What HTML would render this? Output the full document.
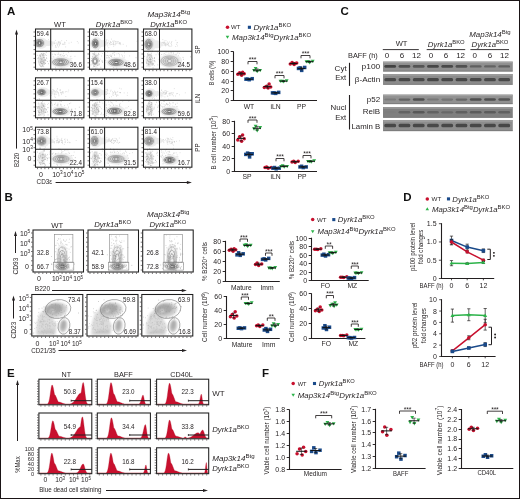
<!DOCTYPE html>
<html><head><meta charset="utf-8"><style>
html,body{margin:0;padding:0;background:#fff;}
body{width:520px;height:499px;overflow:hidden;}
svg{display:block;filter:blur(0.45px);font-family:"Liberation Sans", sans-serif;}
</style></head><body>
<svg width="520" height="499" viewBox="0 0 520 499">
<text x="6.9" y="15.3" font-size="11.5" text-anchor="start" fill="#111" font-weight="bold">A</text>
<text x="4.6" y="200.8" font-size="11.5" text-anchor="start" fill="#111" font-weight="bold">B</text>
<text x="340.4" y="15.4" font-size="11.5" text-anchor="start" fill="#111" font-weight="bold">C</text>
<text x="403.2" y="200.6" font-size="11.5" text-anchor="start" fill="#111" font-weight="bold">D</text>
<text x="7.0" y="377.2" font-size="11.5" text-anchor="start" fill="#111" font-weight="bold">E</text>
<text x="262.0" y="377.2" font-size="11.5" text-anchor="start" fill="#111" font-weight="bold">F</text>
<circle cx="227.50" cy="27.30" r="1.75" fill="#c8102e"/>
<text x="231.1" y="29.4" font-size="5.76" text-anchor="start" fill="#231f20" textLength="9.4" lengthAdjust="spacingAndGlyphs">WT</text>
<rect x="247.85" y="25.75" width="3.10" height="3.10" fill="#1a4a8a"/>
<text x="253.4" y="29.9" font-size="8.0" text-anchor="start" fill="#231f20" textLength="37.8" lengthAdjust="spacingAndGlyphs"><tspan font-style="italic">Dyrk1a</tspan><tspan font-size="6.08" dy="-2.88" font-style="normal">BKO</tspan></text>
<path d="M225.74,35.82 L229.26,35.82 L227.50,38.86 Z" fill="#2db34a"/>
<text x="232" y="39.6" font-size="8.0" text-anchor="start" fill="#231f20" textLength="79.3" lengthAdjust="spacingAndGlyphs"><tspan font-style="italic">Map3k14</tspan><tspan font-size="6.08" dy="-2.88" font-style="normal">Btg</tspan><tspan font-style="italic" dy="2.88">Dyrk1a</tspan><tspan font-size="6.08" dy="-2.88" font-style="normal">BKO</tspan></text>
<circle cx="312.70" cy="219.60" r="1.75" fill="#c8102e"/>
<text x="316.9" y="221.7" font-size="5.76" text-anchor="start" fill="#231f20" textLength="9.6" lengthAdjust="spacingAndGlyphs">WT</text>
<rect x="332.25" y="218.05" width="3.10" height="3.10" fill="#1a4a8a"/>
<text x="337.7" y="222.2" font-size="8.0" text-anchor="start" fill="#231f20" textLength="37.0" lengthAdjust="spacingAndGlyphs"><tspan font-style="italic">Dyrk1a</tspan><tspan font-size="6.08" dy="-2.88" font-style="normal">BKO</tspan></text>
<path d="M310.94,230.22 L314.46,230.22 L312.70,233.26 Z" fill="#2db34a"/>
<text x="317.5" y="234.0" font-size="8.0" text-anchor="start" fill="#231f20" textLength="78.0" lengthAdjust="spacingAndGlyphs"><tspan font-style="italic">Map3k14</tspan><tspan font-size="6.08" dy="-2.88" font-style="normal">Btg</tspan><tspan font-style="italic" dy="2.88">Dyrk1a</tspan><tspan font-size="6.08" dy="-2.88" font-style="normal">BKO</tspan></text>
<circle cx="427.30" cy="198.90" r="1.75" fill="#c8102e"/>
<text x="431.5" y="201.0" font-size="5.76" text-anchor="start" fill="#231f20" textLength="9.7" lengthAdjust="spacingAndGlyphs">WT</text>
<rect x="446.95" y="197.35" width="3.10" height="3.10" fill="#1a4a8a"/>
<text x="452.3" y="201.5" font-size="8.0" text-anchor="start" fill="#231f20" textLength="37.0" lengthAdjust="spacingAndGlyphs"><tspan font-style="italic">Dyrk1a</tspan><tspan font-size="6.08" dy="-2.88" font-style="normal">BKO</tspan></text>
<path d="M425.54,210.28 L429.06,210.28 L427.30,207.24 Z" fill="#2db34a"/>
<text x="431.9" y="211.5" font-size="8.0" text-anchor="start" fill="#231f20" textLength="78.2" lengthAdjust="spacingAndGlyphs"><tspan font-style="italic">Map3k14</tspan><tspan font-size="6.08" dy="-2.88" font-style="normal">Btg</tspan><tspan font-style="italic" dy="2.88">Dyrk1a</tspan><tspan font-size="6.08" dy="-2.88" font-style="normal">BKO</tspan></text>
<circle cx="293.20" cy="383.50" r="1.75" fill="#c8102e"/>
<text x="297.7" y="385.6" font-size="5.616" text-anchor="start" fill="#231f20" textLength="8.8" lengthAdjust="spacingAndGlyphs">WT</text>
<rect x="312.95" y="381.95" width="3.10" height="3.10" fill="#1a4a8a"/>
<text x="318.7" y="386.1" font-size="7.8" text-anchor="start" fill="#231f20" textLength="36.0" lengthAdjust="spacingAndGlyphs"><tspan font-style="italic">Dyrk1a</tspan><tspan font-size="5.93" dy="-2.81" font-style="normal">BKO</tspan></text>
<path d="M291.44,393.72 L294.96,393.72 L293.20,396.76 Z" fill="#2db34a"/>
<text x="297.8" y="397.5" font-size="7.8" text-anchor="start" fill="#231f20" textLength="79.0" lengthAdjust="spacingAndGlyphs"><tspan font-style="italic">Map3k14</tspan><tspan font-size="5.93" dy="-2.81" font-style="normal">Btg</tspan><tspan font-style="italic" dy="2.81">Dyrk1a</tspan><tspan font-size="5.93" dy="-2.81" font-style="normal">BKO</tspan></text>
<ellipse cx="41.50" cy="60.20" rx="3.80" ry="7.00" fill="#ebebeb" stroke="none" stroke-width="0.6"/>
<path d="M41.1,59.4h0.7 M41.2,63.4h0.7 M41.2,53.5h0.7 M42.3,59.0h0.7 M41.0,60.7h0.7 M42.1,65.4h0.7 M43.1,60.7h0.7 M39.7,55.6h0.7 M42.1,66.1h0.7 M41.6,59.7h0.7 M42.8,53.7h0.7 M40.7,62.4h0.7 M43.7,59.1h0.7 M42.4,61.3h0.7 M43.5,55.2h0.7 M42.9,53.4h0.7 M39.2,64.1h0.7 M43.2,54.7h0.7 M43.6,55.7h0.7 M41.3,58.9h0.7 M41.8,63.9h0.7 M43.1,61.8h0.7 M43.1,62.4h0.7 M39.9,57.0h0.7 M40.3,62.4h0.7 M39.5,55.3h0.7 M43.4,66.6h0.7 M42.8,64.0h0.7 M45.1,59.8h0.7 M37.9,57.8h0.7 M43.9,53.7h0.7 M41.6,61.3h0.7 M40.7,63.5h0.7 M43.0,57.5h0.7 M40.1,56.5h0.7 M43.9,57.6h0.7 M41.3,63.6h0.7 M39.7,58.9h0.7 M36.9,55.3h0.7 M40.1,62.1h0.7 M44.5,60.1h0.7 M42.2,61.0h0.7 M44.2,64.2h0.7 M42.2,55.7h0.7 M43.8,61.9h0.7 M44.6,60.1h0.7 M46.4,58.6h0.7 M45.5,60.7h0.7 M40.2,55.1h0.7 M41.1,66.6h0.7 M43.5,63.3h0.7 M42.9,57.7h0.7 M39.9,60.2h0.7 M45.8,55.5h0.7 M40.4,66.3h0.7 M40.4,58.6h0.7 M41.7,54.6h0.7 M42.0,54.8h0.7 M43.7,60.2h0.7 M47.2,61.5h0.7 M44.9,54.3h0.7 M41.2,61.7h0.7 M45.9,52.6h0.7 M44.0,62.9h0.7 M45.3,63.4h0.7 M41.6,57.9h0.7 M38.4,61.1h0.7 M40.0,61.6h0.7 M37.6,58.4h0.7 M42.2,63.9h0.7 M45.1,60.0h0.7 M38.7,62.3h0.7 M42.8,62.4h0.7 M39.7,65.3h0.7 M41.7,63.3h0.7" stroke="#a8a8a8" stroke-width="0.70" fill="none"/>
<path d="M64.6,44.2h0.7 M58.2,47.0h0.7 M57.9,42.6h0.7 M57.0,45.8h0.7 M57.1,44.0h0.7 M64.1,42.2h0.7 M45.1,43.6h0.7 M57.8,42.0h0.7 M62.0,44.2h0.7 M49.8,44.0h0.7 M55.0,40.4h0.7 M59.2,43.0h0.7 M51.5,44.0h0.7 M59.5,42.1h0.7 M58.9,44.9h0.7 M51.7,43.8h0.7 M56.3,47.2h0.7 M44.2,44.4h0.7 M54.3,42.9h0.7 M68.7,43.1h0.7 M70.9,42.3h0.7 M58.6,42.2h0.7 M51.8,43.2h0.7 M54.5,43.5h0.7 M42.6,46.7h0.7 M55.2,46.2h0.7 M49.8,43.6h0.7 M76.9,41.5h0.7 M46.6,42.1h0.7 M59.4,44.3h0.7 M64.7,42.6h0.7 M45.9,42.3h0.7 M64.4,43.9h0.7 M43.6,43.0h0.7 M65.4,46.9h0.7 M60.0,43.7h0.7 M48.2,41.6h0.7 M56.6,44.0h0.7 M60.1,42.2h0.7 M48.8,41.7h0.7 M48.8,44.3h0.7 M41.3,42.5h0.7 M59.2,45.8h0.7 M56.8,44.9h0.7 M53.7,41.8h0.7 M51.9,45.8h0.7 M62.8,44.0h0.7 M77.9,43.0h0.7 M60.3,43.7h0.7 M54.9,47.3h0.7 M66.1,40.6h0.7 M53.7,43.9h0.7 M61.4,40.7h0.7 M41.6,39.7h0.7 M55.8,42.9h0.7 M58.5,41.7h0.7 M48.3,39.5h0.7 M58.4,43.8h0.7 M62.8,44.5h0.7 M55.1,45.5h0.7" stroke="#c6c6c6" stroke-width="0.70" fill="none"/>
<path d="M57.6,54.5h0.7 M55.0,54.7h0.7 M43.4,56.6h0.7 M60.3,55.3h0.7 M53.6,57.1h0.7 M70.6,56.3h0.7 M55.0,54.7h0.7 M58.1,53.0h0.7 M57.7,56.4h0.7 M71.5,58.6h0.7 M65.8,54.4h0.7 M63.3,53.4h0.7 M60.8,57.2h0.7 M53.2,61.2h0.7 M62.6,51.4h0.7 M62.5,55.2h0.7 M58.6,57.4h0.7 M61.3,51.1h0.7 M50.5,58.1h0.7 M67.7,61.0h0.7 M71.2,51.1h0.7 M64.0,51.4h0.7 M69.9,56.8h0.7 M50.6,61.2h0.7 M63.1,51.5h0.7 M60.7,54.4h0.7 M59.4,55.0h0.7 M68.2,52.6h0.7 M60.8,60.7h0.7 M52.8,56.7h0.7 M60.0,54.5h0.7 M63.1,56.4h0.7 M52.0,60.6h0.7 M64.1,55.8h0.7 M54.1,54.2h0.7 M67.2,55.8h0.7 M61.8,55.7h0.7 M62.9,55.9h0.7 M63.9,55.7h0.7 M64.4,57.9h0.7 M57.8,54.1h0.7 M52.0,54.3h0.7 M51.7,58.4h0.7 M58.3,60.1h0.7 M74.6,56.3h0.7" stroke="#c6c6c6" stroke-width="0.70" fill="none"/>
<path d="M49.5,61.0h0.7 M60.1,57.5h0.7 M58.8,63.1h0.7 M57.3,59.8h0.7 M55.1,67.8h0.7 M59.5,59.6h0.7 M57.9,65.2h0.7 M55.7,63.7h0.7 M65.8,64.6h0.7 M70.7,60.5h0.7 M68.8,59.7h0.7 M57.7,66.0h0.7 M66.5,62.2h0.7 M52.0,64.0h0.7 M56.1,59.3h0.7 M55.9,63.0h0.7 M45.3,63.3h0.7 M61.9,60.4h0.7 M68.1,64.1h0.7 M56.2,60.1h0.7 M65.6,57.4h0.7 M58.2,60.2h0.7 M61.1,62.9h0.7 M60.9,65.8h0.7 M62.2,61.2h0.7 M51.9,64.5h0.7 M64.4,66.8h0.7 M55.2,62.3h0.7 M60.2,61.9h0.7 M60.7,56.8h0.7 M66.5,64.3h0.7 M58.3,62.1h0.7 M60.7,68.3h0.7 M48.1,63.7h0.7 M50.0,54.1h0.7 M46.1,57.8h0.7 M68.3,59.5h0.7 M59.0,58.5h0.7 M65.0,58.7h0.7 M70.1,59.1h0.7 M55.1,62.6h0.7 M60.8,66.7h0.7 M61.5,58.4h0.7 M56.6,60.4h0.7 M65.8,63.4h0.7 M59.7,64.9h0.7 M56.8,61.8h0.7 M61.9,67.0h0.7 M59.9,61.1h0.7" stroke="#a8a8a8" stroke-width="0.70" fill="none"/>
<ellipse cx="40.30" cy="43.10" rx="7.40" ry="5.80" fill="#eeeeee" stroke="none" stroke-width="0.6"/>
<ellipse cx="46.00" cy="43.10" rx="8.04" ry="2.88" fill="#ebebeb" stroke="none" stroke-width="0.6"/>
<ellipse cx="39.80" cy="43.10" rx="5.40" ry="4.40" fill="#dcdcdc" stroke="none" stroke-width="0.6"/>
<ellipse cx="39.30" cy="43.10" rx="4.20" ry="3.60" fill="none" stroke="#7c7c7c" stroke-width="0.7"/>
<ellipse cx="39.37" cy="43.10" rx="3.19" ry="2.74" fill="none" stroke="#666666" stroke-width="0.7"/>
<ellipse cx="39.44" cy="43.10" rx="2.18" ry="1.87" fill="none" stroke="#4f4f4f" stroke-width="0.7"/>
<ellipse cx="39.51" cy="43.10" rx="1.26" ry="1.08" fill="none" stroke="#383838" stroke-width="0.7"/>
<ellipse cx="39.50" cy="43.10" rx="0.50" ry="0.54" fill="#eeeeee" stroke="none" stroke-width="0.6"/>
<ellipse cx="61.60" cy="62.20" rx="11.20" ry="5.70" fill="#eeeeee" stroke="none" stroke-width="0.6"/>
<ellipse cx="61.10" cy="62.20" rx="9.20" ry="4.30" fill="#dcdcdc" stroke="none" stroke-width="0.6"/>
<ellipse cx="60.60" cy="62.20" rx="8.00" ry="3.50" fill="none" stroke="#909090" stroke-width="0.7"/>
<ellipse cx="60.67" cy="62.20" rx="6.08" ry="2.66" fill="none" stroke="#808080" stroke-width="0.7"/>
<ellipse cx="60.74" cy="62.20" rx="4.16" ry="1.82" fill="none" stroke="#6f6f6f" stroke-width="0.7"/>
<ellipse cx="60.81" cy="62.20" rx="2.40" ry="1.05" fill="none" stroke="#5f5f5f" stroke-width="0.7"/>
<ellipse cx="60.80" cy="62.20" rx="0.96" ry="0.53" fill="#eeeeee" stroke="none" stroke-width="0.6"/>
<rect x="35.5" y="29" width="48.4" height="40.2" fill="none" stroke="#1e1e1e" stroke-width="1.05"/>
<line x1="35.5" y1="51.2" x2="83.9" y2="51.2" stroke="#1e1e1e" stroke-width="1.05"/>
<line x1="50.7" y1="29" x2="50.7" y2="69.2" stroke="#1e1e1e" stroke-width="1.05"/>
<path d="M33.5,32.0H35.0 M33.5,36.4H35.0 M33.5,40.8H35.0 M33.5,45.2H35.0 M33.5,49.6H35.0 M33.5,54.0H35.0 M33.5,58.4H35.0 M33.5,62.8H35.0 M33.5,67.2H35.0" stroke="#231f20" stroke-width="0.6" fill="none"/>
<path d="M37.5,69.7V71.2 M41.2,69.7V71.2 M44.9,69.7V71.2 M48.6,69.7V71.2 M52.3,69.7V71.2 M56.0,69.7V71.2 M59.7,69.7V71.2 M63.4,69.7V71.2 M67.1,69.7V71.2 M70.8,69.7V71.2 M74.5,69.7V71.2 M78.2,69.7V71.2 M81.9,69.7V71.2" stroke="#231f20" stroke-width="0.6" fill="none"/>
<text x="36.8" y="35.9" font-size="7.0" text-anchor="start" fill="#231f20" textLength="12.2" lengthAdjust="spacingAndGlyphs">59.4</text>
<text x="81.9" y="66.9" font-size="7.0" text-anchor="end" fill="#231f20" textLength="12.2" lengthAdjust="spacingAndGlyphs">36.6</text>
<ellipse cx="95.50" cy="60.20" rx="3.80" ry="7.00" fill="#ebebeb" stroke="none" stroke-width="0.6"/>
<path d="M92.9,63.3h0.7 M94.0,61.7h0.7 M90.7,64.9h0.7 M92.2,56.7h0.7 M98.1,54.2h0.7 M95.3,60.5h0.7 M93.0,66.2h0.7 M99.2,51.3h0.7 M91.9,63.8h0.7 M92.2,58.5h0.7 M95.8,63.3h0.7 M94.9,60.6h0.7 M93.6,66.0h0.7 M94.3,61.7h0.7 M94.2,60.7h0.7 M95.1,59.5h0.7 M93.0,63.8h0.7 M99.0,61.3h0.7 M97.3,64.0h0.7 M97.8,61.6h0.7 M96.0,64.1h0.7 M95.7,55.8h0.7 M95.6,51.7h0.7 M95.5,62.1h0.7 M98.6,60.9h0.7 M97.8,60.2h0.7 M92.9,53.8h0.7 M93.1,54.1h0.7 M97.1,59.3h0.7 M96.9,60.5h0.7 M98.1,65.0h0.7 M93.9,59.0h0.7 M94.2,52.9h0.7 M97.2,65.5h0.7 M95.5,58.0h0.7 M98.2,49.6h0.7 M95.9,60.8h0.7 M94.1,66.5h0.7 M97.9,59.0h0.7 M95.3,58.5h0.7 M94.2,54.3h0.7 M98.9,64.8h0.7 M97.5,55.3h0.7 M96.0,56.1h0.7 M93.3,62.1h0.7 M93.2,60.0h0.7 M98.2,53.4h0.7 M100.5,67.3h0.7 M92.4,53.8h0.7 M94.8,55.6h0.7 M94.8,48.6h0.7 M94.9,68.3h0.7 M92.7,59.0h0.7 M91.8,63.1h0.7 M96.0,58.5h0.7 M96.9,57.9h0.7 M92.2,61.6h0.7 M95.1,60.9h0.7 M96.4,57.9h0.7 M96.6,68.0h0.7 M92.7,68.0h0.7 M94.9,56.8h0.7 M101.6,60.9h0.7 M98.9,63.9h0.7 M91.3,60.7h0.7 M94.2,54.2h0.7 M91.1,60.7h0.7 M97.0,62.0h0.7 M94.7,56.6h0.7 M93.0,57.7h0.7 M92.9,59.3h0.7 M95.4,56.2h0.7 M94.9,56.8h0.7 M95.5,62.5h0.7 M95.9,62.3h0.7 M91.4,58.5h0.7 M96.2,63.1h0.7 M91.5,60.9h0.7" stroke="#a8a8a8" stroke-width="0.70" fill="none"/>
<path d="M120.0,43.2h0.7 M111.6,44.3h0.7 M113.8,44.7h0.7 M112.7,43.8h0.7 M107.1,43.2h0.7 M120.3,43.1h0.7 M111.1,42.6h0.7 M117.3,42.0h0.7 M118.1,41.8h0.7 M105.3,43.9h0.7 M113.0,44.0h0.7 M119.1,42.8h0.7 M115.1,41.9h0.7 M120.4,44.6h0.7 M115.7,43.8h0.7 M107.1,42.9h0.7 M115.5,43.5h0.7 M113.0,41.1h0.7 M113.4,42.3h0.7 M105.2,43.2h0.7 M100.1,44.8h0.7 M117.7,43.4h0.7 M105.7,41.8h0.7 M111.2,39.1h0.7 M113.4,44.7h0.7 M110.2,42.6h0.7 M113.4,44.1h0.7 M119.3,43.5h0.7 M107.7,42.7h0.7 M113.4,46.3h0.7 M110.1,41.6h0.7 M106.5,39.7h0.7 M114.3,41.0h0.7 M104.2,39.9h0.7 M104.9,44.5h0.7 M103.7,40.4h0.7 M113.4,42.9h0.7 M115.0,44.8h0.7 M112.1,41.2h0.7 M111.4,44.4h0.7 M108.4,40.9h0.7 M119.4,42.8h0.7 M109.5,43.5h0.7 M118.9,44.0h0.7 M110.0,44.7h0.7 M126.2,46.0h0.7 M116.6,41.5h0.7 M136.6,41.3h0.7 M109.8,42.2h0.7 M122.8,44.3h0.7 M102.9,44.0h0.7 M115.8,42.9h0.7 M104.3,42.2h0.7 M109.4,43.5h0.7 M108.8,44.8h0.7 M106.0,40.4h0.7 M107.4,45.9h0.7 M108.5,47.7h0.7 M115.4,41.4h0.7 M106.8,43.9h0.7" stroke="#c6c6c6" stroke-width="0.70" fill="none"/>
<path d="M105.8,62.1h0.7 M107.1,57.9h0.7 M124.2,55.9h0.7 M107.0,55.5h0.7 M116.5,58.4h0.7 M114.4,52.7h0.7 M114.3,54.5h0.7 M98.7,54.5h0.7 M104.0,57.7h0.7 M127.6,60.8h0.7 M110.0,55.0h0.7 M118.8,58.9h0.7 M111.1,55.8h0.7 M129.4,55.9h0.7 M110.6,56.5h0.7 M118.1,53.6h0.7 M112.3,53.3h0.7 M112.1,60.9h0.7 M119.2,56.0h0.7 M107.5,55.4h0.7 M121.4,54.8h0.7 M124.2,52.8h0.7 M112.0,60.6h0.7 M99.9,59.2h0.7 M101.0,56.0h0.7 M112.8,58.3h0.7 M91.9,51.4h0.7 M110.0,56.3h0.7 M107.7,55.6h0.7 M105.7,55.2h0.7 M108.1,56.8h0.7 M118.1,59.8h0.7 M109.4,55.4h0.7 M114.3,55.5h0.7 M113.6,52.3h0.7 M116.6,53.9h0.7 M107.3,52.2h0.7 M122.1,55.8h0.7 M122.0,56.9h0.7 M102.1,53.5h0.7 M119.3,54.3h0.7 M106.4,55.8h0.7 M112.8,53.7h0.7 M111.7,55.0h0.7 M95.9,57.5h0.7" stroke="#c6c6c6" stroke-width="0.70" fill="none"/>
<path d="M110.7,66.2h0.7 M108.5,57.9h0.7 M123.7,57.8h0.7 M111.9,64.1h0.7 M113.9,57.6h0.7 M117.2,61.8h0.7 M124.3,64.1h0.7 M135.7,57.7h0.7 M115.9,59.3h0.7 M123.5,64.8h0.7 M120.9,60.2h0.7 M111.2,56.6h0.7 M127.1,63.9h0.7 M114.3,65.1h0.7 M120.9,65.2h0.7 M105.5,60.3h0.7 M117.3,63.4h0.7 M122.2,59.5h0.7 M120.5,64.9h0.7 M115.9,64.6h0.7 M127.7,62.7h0.7 M123.9,59.9h0.7 M119.8,65.0h0.7 M111.1,65.6h0.7 M111.6,60.1h0.7 M116.0,68.0h0.7 M118.0,65.1h0.7 M111.3,62.6h0.7 M108.4,60.8h0.7 M121.4,62.3h0.7 M125.4,61.8h0.7 M114.7,66.1h0.7 M111.8,58.0h0.7 M124.4,63.6h0.7 M102.0,62.5h0.7 M113.4,67.4h0.7 M111.3,60.7h0.7 M110.1,59.4h0.7 M111.5,58.3h0.7 M109.3,57.8h0.7 M106.3,57.9h0.7 M112.6,60.4h0.7 M108.1,63.8h0.7 M115.7,61.2h0.7 M113.0,67.0h0.7 M117.6,63.8h0.7 M99.2,60.5h0.7 M101.9,61.2h0.7 M118.4,60.5h0.7" stroke="#a8a8a8" stroke-width="0.70" fill="none"/>
<ellipse cx="96.20" cy="43.50" rx="6.20" ry="6.50" fill="#eeeeee" stroke="none" stroke-width="0.6"/>
<ellipse cx="100.90" cy="43.50" rx="6.84" ry="3.44" fill="#ebebeb" stroke="none" stroke-width="0.6"/>
<ellipse cx="95.70" cy="43.50" rx="4.20" ry="5.10" fill="#dcdcdc" stroke="none" stroke-width="0.6"/>
<ellipse cx="95.20" cy="43.50" rx="3.00" ry="4.30" fill="none" stroke="#767676" stroke-width="0.7"/>
<ellipse cx="95.27" cy="43.50" rx="2.28" ry="3.27" fill="none" stroke="#5d5d5d" stroke-width="0.7"/>
<ellipse cx="95.34" cy="43.50" rx="1.56" ry="2.24" fill="none" stroke="#444444" stroke-width="0.7"/>
<ellipse cx="95.41" cy="43.50" rx="0.90" ry="1.29" fill="none" stroke="#2a2a2a" stroke-width="0.7"/>
<ellipse cx="95.40" cy="43.50" rx="0.36" ry="0.64" fill="#eeeeee" stroke="none" stroke-width="0.6"/>
<ellipse cx="117.00" cy="62.40" rx="10.40" ry="5.40" fill="#eeeeee" stroke="none" stroke-width="0.6"/>
<ellipse cx="116.50" cy="62.40" rx="8.40" ry="4.00" fill="#dcdcdc" stroke="none" stroke-width="0.6"/>
<ellipse cx="116.00" cy="62.40" rx="7.20" ry="3.20" fill="none" stroke="#838383" stroke-width="0.7"/>
<ellipse cx="116.07" cy="62.40" rx="5.47" ry="2.43" fill="none" stroke="#6e6e6e" stroke-width="0.7"/>
<ellipse cx="116.14" cy="62.40" rx="3.74" ry="1.66" fill="none" stroke="#5a5a5a" stroke-width="0.7"/>
<ellipse cx="116.21" cy="62.40" rx="2.16" ry="0.96" fill="none" stroke="#454545" stroke-width="0.7"/>
<ellipse cx="116.20" cy="62.40" rx="0.86" ry="0.48" fill="#eeeeee" stroke="none" stroke-width="0.6"/>
<rect x="89.5" y="29" width="48.4" height="40.2" fill="none" stroke="#1e1e1e" stroke-width="1.05"/>
<line x1="89.5" y1="51.2" x2="137.9" y2="51.2" stroke="#1e1e1e" stroke-width="1.05"/>
<line x1="104.6" y1="29" x2="104.6" y2="69.2" stroke="#1e1e1e" stroke-width="1.05"/>
<path d="M87.5,32.0H89.0 M87.5,36.4H89.0 M87.5,40.8H89.0 M87.5,45.2H89.0 M87.5,49.6H89.0 M87.5,54.0H89.0 M87.5,58.4H89.0 M87.5,62.8H89.0 M87.5,67.2H89.0" stroke="#231f20" stroke-width="0.6" fill="none"/>
<path d="M91.5,69.7V71.2 M95.2,69.7V71.2 M98.9,69.7V71.2 M102.6,69.7V71.2 M106.3,69.7V71.2 M110.0,69.7V71.2 M113.7,69.7V71.2 M117.4,69.7V71.2 M121.1,69.7V71.2 M124.8,69.7V71.2 M128.5,69.7V71.2 M132.2,69.7V71.2 M135.9,69.7V71.2" stroke="#231f20" stroke-width="0.6" fill="none"/>
<text x="90.8" y="35.9" font-size="7.0" text-anchor="start" fill="#231f20" textLength="12.2" lengthAdjust="spacingAndGlyphs">45.9</text>
<text x="135.9" y="66.9" font-size="7.0" text-anchor="end" fill="#231f20" textLength="12.2" lengthAdjust="spacingAndGlyphs">48.6</text>
<ellipse cx="149.50" cy="60.20" rx="3.80" ry="7.00" fill="#ebebeb" stroke="none" stroke-width="0.6"/>
<path d="M150.8,55.6h0.7 M150.9,53.2h0.7 M148.8,62.1h0.7 M150.8,59.6h0.7 M154.3,58.3h0.7 M148.4,47.8h0.7 M153.9,58.5h0.7 M146.6,66.1h0.7 M152.6,60.7h0.7 M145.9,62.1h0.7 M147.9,54.9h0.7 M152.1,50.6h0.7 M150.9,62.3h0.7 M154.6,61.7h0.7 M144.4,56.4h0.7 M149.7,61.8h0.7 M152.0,51.4h0.7 M148.7,64.6h0.7 M148.5,65.1h0.7 M153.8,65.6h0.7 M151.3,63.9h0.7 M147.5,53.7h0.7 M152.0,58.6h0.7 M149.4,57.6h0.7 M148.5,61.2h0.7 M146.9,60.5h0.7 M150.1,59.9h0.7 M147.6,63.7h0.7 M154.2,57.5h0.7 M152.6,64.2h0.7 M147.9,63.7h0.7 M150.0,62.3h0.7 M151.1,56.2h0.7 M147.6,54.7h0.7 M149.1,59.7h0.7 M149.9,56.9h0.7 M151.8,64.3h0.7 M153.4,63.4h0.7 M150.0,63.2h0.7 M151.0,57.3h0.7 M152.7,67.9h0.7 M154.4,60.4h0.7 M150.3,62.1h0.7 M149.5,63.0h0.7 M149.2,59.3h0.7 M153.9,60.9h0.7 M149.7,64.2h0.7 M149.9,61.5h0.7 M149.3,54.7h0.7 M149.4,55.1h0.7 M150.0,54.9h0.7 M151.8,63.6h0.7 M150.2,59.7h0.7 M150.5,51.4h0.7 M146.8,59.5h0.7 M150.4,59.8h0.7 M147.0,60.8h0.7 M148.4,55.4h0.7 M150.3,59.3h0.7 M152.5,63.2h0.7 M151.3,61.6h0.7 M147.4,56.0h0.7 M146.8,59.3h0.7 M148.6,58.9h0.7 M148.0,51.8h0.7 M147.0,53.9h0.7 M149.2,57.1h0.7 M147.8,61.2h0.7 M148.0,64.4h0.7 M148.5,61.2h0.7 M146.2,63.2h0.7 M148.5,62.0h0.7 M150.3,59.4h0.7 M150.0,58.5h0.7 M152.9,64.4h0.7 M150.7,54.9h0.7 M146.8,57.2h0.7" stroke="#a8a8a8" stroke-width="0.70" fill="none"/>
<path d="M164.0,45.1h0.7 M159.8,46.4h0.7 M165.6,40.7h0.7 M162.5,39.6h0.7 M160.7,43.3h0.7 M161.6,43.7h0.7 M163.0,43.2h0.7 M175.4,46.5h0.7 M158.2,46.6h0.7 M155.1,42.8h0.7 M175.5,40.3h0.7 M169.3,42.0h0.7 M164.7,44.0h0.7 M176.6,42.8h0.7 M165.2,45.4h0.7 M164.0,42.8h0.7 M165.2,44.5h0.7 M171.3,42.6h0.7 M162.7,44.9h0.7 M164.5,44.0h0.7 M165.5,43.0h0.7 M160.4,45.1h0.7 M158.5,46.4h0.7 M167.0,42.0h0.7 M167.4,44.6h0.7 M170.6,46.4h0.7 M163.2,43.0h0.7 M161.7,42.5h0.7 M160.7,44.8h0.7 M165.7,43.4h0.7 M160.8,44.9h0.7 M162.3,42.4h0.7 M164.6,43.8h0.7 M158.6,45.8h0.7 M171.1,44.4h0.7 M166.5,45.2h0.7 M165.4,45.9h0.7 M176.4,44.4h0.7 M168.5,45.9h0.7 M163.4,42.3h0.7 M171.5,41.5h0.7 M177.2,45.9h0.7 M166.8,44.4h0.7 M177.0,42.6h0.7 M158.1,43.2h0.7 M163.9,42.5h0.7 M166.6,44.5h0.7 M160.3,47.2h0.7 M156.6,42.0h0.7 M168.0,43.9h0.7 M168.3,43.2h0.7 M158.9,43.1h0.7 M161.2,45.2h0.7 M162.5,45.7h0.7 M169.4,46.2h0.7 M171.5,45.7h0.7 M170.6,43.4h0.7 M163.9,41.0h0.7 M167.5,43.1h0.7 M168.2,45.2h0.7" stroke="#c6c6c6" stroke-width="0.70" fill="none"/>
<path d="M157.9,53.7h0.7 M165.0,54.9h0.7 M168.6,53.3h0.7 M167.7,52.0h0.7 M152.3,58.0h0.7 M158.3,54.8h0.7 M157.5,52.7h0.7 M164.6,55.2h0.7 M174.3,57.3h0.7 M165.6,58.1h0.7 M175.2,57.2h0.7 M164.6,58.7h0.7 M179.8,57.9h0.7 M179.8,58.5h0.7 M173.3,53.5h0.7 M159.6,56.1h0.7 M155.7,54.7h0.7 M173.5,54.5h0.7 M171.1,52.8h0.7 M163.9,58.8h0.7 M168.9,56.9h0.7 M179.3,59.4h0.7 M161.3,59.5h0.7 M163.1,56.2h0.7 M167.5,58.9h0.7 M159.5,57.3h0.7 M171.1,58.2h0.7 M165.9,58.7h0.7 M162.4,59.1h0.7 M169.9,52.7h0.7 M170.3,56.6h0.7 M164.9,54.4h0.7 M165.7,52.6h0.7 M179.2,53.4h0.7 M162.8,59.1h0.7 M171.5,58.0h0.7 M178.0,55.4h0.7 M160.1,58.3h0.7 M173.0,55.4h0.7 M158.5,59.3h0.7 M171.4,52.8h0.7 M172.9,52.6h0.7 M164.0,53.4h0.7 M162.9,54.1h0.7 M163.1,58.0h0.7" stroke="#c6c6c6" stroke-width="0.70" fill="none"/>
<path d="M171.7,63.8h0.7 M177.8,59.3h0.7 M170.0,63.4h0.7 M182.5,65.0h0.7 M180.0,65.6h0.7 M177.5,53.0h0.7 M176.1,62.0h0.7 M169.8,58.6h0.7 M166.1,62.9h0.7 M175.8,54.3h0.7 M171.1,58.5h0.7 M162.1,62.8h0.7 M166.9,58.0h0.7 M163.5,62.3h0.7 M169.3,56.1h0.7 M163.0,60.2h0.7 M172.5,56.3h0.7 M173.1,57.3h0.7 M190.3,56.8h0.7 M163.4,61.9h0.7 M162.5,64.7h0.7 M183.2,59.3h0.7 M170.7,58.7h0.7 M169.4,67.4h0.7 M176.2,56.9h0.7 M181.2,66.2h0.7 M173.1,58.0h0.7 M169.9,57.4h0.7 M173.0,59.6h0.7 M152.3,65.2h0.7 M170.9,65.9h0.7 M168.4,61.8h0.7 M177.9,62.7h0.7 M168.1,61.8h0.7 M182.7,57.4h0.7 M161.4,54.6h0.7 M173.5,63.8h0.7 M175.1,54.9h0.7 M177.1,66.4h0.7 M168.7,61.1h0.7 M174.6,62.7h0.7 M174.3,56.1h0.7 M168.1,55.5h0.7 M174.2,63.4h0.7 M168.6,62.3h0.7 M157.5,64.9h0.7 M165.8,61.6h0.7 M177.9,57.6h0.7 M178.6,61.6h0.7" stroke="#a8a8a8" stroke-width="0.70" fill="none"/>
<ellipse cx="149.60" cy="44.30" rx="6.80" ry="7.20" fill="#eeeeee" stroke="none" stroke-width="0.6"/>
<ellipse cx="155.05" cy="44.30" rx="7.74" ry="4.00" fill="#ebebeb" stroke="none" stroke-width="0.6"/>
<ellipse cx="149.10" cy="44.30" rx="4.80" ry="5.80" fill="#dcdcdc" stroke="none" stroke-width="0.6"/>
<ellipse cx="148.60" cy="44.30" rx="3.60" ry="5.00" fill="none" stroke="#838383" stroke-width="0.7"/>
<ellipse cx="148.67" cy="44.30" rx="2.74" ry="3.80" fill="none" stroke="#6e6e6e" stroke-width="0.7"/>
<ellipse cx="148.74" cy="44.30" rx="1.87" ry="2.60" fill="none" stroke="#5a5a5a" stroke-width="0.7"/>
<ellipse cx="148.81" cy="44.30" rx="1.08" ry="1.50" fill="none" stroke="#454545" stroke-width="0.7"/>
<ellipse cx="148.80" cy="44.30" rx="0.43" ry="0.75" fill="#eeeeee" stroke="none" stroke-width="0.6"/>
<ellipse cx="170.40" cy="61.00" rx="11.70" ry="7.20" fill="#eeeeee" stroke="none" stroke-width="0.6"/>
<ellipse cx="169.90" cy="61.00" rx="9.70" ry="5.80" fill="#dcdcdc" stroke="none" stroke-width="0.6"/>
<ellipse cx="169.40" cy="61.00" rx="8.50" ry="5.00" fill="none" stroke="#a9a9a9" stroke-width="0.7"/>
<ellipse cx="169.47" cy="61.00" rx="6.46" ry="3.80" fill="none" stroke="#a2a2a2" stroke-width="0.7"/>
<ellipse cx="169.54" cy="61.00" rx="4.42" ry="2.60" fill="none" stroke="#9b9b9b" stroke-width="0.7"/>
<ellipse cx="169.61" cy="61.00" rx="2.55" ry="1.50" fill="none" stroke="#949494" stroke-width="0.7"/>
<ellipse cx="169.60" cy="61.00" rx="1.02" ry="0.75" fill="#eeeeee" stroke="none" stroke-width="0.6"/>
<rect x="143.5" y="29" width="48.4" height="40.2" fill="none" stroke="#1e1e1e" stroke-width="1.05"/>
<line x1="143.5" y1="51.2" x2="191.9" y2="51.2" stroke="#1e1e1e" stroke-width="1.05"/>
<line x1="159.5" y1="29" x2="159.5" y2="69.2" stroke="#1e1e1e" stroke-width="1.05"/>
<path d="M141.5,32.0H143.0 M141.5,36.4H143.0 M141.5,40.8H143.0 M141.5,45.2H143.0 M141.5,49.6H143.0 M141.5,54.0H143.0 M141.5,58.4H143.0 M141.5,62.8H143.0 M141.5,67.2H143.0" stroke="#231f20" stroke-width="0.6" fill="none"/>
<path d="M145.5,69.7V71.2 M149.2,69.7V71.2 M152.9,69.7V71.2 M156.6,69.7V71.2 M160.3,69.7V71.2 M164.0,69.7V71.2 M167.7,69.7V71.2 M171.4,69.7V71.2 M175.1,69.7V71.2 M178.8,69.7V71.2 M182.5,69.7V71.2 M186.2,69.7V71.2 M189.9,69.7V71.2" stroke="#231f20" stroke-width="0.6" fill="none"/>
<text x="144.8" y="35.9" font-size="7.0" text-anchor="start" fill="#231f20" textLength="12.2" lengthAdjust="spacingAndGlyphs">68.0</text>
<text x="189.9" y="66.9" font-size="7.0" text-anchor="end" fill="#231f20" textLength="12.2" lengthAdjust="spacingAndGlyphs">24.5</text>
<ellipse cx="41.50" cy="109.05" rx="3.80" ry="6.75" fill="#ebebeb" stroke="none" stroke-width="0.6"/>
<path d="M41.6,111.6h0.7 M38.4,111.7h0.7 M41.7,113.7h0.7 M41.0,107.4h0.7 M42.4,108.8h0.7 M38.6,108.2h0.7 M44.7,108.6h0.7 M39.3,112.3h0.7 M36.9,99.5h0.7 M41.5,109.9h0.7 M42.1,105.0h0.7 M41.1,102.8h0.7 M42.0,101.8h0.7 M41.1,110.2h0.7 M37.1,106.7h0.7 M43.5,116.0h0.7 M37.7,110.6h0.7 M38.4,103.0h0.7 M45.5,112.1h0.7 M39.5,110.0h0.7 M43.1,109.9h0.7 M47.1,111.8h0.7 M39.7,108.1h0.7 M41.5,106.1h0.7 M38.8,115.2h0.7 M43.0,106.0h0.7 M43.2,112.1h0.7 M44.7,104.3h0.7 M43.4,106.3h0.7 M44.4,108.2h0.7 M37.0,108.1h0.7 M41.4,107.2h0.7 M37.8,104.0h0.7 M39.4,107.9h0.7 M44.7,112.2h0.7 M40.3,114.8h0.7 M38.1,112.1h0.7 M41.1,110.1h0.7 M43.1,106.0h0.7 M43.5,109.0h0.7 M47.5,107.7h0.7 M44.7,112.0h0.7 M38.6,115.2h0.7 M38.8,99.0h0.7 M43.6,113.9h0.7 M41.6,107.9h0.7 M45.5,112.3h0.7 M39.9,112.3h0.7 M38.4,106.5h0.7 M38.9,99.1h0.7 M38.6,114.6h0.7 M38.8,106.6h0.7 M38.6,112.9h0.7 M41.5,111.3h0.7 M41.2,103.8h0.7 M39.1,112.8h0.7 M41.4,112.5h0.7 M40.2,109.2h0.7 M43.2,105.1h0.7 M43.7,106.1h0.7 M44.7,112.6h0.7 M42.7,105.8h0.7 M41.0,110.4h0.7 M36.4,106.6h0.7 M43.8,103.3h0.7 M44.7,106.2h0.7 M42.3,103.9h0.7 M42.7,111.1h0.7 M44.3,115.1h0.7 M44.6,110.0h0.7 M38.4,115.0h0.7 M38.2,107.1h0.7 M43.3,111.0h0.7 M45.5,109.0h0.7 M37.3,107.8h0.7 M41.9,107.5h0.7" stroke="#a8a8a8" stroke-width="0.70" fill="none"/>
<path d="M67.7,91.8h0.7 M49.2,93.0h0.7 M51.0,95.3h0.7 M60.3,89.7h0.7 M65.5,96.5h0.7 M45.5,93.8h0.7 M61.6,92.5h0.7 M60.7,93.1h0.7 M54.0,94.7h0.7 M49.7,95.7h0.7 M68.4,90.1h0.7 M58.5,94.8h0.7 M55.3,91.9h0.7 M55.9,94.3h0.7 M54.6,92.2h0.7 M62.0,91.8h0.7 M52.9,89.8h0.7 M48.6,90.1h0.7 M47.3,90.9h0.7 M60.5,92.3h0.7 M53.1,90.4h0.7 M52.0,89.7h0.7 M50.5,93.5h0.7 M49.4,92.2h0.7 M54.5,96.6h0.7 M46.8,92.5h0.7 M56.3,90.8h0.7 M60.5,92.5h0.7 M51.6,93.0h0.7 M61.0,94.6h0.7 M54.5,94.8h0.7 M57.2,88.6h0.7 M61.9,92.1h0.7 M52.8,93.9h0.7 M55.4,94.0h0.7 M58.0,93.6h0.7 M62.9,93.1h0.7 M51.8,93.9h0.7 M58.6,95.8h0.7 M61.6,93.6h0.7 M53.5,91.5h0.7 M59.1,90.1h0.7 M50.9,92.0h0.7 M58.0,92.6h0.7 M65.8,91.5h0.7 M62.9,91.9h0.7 M57.2,92.7h0.7 M45.1,92.3h0.7 M54.4,90.5h0.7 M46.2,91.4h0.7 M46.3,93.8h0.7 M56.9,89.2h0.7 M54.1,93.6h0.7 M54.6,91.7h0.7 M56.1,92.0h0.7 M47.5,92.1h0.7 M54.9,97.5h0.7 M57.1,91.4h0.7 M64.9,91.9h0.7 M60.1,90.6h0.7" stroke="#c6c6c6" stroke-width="0.70" fill="none"/>
<path d="M68.9,103.7h0.7 M60.6,108.1h0.7 M55.9,105.3h0.7 M62.1,107.0h0.7 M50.4,105.8h0.7 M51.4,103.4h0.7 M53.5,108.3h0.7 M69.2,111.8h0.7 M57.6,103.2h0.7 M51.2,109.3h0.7 M47.2,104.5h0.7 M54.0,109.7h0.7 M50.9,108.1h0.7 M67.2,104.9h0.7 M61.3,101.5h0.7 M57.4,104.8h0.7 M39.9,106.3h0.7 M60.5,101.1h0.7 M48.1,103.4h0.7 M54.3,104.5h0.7 M51.3,102.8h0.7 M60.1,104.1h0.7 M57.3,104.7h0.7 M61.2,104.9h0.7 M64.0,105.6h0.7 M64.2,108.4h0.7 M47.8,107.6h0.7 M70.5,102.9h0.7 M57.8,104.4h0.7 M61.1,106.6h0.7 M53.3,108.6h0.7 M52.0,105.0h0.7 M65.2,110.2h0.7 M54.4,107.3h0.7 M59.5,101.3h0.7 M51.3,102.3h0.7 M54.5,104.3h0.7 M58.2,108.5h0.7 M61.0,111.9h0.7 M56.3,107.3h0.7 M60.9,109.1h0.7 M55.3,107.4h0.7 M69.4,103.5h0.7 M57.5,106.6h0.7 M55.0,103.1h0.7" stroke="#c6c6c6" stroke-width="0.70" fill="none"/>
<path d="M71.5,110.9h0.7 M70.9,110.2h0.7 M58.7,113.6h0.7 M58.7,109.2h0.7 M55.5,112.2h0.7 M55.8,111.7h0.7 M45.8,110.0h0.7 M58.9,110.2h0.7 M53.7,109.2h0.7 M60.4,115.4h0.7 M51.2,110.8h0.7 M66.2,112.4h0.7 M59.4,110.3h0.7 M60.1,111.2h0.7 M46.2,109.6h0.7 M47.7,114.9h0.7 M65.2,109.4h0.7 M56.1,114.9h0.7 M62.3,110.9h0.7 M53.0,110.0h0.7 M57.5,105.5h0.7 M63.3,110.7h0.7 M62.9,110.4h0.7 M78.9,107.2h0.7 M54.1,113.3h0.7 M74.9,108.9h0.7 M71.5,109.1h0.7 M68.1,111.7h0.7 M74.0,116.2h0.7 M52.9,110.7h0.7 M71.4,109.6h0.7 M56.0,111.8h0.7 M62.9,112.5h0.7 M55.3,112.0h0.7 M64.0,115.4h0.7 M62.1,108.2h0.7 M60.2,109.9h0.7 M68.3,107.1h0.7 M63.5,108.7h0.7 M68.0,113.5h0.7 M61.4,112.8h0.7 M57.9,113.3h0.7 M59.7,113.4h0.7 M60.4,105.0h0.7 M56.8,115.5h0.7 M69.2,111.8h0.7 M59.2,110.6h0.7 M64.0,113.0h0.7" stroke="#a8a8a8" stroke-width="0.70" fill="none"/>
<ellipse cx="42.50" cy="92.20" rx="7.20" ry="5.00" fill="#eeeeee" stroke="none" stroke-width="0.6"/>
<ellipse cx="47.10" cy="92.20" rx="6.72" ry="2.24" fill="#ebebeb" stroke="none" stroke-width="0.6"/>
<ellipse cx="42.00" cy="92.20" rx="5.20" ry="3.60" fill="#dcdcdc" stroke="none" stroke-width="0.6"/>
<ellipse cx="41.50" cy="92.20" rx="4.00" ry="2.80" fill="none" stroke="#7c7c7c" stroke-width="0.7"/>
<ellipse cx="41.57" cy="92.20" rx="3.04" ry="2.13" fill="none" stroke="#666666" stroke-width="0.7"/>
<ellipse cx="41.64" cy="92.20" rx="2.08" ry="1.46" fill="none" stroke="#4f4f4f" stroke-width="0.7"/>
<ellipse cx="41.71" cy="92.20" rx="1.20" ry="0.84" fill="none" stroke="#383838" stroke-width="0.7"/>
<ellipse cx="41.70" cy="92.20" rx="0.48" ry="0.42" fill="#eeeeee" stroke="none" stroke-width="0.6"/>
<ellipse cx="61.00" cy="111.50" rx="10.20" ry="5.10" fill="#eeeeee" stroke="none" stroke-width="0.6"/>
<ellipse cx="60.50" cy="111.50" rx="8.20" ry="3.70" fill="#dcdcdc" stroke="none" stroke-width="0.6"/>
<ellipse cx="60.00" cy="111.50" rx="7.00" ry="2.90" fill="none" stroke="#7c7c7c" stroke-width="0.7"/>
<ellipse cx="60.07" cy="111.50" rx="5.32" ry="2.20" fill="none" stroke="#666666" stroke-width="0.7"/>
<ellipse cx="60.14" cy="111.50" rx="3.64" ry="1.51" fill="none" stroke="#4f4f4f" stroke-width="0.7"/>
<ellipse cx="60.21" cy="111.50" rx="2.10" ry="0.87" fill="none" stroke="#383838" stroke-width="0.7"/>
<ellipse cx="60.20" cy="111.50" rx="0.84" ry="0.43" fill="#eeeeee" stroke="none" stroke-width="0.6"/>
<rect x="35.5" y="77.8" width="48.4" height="40.0" fill="none" stroke="#1e1e1e" stroke-width="1.05"/>
<line x1="35.5" y1="100.3" x2="83.9" y2="100.3" stroke="#1e1e1e" stroke-width="1.05"/>
<line x1="50.7" y1="77.8" x2="50.7" y2="117.8" stroke="#1e1e1e" stroke-width="1.05"/>
<path d="M33.5,80.8H35.0 M33.5,85.2H35.0 M33.5,89.5H35.0 M33.5,93.9H35.0 M33.5,98.3H35.0 M33.5,102.7H35.0 M33.5,107.0H35.0 M33.5,111.4H35.0 M33.5,115.8H35.0" stroke="#231f20" stroke-width="0.6" fill="none"/>
<path d="M37.5,118.3V119.8 M41.2,118.3V119.8 M44.9,118.3V119.8 M48.6,118.3V119.8 M52.3,118.3V119.8 M56.0,118.3V119.8 M59.7,118.3V119.8 M63.4,118.3V119.8 M67.1,118.3V119.8 M70.8,118.3V119.8 M74.5,118.3V119.8 M78.2,118.3V119.8 M81.9,118.3V119.8" stroke="#231f20" stroke-width="0.6" fill="none"/>
<text x="36.8" y="84.7" font-size="7.0" text-anchor="start" fill="#231f20" textLength="12.2" lengthAdjust="spacingAndGlyphs">26.7</text>
<text x="81.9" y="115.5" font-size="7.0" text-anchor="end" fill="#231f20" textLength="12.2" lengthAdjust="spacingAndGlyphs">71.8</text>
<ellipse cx="95.50" cy="109.05" rx="3.80" ry="6.75" fill="#ebebeb" stroke="none" stroke-width="0.6"/>
<path d="M93.1,112.0h0.7 M98.6,104.8h0.7 M95.0,111.1h0.7 M97.3,107.2h0.7 M94.2,107.0h0.7 M96.5,111.0h0.7 M95.5,102.9h0.7 M92.8,111.9h0.7 M92.4,110.1h0.7 M94.6,106.3h0.7 M95.6,116.6h0.7 M96.2,107.7h0.7 M91.8,111.4h0.7 M98.3,111.8h0.7 M98.4,111.2h0.7 M92.2,108.8h0.7 M96.8,112.3h0.7 M94.3,108.8h0.7 M96.4,114.8h0.7 M98.0,112.0h0.7 M96.5,104.4h0.7 M92.7,108.6h0.7 M98.1,110.8h0.7 M96.9,102.3h0.7 M91.8,114.1h0.7 M95.4,103.1h0.7 M97.7,110.2h0.7 M102.9,114.7h0.7 M96.4,108.4h0.7 M96.1,108.6h0.7 M91.9,113.2h0.7 M96.2,96.7h0.7 M93.9,105.3h0.7 M98.0,108.9h0.7 M99.2,101.9h0.7 M92.8,113.9h0.7 M93.9,104.3h0.7 M94.2,105.6h0.7 M96.8,114.1h0.7 M91.5,107.7h0.7 M95.5,109.4h0.7 M97.6,109.6h0.7 M94.1,104.0h0.7 M90.9,107.4h0.7 M95.5,113.2h0.7 M95.3,106.9h0.7 M96.5,104.7h0.7 M96.0,99.8h0.7 M97.2,109.4h0.7 M96.0,109.7h0.7 M92.3,105.0h0.7 M99.4,111.3h0.7 M94.0,110.9h0.7 M98.3,110.9h0.7 M95.2,105.1h0.7 M92.4,105.2h0.7 M94.6,112.5h0.7 M97.8,114.2h0.7 M95.9,112.8h0.7 M101.1,113.1h0.7 M99.5,102.3h0.7 M93.6,105.7h0.7 M99.0,106.6h0.7 M96.0,105.2h0.7 M94.3,110.3h0.7 M92.5,114.3h0.7 M90.7,110.5h0.7 M94.3,115.8h0.7 M97.4,99.7h0.7 M94.2,108.2h0.7 M95.6,112.1h0.7 M92.1,100.9h0.7 M96.1,107.4h0.7 M95.2,106.2h0.7 M95.1,115.7h0.7" stroke="#a8a8a8" stroke-width="0.70" fill="none"/>
<path d="M101.4,90.3h0.7 M116.2,95.3h0.7 M110.7,90.2h0.7 M99.0,93.0h0.7 M103.9,96.4h0.7 M127.2,92.9h0.7 M115.2,92.3h0.7 M119.4,92.5h0.7 M112.4,94.9h0.7 M116.1,96.3h0.7 M101.4,91.5h0.7 M106.1,94.0h0.7 M108.8,93.6h0.7 M104.4,92.3h0.7 M126.9,95.4h0.7 M99.8,93.2h0.7 M117.4,91.6h0.7 M104.8,93.7h0.7 M112.7,93.5h0.7 M111.0,96.7h0.7 M106.1,91.6h0.7 M115.3,93.8h0.7 M103.0,94.8h0.7 M102.5,92.5h0.7 M110.0,91.2h0.7 M119.4,88.3h0.7 M107.2,90.9h0.7 M117.7,95.3h0.7 M117.0,95.0h0.7 M97.5,92.8h0.7 M103.0,91.8h0.7 M113.6,92.7h0.7 M120.9,88.9h0.7 M106.6,89.8h0.7 M101.3,94.3h0.7 M113.2,95.3h0.7 M119.7,92.6h0.7 M105.7,94.3h0.7 M107.5,90.3h0.7 M104.5,92.7h0.7 M120.2,92.6h0.7 M120.0,92.7h0.7 M109.2,97.4h0.7 M123.8,92.9h0.7 M106.6,89.6h0.7 M114.6,92.0h0.7 M115.0,93.1h0.7 M114.8,94.6h0.7 M114.0,91.2h0.7 M107.0,93.5h0.7 M105.0,93.8h0.7 M116.6,92.4h0.7 M106.9,89.3h0.7 M104.7,89.6h0.7 M112.2,91.7h0.7 M106.0,94.1h0.7 M112.8,92.6h0.7 M115.6,94.4h0.7 M101.6,93.8h0.7 M100.2,91.1h0.7" stroke="#c6c6c6" stroke-width="0.70" fill="none"/>
<path d="M119.6,107.0h0.7 M117.2,105.8h0.7 M122.4,101.4h0.7 M110.4,105.4h0.7 M126.7,107.9h0.7 M119.8,103.4h0.7 M128.2,106.5h0.7 M105.5,111.2h0.7 M102.5,103.1h0.7 M110.9,102.8h0.7 M116.2,106.0h0.7 M113.3,110.0h0.7 M101.1,108.7h0.7 M106.7,109.0h0.7 M125.8,111.1h0.7 M111.2,102.4h0.7 M114.8,105.2h0.7 M100.2,107.1h0.7 M106.0,108.9h0.7 M119.3,104.6h0.7 M112.8,104.7h0.7 M109.3,113.0h0.7 M105.9,105.4h0.7 M119.4,104.3h0.7 M108.1,102.0h0.7 M120.8,107.1h0.7 M115.8,101.5h0.7 M116.0,106.0h0.7 M110.1,101.9h0.7 M112.1,103.1h0.7 M113.1,105.5h0.7 M110.1,107.5h0.7 M112.0,106.6h0.7 M115.4,107.8h0.7 M105.8,104.4h0.7 M119.0,105.7h0.7 M120.4,107.2h0.7 M109.4,107.5h0.7 M110.7,107.7h0.7 M125.5,108.0h0.7 M128.5,101.4h0.7 M108.7,104.6h0.7 M109.7,106.2h0.7 M109.9,108.1h0.7 M119.4,106.3h0.7" stroke="#c6c6c6" stroke-width="0.70" fill="none"/>
<path d="M108.1,112.5h0.7 M118.7,112.0h0.7 M114.7,114.8h0.7 M111.0,110.0h0.7 M118.7,112.4h0.7 M119.9,110.2h0.7 M106.2,107.7h0.7 M111.8,113.1h0.7 M119.5,106.1h0.7 M117.9,110.8h0.7 M107.9,116.9h0.7 M116.2,113.2h0.7 M130.7,109.4h0.7 M112.0,115.0h0.7 M106.3,111.2h0.7 M114.8,113.6h0.7 M117.1,108.5h0.7 M120.6,113.3h0.7 M107.9,109.1h0.7 M111.2,107.9h0.7 M121.2,110.1h0.7 M112.7,108.2h0.7 M112.0,115.0h0.7 M119.2,106.6h0.7 M108.3,112.7h0.7 M111.4,109.5h0.7 M109.1,107.4h0.7 M115.1,110.0h0.7 M121.7,110.8h0.7 M108.4,112.9h0.7 M123.0,109.0h0.7 M103.8,109.7h0.7 M106.0,115.4h0.7 M105.8,110.1h0.7 M123.8,113.4h0.7 M111.3,108.9h0.7 M113.4,110.4h0.7 M123.9,110.6h0.7 M106.0,113.7h0.7 M121.0,110.4h0.7 M119.4,111.1h0.7 M106.9,110.8h0.7 M107.3,109.3h0.7 M108.6,111.9h0.7 M115.7,107.4h0.7 M108.7,111.0h0.7 M117.4,111.2h0.7 M100.6,114.5h0.7 M125.7,115.3h0.7 M117.9,112.8h0.7" stroke="#a8a8a8" stroke-width="0.70" fill="none"/>
<ellipse cx="96.00" cy="92.50" rx="6.70" ry="5.20" fill="#eeeeee" stroke="none" stroke-width="0.6"/>
<ellipse cx="100.80" cy="92.50" rx="6.96" ry="2.40" fill="#ebebeb" stroke="none" stroke-width="0.6"/>
<ellipse cx="95.50" cy="92.50" rx="4.70" ry="3.80" fill="#dcdcdc" stroke="none" stroke-width="0.6"/>
<ellipse cx="95.00" cy="92.50" rx="3.50" ry="3.00" fill="none" stroke="#898989" stroke-width="0.7"/>
<ellipse cx="95.07" cy="92.50" rx="2.66" ry="2.28" fill="none" stroke="#777777" stroke-width="0.7"/>
<ellipse cx="95.14" cy="92.50" rx="1.82" ry="1.56" fill="none" stroke="#646464" stroke-width="0.7"/>
<ellipse cx="95.21" cy="92.50" rx="1.05" ry="0.90" fill="none" stroke="#525252" stroke-width="0.7"/>
<ellipse cx="95.20" cy="92.50" rx="0.42" ry="0.45" fill="#eeeeee" stroke="none" stroke-width="0.6"/>
<ellipse cx="115.50" cy="111.00" rx="10.20" ry="5.20" fill="#eeeeee" stroke="none" stroke-width="0.6"/>
<ellipse cx="115.00" cy="111.00" rx="8.20" ry="3.80" fill="#dcdcdc" stroke="none" stroke-width="0.6"/>
<ellipse cx="114.50" cy="111.00" rx="7.00" ry="3.00" fill="none" stroke="#7c7c7c" stroke-width="0.7"/>
<ellipse cx="114.57" cy="111.00" rx="5.32" ry="2.28" fill="none" stroke="#666666" stroke-width="0.7"/>
<ellipse cx="114.64" cy="111.00" rx="3.64" ry="1.56" fill="none" stroke="#4f4f4f" stroke-width="0.7"/>
<ellipse cx="114.71" cy="111.00" rx="2.10" ry="0.90" fill="none" stroke="#383838" stroke-width="0.7"/>
<ellipse cx="114.70" cy="111.00" rx="0.84" ry="0.45" fill="#eeeeee" stroke="none" stroke-width="0.6"/>
<rect x="89.5" y="77.8" width="48.4" height="40.0" fill="none" stroke="#1e1e1e" stroke-width="1.05"/>
<line x1="89.5" y1="100.3" x2="137.9" y2="100.3" stroke="#1e1e1e" stroke-width="1.05"/>
<line x1="104.6" y1="77.8" x2="104.6" y2="117.8" stroke="#1e1e1e" stroke-width="1.05"/>
<path d="M87.5,80.8H89.0 M87.5,85.2H89.0 M87.5,89.5H89.0 M87.5,93.9H89.0 M87.5,98.3H89.0 M87.5,102.7H89.0 M87.5,107.0H89.0 M87.5,111.4H89.0 M87.5,115.8H89.0" stroke="#231f20" stroke-width="0.6" fill="none"/>
<path d="M91.5,118.3V119.8 M95.2,118.3V119.8 M98.9,118.3V119.8 M102.6,118.3V119.8 M106.3,118.3V119.8 M110.0,118.3V119.8 M113.7,118.3V119.8 M117.4,118.3V119.8 M121.1,118.3V119.8 M124.8,118.3V119.8 M128.5,118.3V119.8 M132.2,118.3V119.8 M135.9,118.3V119.8" stroke="#231f20" stroke-width="0.6" fill="none"/>
<text x="90.8" y="84.7" font-size="7.0" text-anchor="start" fill="#231f20" textLength="12.2" lengthAdjust="spacingAndGlyphs">15.4</text>
<text x="135.9" y="115.5" font-size="7.0" text-anchor="end" fill="#231f20" textLength="12.2" lengthAdjust="spacingAndGlyphs">82.8</text>
<ellipse cx="149.50" cy="109.05" rx="3.80" ry="6.75" fill="#ebebeb" stroke="none" stroke-width="0.6"/>
<path d="M147.9,109.9h0.7 M146.7,109.6h0.7 M145.9,111.7h0.7 M148.6,112.5h0.7 M150.0,107.0h0.7 M151.6,103.8h0.7 M148.8,106.6h0.7 M151.4,108.7h0.7 M150.2,111.4h0.7 M149.8,113.6h0.7 M150.9,114.9h0.7 M148.9,109.5h0.7 M148.3,107.1h0.7 M147.4,106.6h0.7 M149.0,106.1h0.7 M149.6,100.9h0.7 M150.6,109.8h0.7 M150.6,107.0h0.7 M148.2,113.5h0.7 M146.0,107.9h0.7 M146.7,105.5h0.7 M147.5,106.9h0.7 M151.5,103.9h0.7 M151.0,102.6h0.7 M148.5,115.0h0.7 M150.7,110.3h0.7 M151.1,111.6h0.7 M151.1,115.4h0.7 M146.9,108.7h0.7 M151.1,112.4h0.7 M150.9,114.9h0.7 M148.2,103.0h0.7 M152.7,109.0h0.7 M148.1,109.2h0.7 M148.4,113.6h0.7 M151.7,110.5h0.7 M150.9,109.2h0.7 M152.1,98.4h0.7 M146.6,108.9h0.7 M148.5,104.8h0.7 M151.0,104.6h0.7 M150.0,109.6h0.7 M149.6,105.3h0.7 M149.0,114.6h0.7 M150.9,113.4h0.7 M149.3,101.4h0.7 M148.3,108.4h0.7 M152.8,114.2h0.7 M150.6,105.2h0.7 M149.8,107.9h0.7 M148.9,103.5h0.7 M150.7,108.9h0.7 M151.5,102.5h0.7 M147.3,110.3h0.7 M150.6,104.6h0.7 M153.8,108.8h0.7 M147.5,106.9h0.7 M148.6,102.9h0.7 M150.2,111.2h0.7 M150.0,112.0h0.7 M151.7,110.6h0.7 M148.9,114.5h0.7 M147.8,115.3h0.7 M149.0,112.5h0.7 M154.1,98.9h0.7 M149.0,107.2h0.7 M153.8,107.2h0.7 M156.3,102.2h0.7 M150.4,107.3h0.7 M150.8,106.5h0.7 M148.4,100.8h0.7 M149.8,102.3h0.7 M146.2,109.4h0.7 M149.2,113.7h0.7 M146.1,110.9h0.7 M150.3,107.7h0.7" stroke="#a8a8a8" stroke-width="0.70" fill="none"/>
<path d="M160.8,93.4h0.7 M171.7,92.8h0.7 M171.5,93.0h0.7 M177.2,93.5h0.7 M164.9,90.6h0.7 M156.7,94.2h0.7 M164.5,94.0h0.7 M161.5,93.2h0.7 M161.9,94.0h0.7 M164.6,96.9h0.7 M161.5,95.5h0.7 M159.1,92.7h0.7 M160.5,95.8h0.7 M168.8,93.7h0.7 M167.5,91.5h0.7 M175.1,96.0h0.7 M165.8,93.5h0.7 M170.2,93.2h0.7 M164.7,92.6h0.7 M163.8,92.6h0.7 M170.7,92.9h0.7 M163.2,92.4h0.7 M156.3,96.3h0.7 M169.3,95.1h0.7 M162.6,96.1h0.7 M166.9,96.1h0.7 M165.9,93.4h0.7 M162.6,93.6h0.7 M167.5,96.2h0.7 M176.0,93.7h0.7 M173.9,88.6h0.7 M162.9,93.9h0.7 M171.8,94.3h0.7 M165.6,92.7h0.7 M160.8,96.9h0.7 M173.3,95.9h0.7 M166.1,92.5h0.7 M169.6,93.5h0.7 M165.2,93.5h0.7 M161.9,91.9h0.7 M164.4,91.0h0.7 M169.9,95.0h0.7 M161.0,90.2h0.7 M168.6,93.9h0.7 M166.1,91.1h0.7 M153.5,96.6h0.7 M164.6,94.4h0.7 M165.5,94.2h0.7 M157.7,92.7h0.7 M157.2,91.5h0.7 M161.4,90.2h0.7 M163.0,92.2h0.7 M158.3,93.3h0.7 M165.9,92.0h0.7 M179.1,94.8h0.7 M173.3,92.9h0.7 M171.8,94.9h0.7 M159.4,92.3h0.7 M184.9,92.8h0.7 M169.2,93.1h0.7" stroke="#c6c6c6" stroke-width="0.70" fill="none"/>
<path d="M172.8,102.8h0.7 M160.0,108.1h0.7 M168.4,99.1h0.7 M167.2,104.8h0.7 M172.0,106.1h0.7 M169.4,105.5h0.7 M169.0,102.4h0.7 M161.3,103.2h0.7 M157.6,107.3h0.7 M174.5,106.8h0.7 M162.8,104.0h0.7 M163.9,108.1h0.7 M170.7,109.6h0.7 M160.2,104.7h0.7 M158.2,101.8h0.7 M165.9,104.5h0.7 M163.4,101.5h0.7 M168.4,104.6h0.7 M173.4,106.7h0.7 M157.8,106.3h0.7 M162.8,109.1h0.7 M166.8,104.0h0.7 M164.2,101.5h0.7 M175.9,110.6h0.7 M154.9,104.7h0.7 M166.2,103.8h0.7 M175.5,108.4h0.7 M165.3,110.5h0.7 M167.2,104.7h0.7 M169.0,103.4h0.7 M177.2,106.8h0.7 M164.5,104.8h0.7 M160.6,106.0h0.7 M157.9,105.3h0.7 M163.4,106.7h0.7 M174.3,107.3h0.7 M166.1,103.5h0.7 M164.9,105.3h0.7 M170.4,103.9h0.7 M160.2,105.7h0.7 M176.5,110.0h0.7 M172.6,102.8h0.7 M176.9,103.2h0.7 M161.6,106.4h0.7 M157.3,107.3h0.7" stroke="#c6c6c6" stroke-width="0.70" fill="none"/>
<path d="M168.7,112.6h0.7 M163.8,113.8h0.7 M172.2,110.5h0.7 M175.0,104.3h0.7 M171.3,111.2h0.7 M164.0,112.0h0.7 M172.1,109.5h0.7 M168.2,111.4h0.7 M171.5,114.8h0.7 M166.1,115.1h0.7 M160.8,112.3h0.7 M158.2,111.7h0.7 M173.6,117.0h0.7 M169.3,109.5h0.7 M175.5,111.6h0.7 M169.6,114.0h0.7 M175.9,106.8h0.7 M169.3,111.5h0.7 M162.3,107.1h0.7 M168.6,110.2h0.7 M164.4,111.1h0.7 M166.8,111.5h0.7 M178.9,111.4h0.7 M180.8,114.9h0.7 M175.1,109.5h0.7 M167.2,109.0h0.7 M171.6,111.3h0.7 M171.8,112.3h0.7 M170.1,110.5h0.7 M162.9,110.3h0.7 M173.5,111.1h0.7 M168.6,113.8h0.7 M172.1,107.5h0.7 M168.5,109.1h0.7 M168.7,112.6h0.7 M172.2,116.0h0.7 M165.8,110.7h0.7 M172.6,114.1h0.7 M162.5,113.4h0.7 M173.2,111.1h0.7 M167.2,113.5h0.7 M171.7,112.6h0.7 M164.4,106.8h0.7 M168.4,110.8h0.7 M171.9,109.4h0.7 M173.0,112.6h0.7 M164.3,114.1h0.7 M166.8,109.6h0.7 M170.6,111.5h0.7 M163.3,113.2h0.7" stroke="#a8a8a8" stroke-width="0.70" fill="none"/>
<ellipse cx="150.00" cy="93.50" rx="6.40" ry="5.20" fill="#eeeeee" stroke="none" stroke-width="0.6"/>
<ellipse cx="155.25" cy="93.50" rx="7.50" ry="2.40" fill="#ebebeb" stroke="none" stroke-width="0.6"/>
<ellipse cx="149.50" cy="93.50" rx="4.40" ry="3.80" fill="#dcdcdc" stroke="none" stroke-width="0.6"/>
<ellipse cx="149.00" cy="93.50" rx="3.20" ry="3.00" fill="none" stroke="#767676" stroke-width="0.7"/>
<ellipse cx="149.07" cy="93.50" rx="2.43" ry="2.28" fill="none" stroke="#5d5d5d" stroke-width="0.7"/>
<ellipse cx="149.14" cy="93.50" rx="1.66" ry="1.56" fill="none" stroke="#444444" stroke-width="0.7"/>
<ellipse cx="149.21" cy="93.50" rx="0.96" ry="0.90" fill="none" stroke="#2a2a2a" stroke-width="0.7"/>
<ellipse cx="149.20" cy="93.50" rx="0.38" ry="0.45" fill="#eeeeee" stroke="none" stroke-width="0.6"/>
<ellipse cx="170.00" cy="111.50" rx="10.20" ry="5.20" fill="#eeeeee" stroke="none" stroke-width="0.6"/>
<ellipse cx="169.50" cy="111.50" rx="8.20" ry="3.80" fill="#dcdcdc" stroke="none" stroke-width="0.6"/>
<ellipse cx="169.00" cy="111.50" rx="7.00" ry="3.00" fill="none" stroke="#868686" stroke-width="0.7"/>
<ellipse cx="169.07" cy="111.50" rx="5.32" ry="2.28" fill="none" stroke="#737373" stroke-width="0.7"/>
<ellipse cx="169.14" cy="111.50" rx="3.64" ry="1.56" fill="none" stroke="#5f5f5f" stroke-width="0.7"/>
<ellipse cx="169.21" cy="111.50" rx="2.10" ry="0.90" fill="none" stroke="#4b4b4b" stroke-width="0.7"/>
<ellipse cx="169.20" cy="111.50" rx="0.84" ry="0.45" fill="#eeeeee" stroke="none" stroke-width="0.6"/>
<rect x="143.5" y="77.8" width="48.4" height="40.0" fill="none" stroke="#1e1e1e" stroke-width="1.05"/>
<line x1="143.5" y1="100.3" x2="191.9" y2="100.3" stroke="#1e1e1e" stroke-width="1.05"/>
<line x1="159.5" y1="77.8" x2="159.5" y2="117.8" stroke="#1e1e1e" stroke-width="1.05"/>
<path d="M141.5,80.8H143.0 M141.5,85.2H143.0 M141.5,89.5H143.0 M141.5,93.9H143.0 M141.5,98.3H143.0 M141.5,102.7H143.0 M141.5,107.0H143.0 M141.5,111.4H143.0 M141.5,115.8H143.0" stroke="#231f20" stroke-width="0.6" fill="none"/>
<path d="M145.5,118.3V119.8 M149.2,118.3V119.8 M152.9,118.3V119.8 M156.6,118.3V119.8 M160.3,118.3V119.8 M164.0,118.3V119.8 M167.7,118.3V119.8 M171.4,118.3V119.8 M175.1,118.3V119.8 M178.8,118.3V119.8 M182.5,118.3V119.8 M186.2,118.3V119.8 M189.9,118.3V119.8" stroke="#231f20" stroke-width="0.6" fill="none"/>
<text x="144.8" y="84.7" font-size="7.0" text-anchor="start" fill="#231f20" textLength="12.2" lengthAdjust="spacingAndGlyphs">38.0</text>
<text x="189.9" y="115.5" font-size="7.0" text-anchor="end" fill="#231f20" textLength="12.2" lengthAdjust="spacingAndGlyphs">59.6</text>
<ellipse cx="41.50" cy="158.20" rx="3.80" ry="7.00" fill="#ebebeb" stroke="none" stroke-width="0.6"/>
<path d="M41.5,154.8h0.7 M37.1,160.1h0.7 M41.7,158.7h0.7 M44.9,147.0h0.7 M44.7,164.3h0.7 M39.0,162.8h0.7 M39.5,153.5h0.7 M42.4,158.4h0.7 M43.7,155.4h0.7 M45.2,165.3h0.7 M42.6,154.7h0.7 M44.2,159.5h0.7 M43.1,163.3h0.7 M42.6,154.1h0.7 M45.2,159.5h0.7 M42.3,161.0h0.7 M42.3,161.6h0.7 M42.0,157.4h0.7 M40.1,155.9h0.7 M40.8,162.7h0.7 M40.7,157.7h0.7 M41.2,160.6h0.7 M38.0,157.2h0.7 M42.9,150.6h0.7 M45.9,157.7h0.7 M39.5,162.6h0.7 M39.0,158.1h0.7 M42.4,161.8h0.7 M41.7,156.7h0.7 M44.6,157.9h0.7 M42.5,140.5h0.7 M42.6,157.9h0.7 M40.4,155.2h0.7 M43.8,149.0h0.7 M49.4,163.4h0.7 M42.2,154.2h0.7 M44.1,150.8h0.7 M43.0,163.6h0.7 M42.8,151.7h0.7 M42.0,157.6h0.7 M39.6,147.8h0.7 M38.5,155.9h0.7 M43.6,154.7h0.7 M40.4,163.1h0.7 M43.0,160.0h0.7 M42.1,163.6h0.7 M47.1,158.2h0.7 M41.9,160.5h0.7 M40.3,148.3h0.7 M42.7,154.9h0.7 M44.8,159.0h0.7 M45.2,154.3h0.7 M44.3,150.9h0.7 M43.8,157.1h0.7 M43.8,156.6h0.7 M43.2,160.5h0.7 M42.5,160.2h0.7 M45.7,155.7h0.7 M45.0,156.6h0.7 M39.5,148.5h0.7 M41.9,155.1h0.7 M40.2,156.7h0.7 M40.2,164.6h0.7 M44.3,163.4h0.7 M47.3,154.7h0.7 M42.1,157.9h0.7 M37.0,152.1h0.7 M43.2,157.6h0.7 M44.1,164.0h0.7 M44.1,166.3h0.7" stroke="#a8a8a8" stroke-width="0.70" fill="none"/>
<path d="M67.2,142.5h0.7 M49.8,138.1h0.7 M53.7,141.5h0.7 M58.5,141.7h0.7 M58.4,141.9h0.7 M64.9,141.0h0.7 M56.6,136.3h0.7 M64.2,139.6h0.7 M52.6,142.6h0.7 M64.5,142.2h0.7 M64.7,139.0h0.7 M57.0,140.0h0.7 M69.7,142.6h0.7 M56.9,142.5h0.7 M60.9,140.8h0.7 M61.5,142.5h0.7 M57.6,138.7h0.7 M60.8,140.5h0.7 M51.1,139.6h0.7 M56.9,141.0h0.7 M62.2,140.6h0.7 M61.4,140.3h0.7 M62.0,141.7h0.7 M62.2,143.6h0.7 M56.7,138.1h0.7 M58.0,142.5h0.7 M58.7,141.6h0.7 M47.3,139.5h0.7 M62.0,142.4h0.7 M53.6,141.7h0.7 M53.9,138.9h0.7 M59.0,141.4h0.7 M61.1,142.3h0.7 M69.4,142.7h0.7 M56.2,142.7h0.7 M49.0,141.2h0.7 M65.3,142.2h0.7 M63.9,144.4h0.7 M53.7,142.4h0.7 M57.9,143.0h0.7 M59.3,142.4h0.7 M68.6,142.1h0.7 M57.1,140.3h0.7 M54.0,142.9h0.7 M67.0,140.6h0.7 M46.7,139.9h0.7 M61.3,139.3h0.7 M45.8,140.2h0.7 M45.2,141.6h0.7 M55.9,141.1h0.7 M66.9,139.4h0.7 M44.5,140.9h0.7 M61.5,138.4h0.7 M56.1,140.4h0.7 M58.7,139.9h0.7 M75.8,140.5h0.7 M59.7,140.1h0.7 M41.3,143.5h0.7 M38.0,143.4h0.7 M49.9,138.6h0.7" stroke="#c6c6c6" stroke-width="0.70" fill="none"/>
<path d="M58.2,159.7h0.7 M61.2,153.7h0.7 M53.6,155.8h0.7 M56.4,156.0h0.7 M45.3,155.5h0.7 M61.2,150.8h0.7 M51.8,153.8h0.7 M55.6,154.9h0.7 M49.0,152.0h0.7 M73.8,152.1h0.7 M56.0,153.8h0.7 M57.1,157.2h0.7 M55.0,156.3h0.7 M53.0,156.1h0.7 M57.5,153.8h0.7 M58.4,155.6h0.7 M50.6,151.8h0.7 M73.3,155.5h0.7 M56.5,155.8h0.7 M58.6,148.6h0.7 M60.1,153.9h0.7 M61.4,152.3h0.7 M57.5,157.1h0.7 M57.9,153.1h0.7 M61.6,153.2h0.7 M66.5,153.8h0.7 M61.5,152.4h0.7 M50.3,156.0h0.7 M60.8,155.8h0.7 M64.2,150.5h0.7 M59.8,149.2h0.7 M62.6,151.5h0.7 M62.3,156.0h0.7 M55.2,154.1h0.7 M67.6,150.1h0.7 M63.5,154.5h0.7 M65.6,150.1h0.7 M59.0,157.0h0.7 M68.5,152.3h0.7 M57.0,158.8h0.7 M49.1,154.1h0.7 M60.2,154.6h0.7 M52.5,156.6h0.7 M65.2,158.7h0.7 M53.4,153.0h0.7" stroke="#c6c6c6" stroke-width="0.70" fill="none"/>
<path d="M68.9,164.9h0.7 M60.9,154.0h0.7 M59.4,162.1h0.7 M65.9,162.6h0.7 M74.9,157.6h0.7 M54.5,155.1h0.7 M60.1,162.3h0.7 M73.4,159.7h0.7 M61.1,158.6h0.7 M69.8,156.5h0.7 M60.2,158.7h0.7 M60.8,164.9h0.7 M56.3,156.3h0.7 M56.2,161.1h0.7 M60.9,162.6h0.7 M55.1,153.6h0.7 M58.3,159.9h0.7 M50.4,158.7h0.7 M64.9,156.4h0.7 M55.1,155.5h0.7 M60.0,160.5h0.7 M80.8,162.8h0.7 M51.9,154.0h0.7 M60.2,164.1h0.7 M65.7,157.3h0.7 M68.2,163.5h0.7 M71.5,155.5h0.7 M64.1,154.8h0.7 M55.2,154.9h0.7 M59.1,154.3h0.7 M66.6,159.0h0.7 M54.8,160.6h0.7 M72.0,160.1h0.7 M56.8,158.1h0.7 M60.3,156.7h0.7 M48.7,157.8h0.7 M69.9,156.3h0.7 M47.1,158.7h0.7 M68.9,153.4h0.7 M62.4,160.3h0.7 M64.9,160.8h0.7 M65.4,153.9h0.7 M65.4,163.5h0.7 M59.4,160.2h0.7 M53.7,163.2h0.7 M56.5,164.3h0.7 M58.3,161.2h0.7 M57.2,165.1h0.7 M46.8,160.2h0.7" stroke="#a8a8a8" stroke-width="0.70" fill="none"/>
<ellipse cx="42.50" cy="141.00" rx="7.40" ry="6.20" fill="#eeeeee" stroke="none" stroke-width="0.6"/>
<ellipse cx="47.10" cy="141.00" rx="6.72" ry="3.20" fill="#ebebeb" stroke="none" stroke-width="0.6"/>
<ellipse cx="42.00" cy="141.00" rx="5.40" ry="4.80" fill="#dcdcdc" stroke="none" stroke-width="0.6"/>
<ellipse cx="41.50" cy="141.00" rx="4.20" ry="4.00" fill="none" stroke="#838383" stroke-width="0.7"/>
<ellipse cx="41.57" cy="141.00" rx="3.19" ry="3.04" fill="none" stroke="#6e6e6e" stroke-width="0.7"/>
<ellipse cx="41.64" cy="141.00" rx="2.18" ry="2.08" fill="none" stroke="#5a5a5a" stroke-width="0.7"/>
<ellipse cx="41.71" cy="141.00" rx="1.26" ry="1.20" fill="none" stroke="#454545" stroke-width="0.7"/>
<ellipse cx="41.70" cy="141.00" rx="0.50" ry="0.60" fill="#eeeeee" stroke="none" stroke-width="0.6"/>
<ellipse cx="62.00" cy="159.00" rx="11.20" ry="5.80" fill="#eeeeee" stroke="none" stroke-width="0.6"/>
<ellipse cx="61.50" cy="159.00" rx="9.20" ry="4.40" fill="#dcdcdc" stroke="none" stroke-width="0.6"/>
<ellipse cx="61.00" cy="159.00" rx="8.00" ry="3.60" fill="none" stroke="#999999" stroke-width="0.7"/>
<ellipse cx="61.07" cy="159.00" rx="6.08" ry="2.74" fill="none" stroke="#8d8d8d" stroke-width="0.7"/>
<ellipse cx="61.14" cy="159.00" rx="4.16" ry="1.87" fill="none" stroke="#808080" stroke-width="0.7"/>
<ellipse cx="61.21" cy="159.00" rx="2.40" ry="1.08" fill="none" stroke="#737373" stroke-width="0.7"/>
<ellipse cx="61.20" cy="159.00" rx="0.96" ry="0.54" fill="#eeeeee" stroke="none" stroke-width="0.6"/>
<rect x="35.5" y="127.2" width="48.4" height="39.999999999999986" fill="none" stroke="#1e1e1e" stroke-width="1.05"/>
<line x1="35.5" y1="149.2" x2="83.9" y2="149.2" stroke="#1e1e1e" stroke-width="1.05"/>
<line x1="50.7" y1="127.2" x2="50.7" y2="167.2" stroke="#1e1e1e" stroke-width="1.05"/>
<path d="M33.5,130.2H35.0 M33.5,134.6H35.0 M33.5,138.9H35.0 M33.5,143.3H35.0 M33.5,147.7H35.0 M33.5,152.1H35.0 M33.5,156.4H35.0 M33.5,160.8H35.0 M33.5,165.2H35.0" stroke="#231f20" stroke-width="0.6" fill="none"/>
<path d="M37.5,167.7V169.2 M41.2,167.7V169.2 M44.9,167.7V169.2 M48.6,167.7V169.2 M52.3,167.7V169.2 M56.0,167.7V169.2 M59.7,167.7V169.2 M63.4,167.7V169.2 M67.1,167.7V169.2 M70.8,167.7V169.2 M74.5,167.7V169.2 M78.2,167.7V169.2 M81.9,167.7V169.2" stroke="#231f20" stroke-width="0.6" fill="none"/>
<text x="36.8" y="134.1" font-size="7.0" text-anchor="start" fill="#231f20" textLength="12.2" lengthAdjust="spacingAndGlyphs">73.8</text>
<text x="81.9" y="164.89999999999998" font-size="7.0" text-anchor="end" fill="#231f20" textLength="12.2" lengthAdjust="spacingAndGlyphs">22.4</text>
<ellipse cx="95.50" cy="158.20" rx="3.80" ry="7.00" fill="#ebebeb" stroke="none" stroke-width="0.6"/>
<path d="M90.3,152.8h0.7 M100.2,162.3h0.7 M90.5,158.2h0.7 M94.0,160.8h0.7 M100.1,161.1h0.7 M96.6,160.5h0.7 M92.8,161.4h0.7 M97.8,155.4h0.7 M93.9,164.7h0.7 M96.0,153.1h0.7 M94.4,156.1h0.7 M95.3,157.9h0.7 M94.9,165.7h0.7 M97.6,164.9h0.7 M91.3,158.7h0.7 M98.4,161.5h0.7 M93.8,154.8h0.7 M97.9,157.2h0.7 M97.1,158.9h0.7 M95.2,158.7h0.7 M93.4,165.9h0.7 M96.9,164.5h0.7 M94.2,155.8h0.7 M94.7,154.3h0.7 M97.2,161.4h0.7 M94.2,156.8h0.7 M96.4,154.8h0.7 M94.5,165.2h0.7 M93.6,155.9h0.7 M101.8,148.6h0.7 M92.5,166.3h0.7 M94.5,160.4h0.7 M100.8,155.0h0.7 M94.0,160.0h0.7 M95.3,155.8h0.7 M95.2,152.2h0.7 M96.7,162.0h0.7 M95.1,157.2h0.7 M96.9,155.8h0.7 M94.7,157.9h0.7 M99.2,158.0h0.7 M95.2,157.5h0.7 M94.5,153.9h0.7 M93.2,162.1h0.7 M94.1,158.6h0.7 M94.3,152.2h0.7 M94.3,164.5h0.7 M94.5,155.2h0.7 M94.4,156.7h0.7 M96.1,156.3h0.7 M95.3,156.0h0.7 M96.4,159.6h0.7 M96.0,161.0h0.7 M95.3,163.7h0.7 M96.7,164.9h0.7 M95.3,159.4h0.7 M93.8,158.3h0.7 M97.5,156.6h0.7 M99.2,158.3h0.7 M99.5,153.5h0.7 M94.8,156.0h0.7 M98.0,161.1h0.7 M95.3,156.1h0.7 M95.4,161.5h0.7 M97.6,157.9h0.7 M94.4,158.7h0.7 M95.8,159.3h0.7 M94.4,166.0h0.7 M93.9,165.0h0.7 M99.0,162.5h0.7 M100.2,160.7h0.7 M94.7,155.8h0.7 M93.8,162.0h0.7 M91.8,151.8h0.7 M99.3,162.8h0.7 M96.5,162.4h0.7 M97.4,157.4h0.7 M91.8,164.0h0.7 M96.6,152.0h0.7 M95.9,156.1h0.7" stroke="#a8a8a8" stroke-width="0.70" fill="none"/>
<path d="M110.8,140.4h0.7 M115.1,140.6h0.7 M104.0,142.2h0.7 M114.7,138.4h0.7 M114.2,142.6h0.7 M110.5,141.3h0.7 M106.5,137.8h0.7 M114.9,140.8h0.7 M114.3,140.6h0.7 M109.8,141.3h0.7 M111.1,142.6h0.7 M108.7,138.4h0.7 M112.4,138.7h0.7 M95.0,139.0h0.7 M108.6,139.6h0.7 M101.5,140.6h0.7 M119.4,142.5h0.7 M111.6,142.7h0.7 M108.6,139.4h0.7 M115.9,139.0h0.7 M113.7,141.0h0.7 M109.1,140.2h0.7 M118.9,138.1h0.7 M113.2,140.5h0.7 M106.7,141.1h0.7 M113.6,140.9h0.7 M113.1,143.5h0.7 M107.6,141.8h0.7 M100.2,141.8h0.7 M99.4,142.1h0.7 M108.4,141.3h0.7 M102.0,141.0h0.7 M116.9,142.1h0.7 M111.4,141.0h0.7 M118.9,142.3h0.7 M107.4,140.0h0.7 M107.1,140.9h0.7 M104.0,137.1h0.7 M110.1,141.5h0.7 M112.7,143.0h0.7 M103.1,140.1h0.7 M102.1,141.4h0.7 M110.8,140.1h0.7 M111.8,139.7h0.7 M104.9,143.8h0.7 M116.8,140.7h0.7 M101.5,140.6h0.7 M115.2,141.3h0.7 M118.1,143.2h0.7 M111.0,140.2h0.7 M108.3,140.3h0.7 M117.4,140.2h0.7 M100.6,141.8h0.7 M110.9,140.2h0.7 M98.7,143.1h0.7 M116.0,139.0h0.7 M112.5,139.0h0.7 M102.7,137.2h0.7 M116.6,142.6h0.7 M109.5,140.9h0.7" stroke="#c6c6c6" stroke-width="0.70" fill="none"/>
<path d="M126.3,152.3h0.7 M105.7,154.5h0.7 M117.8,153.5h0.7 M104.0,152.3h0.7 M118.8,156.0h0.7 M102.3,151.1h0.7 M107.1,154.1h0.7 M129.4,153.5h0.7 M114.4,152.2h0.7 M132.1,152.7h0.7 M110.4,154.6h0.7 M104.7,156.2h0.7 M113.9,152.1h0.7 M109.8,149.5h0.7 M110.1,148.5h0.7 M110.8,153.0h0.7 M109.9,152.7h0.7 M108.1,157.3h0.7 M124.1,153.8h0.7 M122.0,153.4h0.7 M111.9,152.1h0.7 M118.9,155.7h0.7 M105.0,154.6h0.7 M110.4,151.9h0.7 M113.8,149.4h0.7 M111.0,158.9h0.7 M117.0,151.4h0.7 M117.9,154.4h0.7 M111.8,152.7h0.7 M114.0,152.7h0.7 M112.8,156.0h0.7 M119.7,151.0h0.7 M110.7,158.2h0.7 M126.6,155.1h0.7 M125.3,157.2h0.7 M113.1,149.2h0.7 M113.6,151.0h0.7 M115.0,158.6h0.7 M115.7,152.2h0.7 M105.8,149.3h0.7 M100.7,158.3h0.7 M120.0,153.9h0.7 M112.9,154.1h0.7 M113.9,157.7h0.7 M116.7,149.2h0.7" stroke="#c6c6c6" stroke-width="0.70" fill="none"/>
<path d="M123.6,152.9h0.7 M113.1,154.6h0.7 M116.3,155.0h0.7 M106.1,155.7h0.7 M121.9,158.4h0.7 M120.8,163.3h0.7 M117.7,160.8h0.7 M109.0,158.7h0.7 M107.7,160.7h0.7 M122.5,162.0h0.7 M115.8,161.8h0.7 M115.0,157.2h0.7 M119.6,161.3h0.7 M131.9,161.3h0.7 M108.1,155.9h0.7 M106.6,159.2h0.7 M108.1,163.3h0.7 M113.9,161.0h0.7 M117.1,160.1h0.7 M108.5,158.9h0.7 M112.9,158.7h0.7 M116.9,161.1h0.7 M112.6,161.6h0.7 M118.4,164.2h0.7 M92.1,157.0h0.7 M125.1,151.1h0.7 M126.7,159.3h0.7 M101.3,161.3h0.7 M108.4,156.1h0.7 M126.5,157.8h0.7 M109.1,165.3h0.7 M122.7,157.9h0.7 M110.3,158.4h0.7 M127.4,155.9h0.7 M106.8,163.0h0.7 M114.0,159.3h0.7 M119.8,157.8h0.7 M98.5,158.3h0.7 M124.9,165.8h0.7 M115.2,158.9h0.7 M125.8,160.9h0.7 M118.1,152.8h0.7 M113.0,159.7h0.7 M105.1,157.8h0.7 M128.3,158.2h0.7 M105.7,153.1h0.7 M115.9,157.2h0.7 M109.7,159.7h0.7 M118.1,159.5h0.7 M118.5,155.1h0.7" stroke="#a8a8a8" stroke-width="0.70" fill="none"/>
<ellipse cx="95.50" cy="141.00" rx="6.70" ry="6.70" fill="#eeeeee" stroke="none" stroke-width="0.6"/>
<ellipse cx="100.55" cy="141.00" rx="7.26" ry="3.60" fill="#ebebeb" stroke="none" stroke-width="0.6"/>
<ellipse cx="95.00" cy="141.00" rx="4.70" ry="5.30" fill="#dcdcdc" stroke="none" stroke-width="0.6"/>
<ellipse cx="94.50" cy="141.00" rx="3.50" ry="4.50" fill="none" stroke="#898989" stroke-width="0.7"/>
<ellipse cx="94.57" cy="141.00" rx="2.66" ry="3.42" fill="none" stroke="#777777" stroke-width="0.7"/>
<ellipse cx="94.64" cy="141.00" rx="1.82" ry="2.34" fill="none" stroke="#646464" stroke-width="0.7"/>
<ellipse cx="94.71" cy="141.00" rx="1.05" ry="1.35" fill="none" stroke="#525252" stroke-width="0.7"/>
<ellipse cx="94.70" cy="141.00" rx="0.42" ry="0.67" fill="#eeeeee" stroke="none" stroke-width="0.6"/>
<ellipse cx="117.00" cy="159.00" rx="11.20" ry="5.70" fill="#eeeeee" stroke="none" stroke-width="0.6"/>
<ellipse cx="116.50" cy="159.00" rx="9.20" ry="4.30" fill="#dcdcdc" stroke="none" stroke-width="0.6"/>
<ellipse cx="116.00" cy="159.00" rx="8.00" ry="3.50" fill="none" stroke="#999999" stroke-width="0.7"/>
<ellipse cx="116.07" cy="159.00" rx="6.08" ry="2.66" fill="none" stroke="#8d8d8d" stroke-width="0.7"/>
<ellipse cx="116.14" cy="159.00" rx="4.16" ry="1.82" fill="none" stroke="#808080" stroke-width="0.7"/>
<ellipse cx="116.21" cy="159.00" rx="2.40" ry="1.05" fill="none" stroke="#737373" stroke-width="0.7"/>
<ellipse cx="116.20" cy="159.00" rx="0.96" ry="0.53" fill="#eeeeee" stroke="none" stroke-width="0.6"/>
<rect x="89.5" y="127.2" width="48.4" height="39.999999999999986" fill="none" stroke="#1e1e1e" stroke-width="1.05"/>
<line x1="89.5" y1="149.2" x2="137.9" y2="149.2" stroke="#1e1e1e" stroke-width="1.05"/>
<line x1="104.6" y1="127.2" x2="104.6" y2="167.2" stroke="#1e1e1e" stroke-width="1.05"/>
<path d="M87.5,130.2H89.0 M87.5,134.6H89.0 M87.5,138.9H89.0 M87.5,143.3H89.0 M87.5,147.7H89.0 M87.5,152.1H89.0 M87.5,156.4H89.0 M87.5,160.8H89.0 M87.5,165.2H89.0" stroke="#231f20" stroke-width="0.6" fill="none"/>
<path d="M91.5,167.7V169.2 M95.2,167.7V169.2 M98.9,167.7V169.2 M102.6,167.7V169.2 M106.3,167.7V169.2 M110.0,167.7V169.2 M113.7,167.7V169.2 M117.4,167.7V169.2 M121.1,167.7V169.2 M124.8,167.7V169.2 M128.5,167.7V169.2 M132.2,167.7V169.2 M135.9,167.7V169.2" stroke="#231f20" stroke-width="0.6" fill="none"/>
<text x="90.8" y="134.1" font-size="7.0" text-anchor="start" fill="#231f20" textLength="12.2" lengthAdjust="spacingAndGlyphs">61.0</text>
<text x="135.9" y="164.89999999999998" font-size="7.0" text-anchor="end" fill="#231f20" textLength="12.2" lengthAdjust="spacingAndGlyphs">31.5</text>
<ellipse cx="149.50" cy="158.20" rx="3.80" ry="7.00" fill="#ebebeb" stroke="none" stroke-width="0.6"/>
<path d="M147.9,156.7h0.7 M149.4,162.7h0.7 M147.7,154.7h0.7 M153.2,158.9h0.7 M146.0,156.8h0.7 M146.4,153.1h0.7 M146.2,154.6h0.7 M154.6,162.7h0.7 M153.0,163.1h0.7 M149.2,160.0h0.7 M149.8,153.4h0.7 M146.6,162.3h0.7 M146.5,159.1h0.7 M151.1,161.6h0.7 M150.4,152.8h0.7 M150.9,157.6h0.7 M147.1,149.3h0.7 M150.6,151.2h0.7 M145.2,166.1h0.7 M146.5,156.3h0.7 M149.7,158.5h0.7 M147.0,155.0h0.7 M151.5,156.9h0.7 M149.4,148.5h0.7 M148.1,162.1h0.7 M147.7,153.9h0.7 M150.4,160.9h0.7 M150.3,155.7h0.7 M151.4,165.5h0.7 M152.4,151.2h0.7 M156.8,152.2h0.7 M146.4,159.6h0.7 M149.3,159.8h0.7 M152.8,162.4h0.7 M147.3,158.5h0.7 M152.0,162.9h0.7 M152.3,161.9h0.7 M151.3,155.9h0.7 M146.2,160.1h0.7 M148.4,163.8h0.7 M147.3,156.5h0.7 M148.4,162.6h0.7 M151.4,158.3h0.7 M150.2,165.5h0.7 M145.1,161.6h0.7 M152.2,163.7h0.7 M151.5,154.7h0.7 M148.2,161.2h0.7 M148.0,157.3h0.7 M145.7,152.8h0.7 M150.4,156.3h0.7 M147.6,157.4h0.7 M150.3,157.0h0.7 M149.9,158.6h0.7 M148.9,158.1h0.7 M147.3,155.9h0.7 M144.9,153.0h0.7 M146.5,156.4h0.7 M152.3,158.2h0.7 M149.9,154.0h0.7 M150.2,165.8h0.7 M149.3,154.5h0.7 M146.6,159.4h0.7 M147.1,161.4h0.7 M147.0,150.7h0.7 M150.7,152.4h0.7 M151.0,162.9h0.7 M148.0,159.1h0.7 M153.0,156.1h0.7 M153.5,156.7h0.7 M147.2,158.6h0.7 M150.1,163.3h0.7 M151.7,159.9h0.7 M151.1,159.0h0.7 M151.5,155.9h0.7 M146.8,159.1h0.7 M156.2,161.8h0.7 M147.7,164.5h0.7 M144.8,157.1h0.7 M150.5,155.2h0.7" stroke="#a8a8a8" stroke-width="0.70" fill="none"/>
<path d="M162.1,140.7h0.7 M162.5,139.6h0.7 M159.0,138.2h0.7 M159.7,140.8h0.7 M172.5,139.8h0.7 M158.1,143.9h0.7 M158.6,141.2h0.7 M159.9,139.7h0.7 M168.5,141.8h0.7 M174.3,142.2h0.7 M167.0,142.1h0.7 M159.3,143.2h0.7 M169.5,141.9h0.7 M169.9,138.3h0.7 M158.6,141.2h0.7 M166.9,142.0h0.7 M166.7,140.7h0.7 M174.2,141.6h0.7 M170.9,143.2h0.7 M174.2,141.6h0.7 M170.7,141.5h0.7 M173.0,145.1h0.7 M159.2,139.6h0.7 M176.3,141.3h0.7 M163.2,139.8h0.7 M172.1,142.0h0.7 M179.1,140.8h0.7 M171.9,144.0h0.7 M156.7,139.1h0.7 M167.8,140.0h0.7 M163.3,139.8h0.7 M165.0,139.4h0.7 M157.7,141.7h0.7 M166.8,142.8h0.7 M169.4,141.8h0.7 M170.9,139.4h0.7 M162.8,141.5h0.7 M172.1,142.2h0.7 M164.6,140.7h0.7 M167.6,138.9h0.7 M171.5,142.4h0.7 M172.0,142.8h0.7 M172.5,137.6h0.7 M167.5,138.4h0.7 M159.8,140.8h0.7 M173.7,141.6h0.7 M167.5,144.2h0.7 M167.6,139.3h0.7 M156.9,139.4h0.7 M166.7,138.2h0.7 M168.8,141.6h0.7 M161.3,141.2h0.7 M169.4,139.9h0.7 M170.8,139.7h0.7 M169.8,143.6h0.7 M168.1,138.7h0.7 M166.6,141.1h0.7 M160.4,138.7h0.7 M163.5,142.6h0.7 M171.3,143.2h0.7" stroke="#c6c6c6" stroke-width="0.70" fill="none"/>
<path d="M167.2,159.1h0.7 M161.6,155.3h0.7 M165.8,157.9h0.7 M167.7,151.6h0.7 M169.2,151.4h0.7 M161.4,156.5h0.7 M167.4,156.3h0.7 M161.4,157.4h0.7 M166.3,149.3h0.7 M161.2,150.7h0.7 M157.3,155.5h0.7 M170.1,155.7h0.7 M162.3,155.5h0.7 M157.2,153.0h0.7 M166.4,152.8h0.7 M168.2,154.1h0.7 M170.8,155.0h0.7 M174.2,153.0h0.7 M172.1,154.9h0.7 M169.2,154.5h0.7 M152.4,159.0h0.7 M161.1,152.2h0.7 M165.2,150.9h0.7 M179.7,152.7h0.7 M162.7,152.1h0.7 M170.6,157.7h0.7 M169.4,152.3h0.7 M176.8,154.9h0.7 M162.4,154.0h0.7 M168.4,154.8h0.7 M167.5,154.3h0.7 M180.5,161.3h0.7 M168.7,151.9h0.7 M160.1,156.2h0.7 M156.1,153.7h0.7 M170.3,154.7h0.7 M164.7,158.8h0.7 M173.1,153.0h0.7 M173.0,153.7h0.7 M163.9,153.2h0.7 M175.8,152.8h0.7 M167.0,156.8h0.7 M169.6,154.8h0.7 M162.8,160.0h0.7 M173.2,148.3h0.7" stroke="#c6c6c6" stroke-width="0.70" fill="none"/>
<path d="M176.0,156.5h0.7 M162.7,158.1h0.7 M175.7,159.3h0.7 M170.5,155.5h0.7 M174.8,159.3h0.7 M163.1,160.9h0.7 M171.9,160.2h0.7 M175.9,161.6h0.7 M176.9,159.9h0.7 M170.0,162.3h0.7 M175.2,159.1h0.7 M178.8,160.3h0.7 M169.5,161.2h0.7 M165.3,155.6h0.7 M179.7,162.9h0.7 M164.9,160.4h0.7 M172.6,158.7h0.7 M176.6,158.7h0.7 M174.4,158.3h0.7 M172.0,164.2h0.7 M171.8,158.7h0.7 M170.6,162.0h0.7 M167.4,158.9h0.7 M178.2,163.8h0.7 M166.2,156.4h0.7 M163.1,157.0h0.7 M168.1,159.8h0.7 M162.7,160.4h0.7 M155.1,160.4h0.7 M177.5,156.7h0.7 M155.2,160.4h0.7 M173.0,158.9h0.7 M170.6,163.5h0.7 M177.9,161.6h0.7 M163.4,160.5h0.7 M164.5,160.0h0.7 M168.3,158.5h0.7 M177.1,159.4h0.7 M162.2,161.0h0.7 M172.9,160.1h0.7 M165.7,158.8h0.7 M166.6,158.6h0.7 M166.0,159.4h0.7 M162.8,160.7h0.7 M165.6,162.4h0.7 M171.4,164.1h0.7 M162.7,163.8h0.7 M168.9,161.7h0.7 M173.9,162.6h0.7 M169.8,161.2h0.7" stroke="#a8a8a8" stroke-width="0.70" fill="none"/>
<ellipse cx="150.00" cy="141.00" rx="7.70" ry="6.20" fill="#eeeeee" stroke="none" stroke-width="0.6"/>
<ellipse cx="155.25" cy="141.00" rx="7.50" ry="3.20" fill="#ebebeb" stroke="none" stroke-width="0.6"/>
<ellipse cx="149.50" cy="141.00" rx="5.70" ry="4.80" fill="#dcdcdc" stroke="none" stroke-width="0.6"/>
<ellipse cx="149.00" cy="141.00" rx="4.50" ry="4.00" fill="none" stroke="#898989" stroke-width="0.7"/>
<ellipse cx="149.07" cy="141.00" rx="3.42" ry="3.04" fill="none" stroke="#777777" stroke-width="0.7"/>
<ellipse cx="149.14" cy="141.00" rx="2.34" ry="2.08" fill="none" stroke="#646464" stroke-width="0.7"/>
<ellipse cx="149.21" cy="141.00" rx="1.35" ry="1.20" fill="none" stroke="#525252" stroke-width="0.7"/>
<ellipse cx="149.20" cy="141.00" rx="0.54" ry="0.60" fill="#eeeeee" stroke="none" stroke-width="0.6"/>
<ellipse cx="170.50" cy="160.00" rx="8.70" ry="5.20" fill="#eeeeee" stroke="none" stroke-width="0.6"/>
<ellipse cx="170.00" cy="160.00" rx="6.70" ry="3.80" fill="#dcdcdc" stroke="none" stroke-width="0.6"/>
<ellipse cx="169.50" cy="160.00" rx="5.50" ry="3.00" fill="none" stroke="#767676" stroke-width="0.7"/>
<ellipse cx="169.57" cy="160.00" rx="4.18" ry="2.28" fill="none" stroke="#5d5d5d" stroke-width="0.7"/>
<ellipse cx="169.64" cy="160.00" rx="2.86" ry="1.56" fill="none" stroke="#444444" stroke-width="0.7"/>
<ellipse cx="169.71" cy="160.00" rx="1.65" ry="0.90" fill="none" stroke="#2a2a2a" stroke-width="0.7"/>
<ellipse cx="169.70" cy="160.00" rx="0.66" ry="0.45" fill="#eeeeee" stroke="none" stroke-width="0.6"/>
<rect x="143.5" y="127.2" width="48.4" height="39.999999999999986" fill="none" stroke="#1e1e1e" stroke-width="1.05"/>
<line x1="143.5" y1="149.2" x2="191.9" y2="149.2" stroke="#1e1e1e" stroke-width="1.05"/>
<line x1="159.5" y1="127.2" x2="159.5" y2="167.2" stroke="#1e1e1e" stroke-width="1.05"/>
<path d="M141.5,130.2H143.0 M141.5,134.6H143.0 M141.5,138.9H143.0 M141.5,143.3H143.0 M141.5,147.7H143.0 M141.5,152.1H143.0 M141.5,156.4H143.0 M141.5,160.8H143.0 M141.5,165.2H143.0" stroke="#231f20" stroke-width="0.6" fill="none"/>
<path d="M145.5,167.7V169.2 M149.2,167.7V169.2 M152.9,167.7V169.2 M156.6,167.7V169.2 M160.3,167.7V169.2 M164.0,167.7V169.2 M167.7,167.7V169.2 M171.4,167.7V169.2 M175.1,167.7V169.2 M178.8,167.7V169.2 M182.5,167.7V169.2 M186.2,167.7V169.2 M189.9,167.7V169.2" stroke="#231f20" stroke-width="0.6" fill="none"/>
<text x="144.8" y="134.1" font-size="7.0" text-anchor="start" fill="#231f20" textLength="12.2" lengthAdjust="spacingAndGlyphs">81.4</text>
<text x="189.9" y="164.89999999999998" font-size="7.0" text-anchor="end" fill="#231f20" textLength="12.2" lengthAdjust="spacingAndGlyphs">16.7</text>
<text x="60" y="26.5" font-size="8.0" text-anchor="middle" fill="#231f20" textLength="11.8" lengthAdjust="spacingAndGlyphs">WT</text>
<text x="95.8" y="26.5" font-size="8.0" text-anchor="start" fill="#231f20" textLength="36.8" lengthAdjust="spacingAndGlyphs"><tspan font-style="italic">Dyrk1a</tspan><tspan font-size="6.08" dy="-2.88" font-style="normal">BKO</tspan></text>
<text x="147.6" y="16.9" font-size="8.0" text-anchor="start" fill="#231f20" textLength="42.5" lengthAdjust="spacingAndGlyphs"><tspan font-style="italic">Map3k14</tspan><tspan font-size="6.08" dy="-2.88" font-style="normal">Btg</tspan></text>
<text x="150.2" y="26.7" font-size="8.0" text-anchor="start" fill="#231f20" textLength="36.8" lengthAdjust="spacingAndGlyphs"><tspan font-style="italic">Dyrk1a</tspan><tspan font-size="6.08" dy="-2.88" font-style="normal">BKO</tspan></text>
<text x="199.7" y="49.5" font-size="6.3" text-anchor="middle" fill="#231f20" transform="rotate(-90 199.7 49.5)">SP</text>
<text x="199.7" y="98.5" font-size="6.3" text-anchor="middle" fill="#231f20" transform="rotate(-90 199.7 98.5)">iLN</text>
<text x="199.7" y="147.5" font-size="6.3" text-anchor="middle" fill="#231f20" transform="rotate(-90 199.7 147.5)">PP</text>
<line x1="16.5" y1="148.6" x2="16.5" y2="33.5" stroke="#231f20" stroke-width="1.0"/>
<path d="M15.0,34.5 L16.5,29.5 L18.0,34.5 Z" fill="#231f20"/>
<text x="19.4" y="159.9" font-size="7.0" text-anchor="middle" fill="#231f20" transform="rotate(-90 19.4 159.9)" textLength="14.3" lengthAdjust="spacingAndGlyphs">B220</text>
<text x="36.6" y="184.4" font-size="7.0" text-anchor="start" fill="#231f20" textLength="15.6" lengthAdjust="spacingAndGlyphs">CD3ε</text>
<line x1="55.6" y1="182.5" x2="187.9" y2="182.5" stroke="#231f20" stroke-width="1.0"/>
<path d="M186.9,181.0 L191.9,182.5 L186.9,184.0 Z" fill="#231f20"/>
<text x="32.8" y="132.2" font-size="7.0" text-anchor="end" fill="#231f20">10<tspan font-size="4.76" dy="-2.66">5</tspan></text>
<text x="32.8" y="143.8" font-size="7.0" text-anchor="end" fill="#231f20">10<tspan font-size="4.76" dy="-2.66">4</tspan></text>
<text x="32.8" y="151.6" font-size="7.0" text-anchor="end" fill="#231f20">10<tspan font-size="4.76" dy="-2.66">3</tspan></text>
<text x="31.4" y="160.8" font-size="7.0" text-anchor="end" fill="#231f20">0</text>
<text x="41" y="176.6" font-size="7.0" text-anchor="middle" fill="#231f20">0</text>
<text x="57.4" y="176.7" font-size="7.0" text-anchor="middle" fill="#231f20">10<tspan font-size="4.76" dy="-2.66">3</tspan></text>
<text x="68.3" y="176.7" font-size="7.0" text-anchor="middle" fill="#231f20">10<tspan font-size="4.76" dy="-2.66">4</tspan></text>
<text x="79.3" y="176.7" font-size="7.0" text-anchor="middle" fill="#231f20">10<tspan font-size="4.76" dy="-2.66">5</tspan></text>
<line x1="233.5" y1="51.4" x2="233.5" y2="101.0" stroke="#231f20" stroke-width="1.1"/>
<line x1="233.0" y1="100.5" x2="317" y2="100.5" stroke="#231f20" stroke-width="1.1"/>
<line x1="230.7" y1="100.5" x2="233.5" y2="100.5" stroke="#231f20" stroke-width="0.95"/>
<text x="229.1" y="103.15" font-size="7.0" text-anchor="end" fill="#231f20">0</text>
<line x1="230.7" y1="90.5" x2="233.5" y2="90.5" stroke="#231f20" stroke-width="0.95"/>
<text x="229.1" y="93.37" font-size="7.0" text-anchor="end" fill="#231f20">20</text>
<line x1="230.7" y1="81.5" x2="233.5" y2="81.5" stroke="#231f20" stroke-width="0.95"/>
<text x="229.1" y="83.59" font-size="7.0" text-anchor="end" fill="#231f20">40</text>
<line x1="230.7" y1="71.5" x2="233.5" y2="71.5" stroke="#231f20" stroke-width="0.95"/>
<text x="229.1" y="73.81" font-size="7.0" text-anchor="end" fill="#231f20">60</text>
<line x1="230.7" y1="61.5" x2="233.5" y2="61.5" stroke="#231f20" stroke-width="0.95"/>
<text x="229.1" y="64.03" font-size="7.0" text-anchor="end" fill="#231f20">80</text>
<line x1="230.7" y1="51.5" x2="233.5" y2="51.5" stroke="#231f20" stroke-width="0.95"/>
<text x="229.1" y="54.25" font-size="7.0" text-anchor="end" fill="#231f20">100</text>
<text x="249" y="108.5" font-size="6.8" text-anchor="middle" fill="#231f20">WT</text>
<text x="275.5" y="108.5" font-size="6.8" text-anchor="middle" fill="#231f20">iLN</text>
<text x="301.5" y="108.5" font-size="6.8" text-anchor="middle" fill="#231f20">PP</text>
<circle cx="241.60" cy="75.27" r="1.75" fill="#c8102e"/>
<circle cx="237.80" cy="74.29" r="1.75" fill="#c8102e"/>
<circle cx="244.20" cy="73.80" r="1.75" fill="#c8102e"/>
<circle cx="239.60" cy="72.83" r="1.75" fill="#c8102e"/>
<circle cx="242.60" cy="72.34" r="1.75" fill="#c8102e"/>
<line x1="237.0" y1="73.7072" x2="245.0" y2="73.7072" stroke="#111" stroke-width="1.0"/>
<line x1="241" y1="72.53972850141855" x2="241" y2="74.87467149858145" stroke="#111" stroke-width="0.6"/>
<line x1="239.4" y1="72.53972850141855" x2="242.6" y2="72.53972850141855" stroke="#111" stroke-width="0.6"/>
<line x1="239.4" y1="74.87467149858145" x2="242.6" y2="74.87467149858145" stroke="#111" stroke-width="0.6"/>
<rect x="247.45" y="77.92" width="3.50" height="3.50" fill="#1a4a8a"/>
<rect x="244.25" y="77.43" width="3.50" height="3.50" fill="#1a4a8a"/>
<rect x="250.45" y="76.94" width="3.50" height="3.50" fill="#1a4a8a"/>
<rect x="245.85" y="77.43" width="3.50" height="3.50" fill="#1a4a8a"/>
<line x1="245.0" y1="79.184" x2="253.0" y2="79.184" stroke="#111" stroke-width="1.0"/>
<line x1="249" y1="78.78473317192635" x2="249" y2="79.58326682807366" stroke="#111" stroke-width="0.6"/>
<line x1="247.4" y1="78.78473317192635" x2="250.6" y2="78.78473317192635" stroke="#111" stroke-width="0.6"/>
<line x1="247.4" y1="79.58326682807366" x2="250.6" y2="79.58326682807366" stroke="#111" stroke-width="0.6"/>
<path d="M255.27,69.96 L259.12,69.96 L257.20,73.28 Z" fill="#2db34a"/>
<path d="M252.07,68.98 L255.93,68.98 L254.00,72.31 Z" fill="#2db34a"/>
<path d="M258.27,68.98 L262.12,68.98 L260.20,72.31 Z" fill="#2db34a"/>
<path d="M253.67,67.03 L257.52,67.03 L255.60,70.35 Z" fill="#2db34a"/>
<line x1="253.0" y1="70.1375" x2="261.0" y2="70.1375" stroke="#111" stroke-width="1.0"/>
<line x1="257" y1="68.90687698705086" x2="257" y2="71.36812301294913" stroke="#111" stroke-width="0.6"/>
<line x1="255.4" y1="68.90687698705086" x2="258.6" y2="68.90687698705086" stroke="#111" stroke-width="0.6"/>
<line x1="255.4" y1="71.36812301294913" x2="258.6" y2="71.36812301294913" stroke="#111" stroke-width="0.6"/>
<circle cx="268.10" cy="87.99" r="1.75" fill="#c8102e"/>
<circle cx="264.30" cy="87.50" r="1.75" fill="#c8102e"/>
<circle cx="270.70" cy="87.01" r="1.75" fill="#c8102e"/>
<circle cx="266.10" cy="86.52" r="1.75" fill="#c8102e"/>
<circle cx="269.10" cy="84.07" r="1.75" fill="#c8102e"/>
<line x1="263.5" y1="86.6168" x2="271.5" y2="86.6168" stroke="#111" stroke-width="1.0"/>
<line x1="267.5" y1="85.09381815506553" x2="267.5" y2="88.13978184493448" stroke="#111" stroke-width="0.6"/>
<line x1="265.9" y1="85.09381815506553" x2="269.1" y2="85.09381815506553" stroke="#111" stroke-width="0.6"/>
<line x1="265.9" y1="88.13978184493448" x2="269.1" y2="88.13978184493448" stroke="#111" stroke-width="0.6"/>
<rect x="273.95" y="91.62" width="3.50" height="3.50" fill="#1a4a8a"/>
<rect x="270.75" y="91.13" width="3.50" height="3.50" fill="#1a4a8a"/>
<rect x="276.95" y="90.64" width="3.50" height="3.50" fill="#1a4a8a"/>
<rect x="272.35" y="91.13" width="3.50" height="3.50" fill="#1a4a8a"/>
<line x1="271.5" y1="92.876" x2="279.5" y2="92.876" stroke="#111" stroke-width="1.0"/>
<line x1="275.5" y1="92.47673317192634" x2="275.5" y2="93.27526682807365" stroke="#111" stroke-width="0.6"/>
<line x1="273.9" y1="92.47673317192634" x2="277.1" y2="92.47673317192634" stroke="#111" stroke-width="0.6"/>
<line x1="273.9" y1="93.27526682807365" x2="277.1" y2="93.27526682807365" stroke="#111" stroke-width="0.6"/>
<path d="M281.77,80.23 L285.62,80.23 L283.70,83.55 Z" fill="#2db34a"/>
<path d="M278.57,79.74 L282.43,79.74 L280.50,83.06 Z" fill="#2db34a"/>
<path d="M284.77,79.25 L288.62,79.25 L286.70,82.58 Z" fill="#2db34a"/>
<path d="M280.18,79.74 L284.03,79.74 L282.10,83.06 Z" fill="#2db34a"/>
<line x1="279.5" y1="81.14" x2="287.5" y2="81.14" stroke="#111" stroke-width="1.0"/>
<line x1="283.5" y1="80.74073317192634" x2="283.5" y2="81.53926682807366" stroke="#111" stroke-width="0.6"/>
<line x1="281.9" y1="80.74073317192634" x2="285.1" y2="80.74073317192634" stroke="#111" stroke-width="0.6"/>
<line x1="281.9" y1="81.53926682807366" x2="285.1" y2="81.53926682807366" stroke="#111" stroke-width="0.6"/>
<circle cx="294.10" cy="64.51" r="1.75" fill="#c8102e"/>
<circle cx="290.30" cy="64.03" r="1.75" fill="#c8102e"/>
<circle cx="296.70" cy="63.05" r="1.75" fill="#c8102e"/>
<circle cx="292.10" cy="62.56" r="1.75" fill="#c8102e"/>
<circle cx="295.10" cy="63.54" r="1.75" fill="#c8102e"/>
<line x1="289.5" y1="63.536" x2="297.5" y2="63.536" stroke="#111" stroke-width="1.0"/>
<line x1="293.5" y1="62.76282311208883" x2="293.5" y2="64.30917688791116" stroke="#111" stroke-width="0.6"/>
<line x1="291.9" y1="62.76282311208883" x2="295.1" y2="62.76282311208883" stroke="#111" stroke-width="0.6"/>
<line x1="291.9" y1="64.30917688791116" x2="295.1" y2="64.30917688791116" stroke="#111" stroke-width="0.6"/>
<rect x="299.95" y="68.63" width="3.50" height="3.50" fill="#1a4a8a"/>
<rect x="296.75" y="66.68" width="3.50" height="3.50" fill="#1a4a8a"/>
<rect x="302.95" y="65.70" width="3.50" height="3.50" fill="#1a4a8a"/>
<rect x="298.35" y="66.19" width="3.50" height="3.50" fill="#1a4a8a"/>
<line x1="297.5" y1="68.54825" x2="305.5" y2="68.54825" stroke="#111" stroke-width="1.0"/>
<line x1="301.5" y1="67.26220169219815" x2="301.5" y2="69.83429830780184" stroke="#111" stroke-width="0.6"/>
<line x1="299.9" y1="67.26220169219815" x2="303.1" y2="67.26220169219815" stroke="#111" stroke-width="0.6"/>
<line x1="299.9" y1="69.83429830780184" x2="303.1" y2="69.83429830780184" stroke="#111" stroke-width="0.6"/>
<path d="M307.77,61.16 L311.62,61.16 L309.70,64.48 Z" fill="#2db34a"/>
<path d="M304.57,60.18 L308.43,60.18 L306.50,63.50 Z" fill="#2db34a"/>
<path d="M310.77,59.69 L314.62,59.69 L312.70,63.02 Z" fill="#2db34a"/>
<path d="M306.18,60.18 L310.03,60.18 L308.10,63.50 Z" fill="#2db34a"/>
<line x1="305.5" y1="61.70225" x2="313.5" y2="61.70225" stroke="#111" stroke-width="1.0"/>
<line x1="309.5" y1="61.08693849352543" x2="309.5" y2="62.31756150647457" stroke="#111" stroke-width="0.6"/>
<line x1="307.9" y1="61.08693849352543" x2="311.1" y2="61.08693849352543" stroke="#111" stroke-width="0.6"/>
<line x1="307.9" y1="62.31756150647457" x2="311.1" y2="62.31756150647457" stroke="#111" stroke-width="0.6"/>
<path d="M248,64.3 L248,61.5 L257,61.5 L257,64.3" fill="none" stroke="#231f20" stroke-width="0.85"/>
<text x="252.5" y="62.4" font-size="6.8" text-anchor="middle" fill="#231f20" letter-spacing="-0.2">***</text>
<path d="M275,78.3 L275,75.5 L284,75.5 L284,78.3" fill="none" stroke="#231f20" stroke-width="0.85"/>
<text x="279.5" y="76.4" font-size="6.8" text-anchor="middle" fill="#231f20" letter-spacing="-0.2">***</text>
<path d="M301,58.3 L301,55.5 L310,55.5 L310,58.3" fill="none" stroke="#231f20" stroke-width="0.85"/>
<text x="305.5" y="56.4" font-size="6.8" text-anchor="middle" fill="#231f20" letter-spacing="-0.2">***</text>
<text x="214.0" y="73" font-size="7.6" text-anchor="middle" fill="#231f20" transform="rotate(-90 214.0 73)" textLength="24.7" lengthAdjust="spacingAndGlyphs"><tspan>B cells (%)</tspan></text>
<line x1="234.5" y1="120.8" x2="234.5" y2="172.0" stroke="#231f20" stroke-width="1.1"/>
<line x1="234.0" y1="171.5" x2="317" y2="171.5" stroke="#231f20" stroke-width="1.1"/>
<line x1="231.7" y1="171.5" x2="234.5" y2="171.5" stroke="#231f20" stroke-width="0.95"/>
<text x="230.1" y="173.75" font-size="7.0" text-anchor="end" fill="#231f20">0</text>
<line x1="231.7" y1="158.5" x2="234.5" y2="158.5" stroke="#231f20" stroke-width="0.95"/>
<text x="230.1" y="161.225" font-size="7.0" text-anchor="end" fill="#231f20">20</text>
<line x1="231.7" y1="146.5" x2="234.5" y2="146.5" stroke="#231f20" stroke-width="0.95"/>
<text x="230.1" y="148.7" font-size="7.0" text-anchor="end" fill="#231f20">40</text>
<line x1="231.7" y1="133.5" x2="234.5" y2="133.5" stroke="#231f20" stroke-width="0.95"/>
<text x="230.1" y="136.175" font-size="7.0" text-anchor="end" fill="#231f20">60</text>
<line x1="231.7" y1="121.5" x2="234.5" y2="121.5" stroke="#231f20" stroke-width="0.95"/>
<text x="230.1" y="123.65" font-size="7.0" text-anchor="end" fill="#231f20">80</text>
<text x="247" y="178.5" font-size="6.8" text-anchor="middle" fill="#231f20">SP</text>
<text x="275.5" y="178.5" font-size="6.8" text-anchor="middle" fill="#231f20">iLN</text>
<text x="302" y="178.5" font-size="6.8" text-anchor="middle" fill="#231f20">PP</text>
<circle cx="241.60" cy="141.24" r="1.75" fill="#c8102e"/>
<circle cx="237.80" cy="139.99" r="1.75" fill="#c8102e"/>
<circle cx="244.20" cy="138.74" r="1.75" fill="#c8102e"/>
<circle cx="239.60" cy="136.86" r="1.75" fill="#c8102e"/>
<circle cx="242.60" cy="134.98" r="1.75" fill="#c8102e"/>
<line x1="237.0" y1="138.35925" x2="245.0" y2="138.35925" stroke="#111" stroke-width="1.0"/>
<line x1="241" y1="135.86995548397744" x2="241" y2="140.84854451602257" stroke="#111" stroke-width="0.6"/>
<line x1="239.4" y1="135.86995548397744" x2="242.6" y2="135.86995548397744" stroke="#111" stroke-width="0.6"/>
<line x1="239.4" y1="140.84854451602257" x2="242.6" y2="140.84854451602257" stroke="#111" stroke-width="0.6"/>
<rect x="247.85" y="155.15" width="3.50" height="3.50" fill="#1a4a8a"/>
<rect x="244.05" y="152.64" width="3.50" height="3.50" fill="#1a4a8a"/>
<rect x="250.45" y="152.02" width="3.50" height="3.50" fill="#1a4a8a"/>
<rect x="245.85" y="151.39" width="3.50" height="3.50" fill="#1a4a8a"/>
<rect x="248.85" y="152.02" width="3.50" height="3.50" fill="#1a4a8a"/>
<line x1="245.0" y1="154.39125" x2="253.0" y2="154.39125" stroke="#111" stroke-width="1.0"/>
<line x1="249" y1="152.9225635652053" x2="249" y2="155.85993643479472" stroke="#111" stroke-width="0.6"/>
<line x1="247.4" y1="152.9225635652053" x2="250.6" y2="152.9225635652053" stroke="#111" stroke-width="0.6"/>
<line x1="247.4" y1="155.85993643479472" x2="250.6" y2="155.85993643479472" stroke="#111" stroke-width="0.6"/>
<path d="M255.27,129.19 L259.12,129.19 L257.20,132.52 Z" fill="#2db34a"/>
<path d="M252.07,127.31 L255.93,127.31 L254.00,130.64 Z" fill="#2db34a"/>
<path d="M258.27,126.06 L262.12,126.06 L260.20,129.39 Z" fill="#2db34a"/>
<path d="M253.67,124.81 L257.52,124.81 L255.60,128.14 Z" fill="#2db34a"/>
<line x1="253.0" y1="128.2453125" x2="261.0" y2="128.2453125" stroke="#111" stroke-width="1.0"/>
<line x1="257" y1="126.37528064448925" x2="257" y2="130.11534435551076" stroke="#111" stroke-width="0.6"/>
<line x1="255.4" y1="126.37528064448925" x2="258.6" y2="126.37528064448925" stroke="#111" stroke-width="0.6"/>
<line x1="255.4" y1="130.11534435551076" x2="258.6" y2="130.11534435551076" stroke="#111" stroke-width="0.6"/>
<circle cx="268.20" cy="168.17" r="1.75" fill="#c8102e"/>
<circle cx="265.00" cy="167.54" r="1.75" fill="#c8102e"/>
<circle cx="271.20" cy="167.54" r="1.75" fill="#c8102e"/>
<circle cx="266.60" cy="166.92" r="1.75" fill="#c8102e"/>
<line x1="264.0" y1="167.54250000000002" x2="272.0" y2="167.54250000000002" stroke="#111" stroke-width="1.0"/>
<line x1="268" y1="167.031169016194" x2="268" y2="168.053830983806" stroke="#111" stroke-width="0.6"/>
<line x1="266.4" y1="167.031169016194" x2="269.6" y2="167.031169016194" stroke="#111" stroke-width="0.6"/>
<line x1="266.4" y1="168.053830983806" x2="269.6" y2="168.053830983806" stroke="#111" stroke-width="0.6"/>
<rect x="274.45" y="167.05" width="3.50" height="3.50" fill="#1a4a8a"/>
<rect x="271.25" y="166.42" width="3.50" height="3.50" fill="#1a4a8a"/>
<rect x="277.45" y="166.42" width="3.50" height="3.50" fill="#1a4a8a"/>
<rect x="272.85" y="165.79" width="3.50" height="3.50" fill="#1a4a8a"/>
<line x1="272.0" y1="168.16875000000002" x2="280.0" y2="168.16875000000002" stroke="#111" stroke-width="1.0"/>
<line x1="276" y1="167.657419016194" x2="276" y2="168.680080983806" stroke="#111" stroke-width="0.6"/>
<line x1="274.4" y1="167.657419016194" x2="277.6" y2="167.657419016194" stroke="#111" stroke-width="0.6"/>
<line x1="274.4" y1="168.680080983806" x2="277.6" y2="168.680080983806" stroke="#111" stroke-width="0.6"/>
<path d="M282.27,165.52 L286.12,165.52 L284.20,168.84 Z" fill="#2db34a"/>
<path d="M279.07,164.89 L282.93,164.89 L281.00,168.22 Z" fill="#2db34a"/>
<path d="M285.27,164.89 L289.12,164.89 L287.20,168.22 Z" fill="#2db34a"/>
<path d="M280.68,164.26 L284.53,164.26 L282.60,167.59 Z" fill="#2db34a"/>
<line x1="280.0" y1="166.29000000000002" x2="288.0" y2="166.29000000000002" stroke="#111" stroke-width="1.0"/>
<line x1="284" y1="165.77866901619402" x2="284" y2="166.801330983806" stroke="#111" stroke-width="0.6"/>
<line x1="282.4" y1="165.77866901619402" x2="285.6" y2="165.77866901619402" stroke="#111" stroke-width="0.6"/>
<line x1="282.4" y1="166.801330983806" x2="285.6" y2="166.801330983806" stroke="#111" stroke-width="0.6"/>
<circle cx="295.20" cy="162.53" r="1.75" fill="#c8102e"/>
<circle cx="292.00" cy="161.91" r="1.75" fill="#c8102e"/>
<circle cx="298.20" cy="161.28" r="1.75" fill="#c8102e"/>
<circle cx="293.60" cy="161.28" r="1.75" fill="#c8102e"/>
<line x1="291.0" y1="161.74968750000002" x2="299.0" y2="161.74968750000002" stroke="#111" stroke-width="1.0"/>
<line x1="295" y1="161.1500987737676" x2="295" y2="162.3492762262324" stroke="#111" stroke-width="0.6"/>
<line x1="293.4" y1="161.1500987737676" x2="296.6" y2="161.1500987737676" stroke="#111" stroke-width="0.6"/>
<line x1="293.4" y1="162.3492762262324" x2="296.6" y2="162.3492762262324" stroke="#111" stroke-width="0.6"/>
<rect x="301.45" y="165.79" width="3.50" height="3.50" fill="#1a4a8a"/>
<rect x="298.25" y="165.17" width="3.50" height="3.50" fill="#1a4a8a"/>
<rect x="304.45" y="165.17" width="3.50" height="3.50" fill="#1a4a8a"/>
<rect x="299.85" y="164.54" width="3.50" height="3.50" fill="#1a4a8a"/>
<line x1="299.0" y1="166.91625000000002" x2="307.0" y2="166.91625000000002" stroke="#111" stroke-width="1.0"/>
<line x1="303" y1="166.40491901619401" x2="303" y2="167.427580983806" stroke="#111" stroke-width="0.6"/>
<line x1="301.4" y1="166.40491901619401" x2="304.6" y2="166.40491901619401" stroke="#111" stroke-width="0.6"/>
<line x1="301.4" y1="167.427580983806" x2="304.6" y2="167.427580983806" stroke="#111" stroke-width="0.6"/>
<path d="M309.27,160.51 L313.12,160.51 L311.20,163.83 Z" fill="#2db34a"/>
<path d="M306.07,159.88 L309.93,159.88 L308.00,163.21 Z" fill="#2db34a"/>
<path d="M312.27,159.25 L316.12,159.25 L314.20,162.58 Z" fill="#2db34a"/>
<path d="M307.68,159.88 L311.53,159.88 L309.60,163.21 Z" fill="#2db34a"/>
<line x1="307.0" y1="161.28" x2="315.0" y2="161.28" stroke="#111" stroke-width="1.0"/>
<line x1="311" y1="160.76866901619402" x2="311" y2="161.791330983806" stroke="#111" stroke-width="0.6"/>
<line x1="309.4" y1="160.76866901619402" x2="312.6" y2="160.76866901619402" stroke="#111" stroke-width="0.6"/>
<line x1="309.4" y1="161.791330983806" x2="312.6" y2="161.791330983806" stroke="#111" stroke-width="0.6"/>
<path d="M248,122.8 L248,120 L257,120 L257,122.8" fill="none" stroke="#231f20" stroke-width="0.85"/>
<text x="252.5" y="120.9" font-size="6.8" text-anchor="middle" fill="#231f20" letter-spacing="-0.2">***</text>
<path d="M276,161.3 L276,158.5 L284,158.5 L284,161.3" fill="none" stroke="#231f20" stroke-width="0.85"/>
<text x="280.0" y="159.4" font-size="6.8" text-anchor="middle" fill="#231f20" letter-spacing="-0.2">***</text>
<path d="M303,158.3 L303,155.5 L311,155.5 L311,158.3" fill="none" stroke="#231f20" stroke-width="0.85"/>
<text x="307.0" y="156.4" font-size="6.8" text-anchor="middle" fill="#231f20" letter-spacing="-0.2">***</text>
<text x="215.6" y="142.6" font-size="7.6" text-anchor="middle" fill="#231f20" transform="rotate(-90 215.6 142.6)" textLength="53.8" lengthAdjust="spacingAndGlyphs"><tspan>B cell number (10</tspan><tspan font-size="5.78" dy="-2.74" font-style="normal">5</tspan><tspan dy="2.74">)</tspan></text>
<ellipse cx="95.00" cy="61.00" rx="3.20" ry="4.20" fill="#e2e2e2" stroke="none" stroke-width="0.6"/>
<ellipse cx="95.00" cy="61.00" rx="2.40" ry="3.40" fill="none" stroke="#777" stroke-width="0.7"/>
<ellipse cx="95.00" cy="61.20" rx="1.50" ry="2.30" fill="#fbfbfb" stroke="#555" stroke-width="0.6"/>
<defs><filter id="blB" x="-20%" y="-20%" width="140%" height="140%"><feGaussianBlur stdDeviation="0.9"/></filter></defs>
<ellipse cx="62.20" cy="255.00" rx="6.00" ry="11.00" fill="#f0f0f0" stroke="none" stroke-width="0.6"/>
<ellipse cx="62.20" cy="266.00" rx="8.00" ry="4.50" fill="#e6e6e6" stroke="none" stroke-width="0.6"/>
<path d="M61.8,252.8h0.7 M58.2,250.2h0.7 M67.0,258.7h0.7 M64.6,255.4h0.7 M71.0,246.6h0.7 M55.1,245.6h0.7 M63.0,240.4h0.7 M56.8,243.1h0.7 M56.7,254.3h0.7 M69.9,252.4h0.7 M55.9,248.7h0.7 M58.3,249.2h0.7 M58.5,254.9h0.7 M65.4,244.4h0.7 M64.5,247.5h0.7 M64.1,256.9h0.7 M60.5,243.0h0.7 M63.0,239.6h0.7 M59.8,238.8h0.7 M59.5,251.5h0.7 M60.5,243.7h0.7 M66.2,259.6h0.7 M58.9,256.6h0.7 M64.6,249.1h0.7 M62.7,253.9h0.7 M61.3,253.1h0.7 M60.0,242.0h0.7 M58.3,255.1h0.7 M66.7,245.2h0.7 M62.6,248.6h0.7 M61.3,235.3h0.7 M68.7,242.5h0.7 M64.6,249.3h0.7 M63.5,248.8h0.7 M66.3,240.0h0.7 M66.7,248.3h0.7 M62.4,243.7h0.7 M62.0,251.6h0.7 M61.0,252.6h0.7 M60.9,258.0h0.7 M68.0,258.2h0.7 M68.7,249.1h0.7 M64.8,241.5h0.7 M58.7,245.4h0.7 M61.3,242.3h0.7 M57.0,240.5h0.7 M58.4,239.2h0.7 M55.8,245.3h0.7 M60.7,253.9h0.7 M58.2,249.7h0.7 M62.0,253.8h0.7 M70.5,247.0h0.7 M64.6,241.0h0.7 M61.6,247.2h0.7 M71.8,237.9h0.7 M61.6,247.2h0.7 M58.8,249.8h0.7 M62.3,248.0h0.7 M59.0,252.9h0.7 M58.0,244.0h0.7 M66.0,258.2h0.7 M58.8,252.0h0.7 M61.8,255.4h0.7 M62.7,260.6h0.7 M69.1,239.2h0.7 M60.7,241.0h0.7 M63.7,253.0h0.7 M58.1,238.6h0.7 M61.3,258.1h0.7" stroke="#bcbcbc" stroke-width="0.70" fill="none"/>
<path d="M62.5,258.7h0.7 M66.9,259.5h0.7 M62.9,259.7h0.7 M61.4,264.3h0.7 M61.8,255.1h0.7 M64.9,261.8h0.7 M60.3,260.9h0.7 M66.5,244.6h0.7 M55.3,259.6h0.7 M58.5,264.7h0.7 M63.5,257.6h0.7 M62.4,256.5h0.7 M59.6,258.5h0.7 M66.2,251.8h0.7 M63.2,256.2h0.7 M62.5,255.0h0.7 M62.8,253.7h0.7 M62.1,257.0h0.7 M55.5,259.7h0.7 M51.0,256.5h0.7 M56.2,259.0h0.7 M60.9,261.3h0.7 M61.4,257.1h0.7 M66.7,256.1h0.7 M62.1,263.7h0.7 M64.8,265.9h0.7 M64.0,255.9h0.7 M66.5,261.7h0.7 M61.1,260.2h0.7 M61.9,260.0h0.7 M62.3,257.5h0.7 M69.0,259.8h0.7 M56.9,258.8h0.7 M61.0,259.3h0.7 M63.2,259.5h0.7 M55.4,251.7h0.7 M67.8,257.9h0.7 M67.6,260.1h0.7 M60.1,251.2h0.7 M64.2,260.1h0.7 M69.2,257.2h0.7 M62.5,250.8h0.7 M59.8,259.0h0.7 M60.8,254.5h0.7 M67.9,264.4h0.7 M57.9,258.4h0.7 M60.5,263.9h0.7 M63.1,260.4h0.7 M58.5,263.3h0.7 M61.0,265.5h0.7" stroke="#a8a8a8" stroke-width="0.70" fill="none"/>
<path d="M67.7,264.6h0.7 M64.8,266.5h0.7 M61.1,267.6h0.7 M62.1,266.1h0.7 M59.0,264.4h0.7 M62.6,266.4h0.7 M67.6,263.0h0.7 M62.8,269.5h0.7 M58.8,263.7h0.7 M57.6,267.7h0.7 M55.9,266.0h0.7 M58.9,264.7h0.7 M60.7,265.2h0.7 M60.4,265.9h0.7 M63.5,265.0h0.7 M64.6,264.9h0.7 M59.9,266.1h0.7 M53.6,264.2h0.7 M58.9,263.7h0.7 M61.0,264.4h0.7 M57.6,268.2h0.7 M72.6,268.2h0.7 M63.7,268.5h0.7 M63.8,265.4h0.7 M62.8,265.3h0.7 M51.2,264.1h0.7 M58.1,267.1h0.7 M59.8,262.0h0.7 M62.1,266.6h0.7 M66.0,266.8h0.7 M74.2,264.1h0.7 M68.8,268.0h0.7 M59.0,265.7h0.7 M58.5,265.7h0.7 M60.0,265.0h0.7 M62.2,263.7h0.7 M67.8,267.9h0.7 M58.7,267.9h0.7 M56.9,262.1h0.7 M63.8,267.2h0.7 M58.5,267.2h0.7 M57.8,266.7h0.7 M60.0,267.9h0.7 M62.7,263.7h0.7 M61.2,263.0h0.7 M59.0,265.4h0.7 M63.3,261.0h0.7 M57.4,266.7h0.7 M60.1,259.8h0.7 M57.2,264.5h0.7 M66.4,265.9h0.7 M61.1,267.5h0.7 M62.8,265.6h0.7 M65.5,263.0h0.7 M61.2,268.8h0.7 M51.5,264.3h0.7 M63.0,266.5h0.7" stroke="#9a9a9a" stroke-width="0.70" fill="none"/>
<path d="M57.60,263.00 C57.60,249.00 59.44,247.00 62.20,247.00 C64.96,247.00 66.80,249.00 66.80,263.00" fill="none" stroke="#a0a0a0" stroke-width="0.6"/>
<path d="M58.80,263.00 C58.80,252.50 60.16,250.50 62.20,250.50 C64.24,250.50 65.60,252.50 65.60,263.00" fill="none" stroke="#8a8a8a" stroke-width="0.6"/>
<path d="M60.00,263.00 C60.00,256.00 60.88,254.00 62.20,254.00 C63.52,254.00 64.40,256.00 64.40,263.00" fill="none" stroke="#7a7a7a" stroke-width="0.6"/>
<ellipse cx="62.20" cy="266.40" rx="6.20" ry="3.40" fill="none" stroke="#8e8e8e" stroke-width="0.65"/>
<ellipse cx="62.36" cy="266.40" rx="4.59" ry="2.52" fill="none" stroke="#6e6e6e" stroke-width="0.65"/>
<ellipse cx="62.50" cy="266.40" rx="3.10" ry="1.70" fill="none" stroke="#555555" stroke-width="0.65"/>
<ellipse cx="62.63" cy="266.40" rx="1.74" ry="0.95" fill="none" stroke="#444444" stroke-width="0.65"/>
<rect x="54.3" y="234.4" width="18.6" height="27.8" fill="none" stroke="#858585" stroke-width="0.6"/>
<rect x="53.5" y="262.2" width="20.3" height="7.9" fill="none" stroke="#858585" stroke-width="0.6"/>
<rect x="33" y="230" width="50.5" height="42" fill="none" stroke="#1e1e1e" stroke-width="1.05"/>
<path d="M31.0,233.0H32.5 M31.0,237.6H32.5 M31.0,242.2H32.5 M31.0,246.9H32.5 M31.0,251.5H32.5 M31.0,256.1H32.5 M31.0,260.8H32.5 M31.0,265.4H32.5 M31.0,270.0H32.5" stroke="#231f20" stroke-width="0.6" fill="none"/>
<path d="M35.0,272.5V274.0 M38.9,272.5V274.0 M42.8,272.5V274.0 M46.6,272.5V274.0 M50.5,272.5V274.0 M54.4,272.5V274.0 M58.2,272.5V274.0 M62.1,272.5V274.0 M66.0,272.5V274.0 M69.9,272.5V274.0 M73.8,272.5V274.0 M77.6,272.5V274.0 M81.5,272.5V274.0" stroke="#231f20" stroke-width="0.6" fill="none"/>
<text x="36.8" y="255.2" font-size="7.0" text-anchor="start" fill="#231f20" textLength="12.3" lengthAdjust="spacingAndGlyphs">32.8</text>
<text x="36.8" y="269.2" font-size="7.0" text-anchor="start" fill="#231f20" textLength="12.3" lengthAdjust="spacingAndGlyphs">66.7</text>
<g filter="url(#blB)">
<path d="M35.8,334.5 L55.8,334.5 L56.8,325.5 L51.8,316.5 L44.8,309.5 L39.8,313.5 L36.8,322.5 Z" fill="#dadada"/>
<path d="M36.8,334.5 L53.8,334.5 L54.8,329.5 L43.8,329.5 Z" fill="#c8c8c8"/>
<ellipse cx="55.80" cy="310.00" rx="11.50" ry="7.50" fill="#cdcdcd" stroke="none" stroke-width="0.6" transform="rotate(-8 55.80 310.00)"/>
<ellipse cx="53.80" cy="309.00" rx="9.00" ry="5.20" fill="#a9a9a9" stroke="none" stroke-width="0.6" transform="rotate(-8 53.80 309.00)"/>
<ellipse cx="52.30" cy="311.00" rx="2.50" ry="1.60" fill="#d6d6d6" stroke="none" stroke-width="0.6"/>
<ellipse cx="63.30" cy="326.00" rx="3.80" ry="6.50" fill="#c4c4c4" stroke="none" stroke-width="0.6" transform="rotate(10 63.30 326.00)"/>
<ellipse cx="63.30" cy="325.00" rx="2.00" ry="4.50" fill="#acacac" stroke="none" stroke-width="0.6" transform="rotate(10 63.30 325.00)"/>
</g>
<path d="M42.8,325.1h0.7 M39.5,328.4h0.7 M46.0,333.4h0.7 M49.9,325.8h0.7 M53.3,317.7h0.7 M43.0,312.0h0.7 M50.0,332.4h0.7 M41.9,315.2h0.7 M51.5,318.1h0.7 M41.8,331.7h0.7 M42.6,321.4h0.7 M54.5,326.0h0.7 M38.4,331.5h0.7 M34.4,328.5h0.7 M47.7,319.4h0.7 M40.1,315.8h0.7 M55.2,323.2h0.7 M41.0,325.9h0.7 M52.0,324.4h0.7 M49.0,328.2h0.7 M45.2,324.4h0.7 M44.1,316.5h0.7 M37.2,325.2h0.7 M40.5,322.4h0.7 M43.3,328.3h0.7 M46.5,324.3h0.7 M43.1,321.7h0.7 M42.8,324.0h0.7 M34.5,322.4h0.7 M47.0,324.9h0.7 M38.3,320.0h0.7 M42.5,319.3h0.7 M37.5,316.0h0.7 M44.9,324.8h0.7 M45.7,317.3h0.7 M47.1,321.3h0.7 M41.8,316.9h0.7 M41.7,326.8h0.7 M43.7,321.8h0.7 M41.7,323.7h0.7 M55.4,325.6h0.7 M46.6,328.0h0.7 M45.4,310.8h0.7 M46.3,323.8h0.7 M57.8,318.2h0.7 M52.3,314.3h0.7 M54.0,323.3h0.7 M49.8,326.7h0.7 M48.9,323.1h0.7 M40.9,321.5h0.7 M40.2,321.8h0.7 M35.1,323.5h0.7 M50.7,329.7h0.7 M52.7,323.4h0.7 M43.9,321.0h0.7 M47.2,326.8h0.7 M46.8,314.4h0.7 M53.1,325.4h0.7 M50.7,322.8h0.7 M43.2,334.1h0.7 M38.4,312.4h0.7 M56.8,323.9h0.7 M42.2,319.0h0.7 M32.8,333.7h0.7 M49.0,325.6h0.7 M49.7,317.0h0.7 M47.6,329.0h0.7 M49.3,323.1h0.7 M39.5,321.5h0.7 M42.1,324.7h0.7 M41.6,327.1h0.7 M41.7,319.4h0.7 M51.8,321.5h0.7 M48.0,314.7h0.7 M53.9,313.8h0.7 M45.4,321.2h0.7 M40.2,320.9h0.7 M52.2,332.9h0.7 M43.4,320.4h0.7 M33.5,332.8h0.7 M38.4,317.0h0.7 M45.4,326.9h0.7 M49.3,319.6h0.7 M40.9,321.4h0.7 M49.6,328.2h0.7 M48.5,311.1h0.7 M41.4,331.2h0.7 M41.6,322.0h0.7 M61.2,322.1h0.7 M53.3,333.5h0.7 M49.3,319.9h0.7 M48.7,326.1h0.7 M51.8,315.9h0.7 M46.0,310.2h0.7 M39.5,325.7h0.7 M55.8,313.9h0.7 M43.2,332.8h0.7 M47.8,324.9h0.7 M45.4,314.3h0.7 M44.0,330.2h0.7 M45.3,326.8h0.7 M42.6,317.3h0.7 M42.2,316.2h0.7 M36.6,322.4h0.7 M43.4,316.9h0.7 M49.0,316.9h0.7 M47.4,325.5h0.7 M54.8,324.6h0.7 M49.5,322.9h0.7 M36.4,327.6h0.7 M54.9,321.8h0.7 M57.4,328.0h0.7 M56.8,321.4h0.7 M39.5,322.8h0.7" stroke="#bdbdbd" stroke-width="0.70" fill="none"/>
<path d="M50.7,310.3h0.7 M54.1,310.2h0.7 M55.2,305.6h0.7 M52.1,314.6h0.7 M55.4,304.1h0.7 M41.7,308.2h0.7 M57.8,304.8h0.7 M43.3,311.7h0.7 M78.2,313.0h0.7 M48.8,309.0h0.7 M55.0,304.4h0.7 M46.0,308.9h0.7 M61.3,310.5h0.7 M51.0,311.5h0.7 M59.4,305.6h0.7 M47.3,312.1h0.7 M63.8,311.1h0.7 M64.1,315.4h0.7 M45.1,311.4h0.7 M65.0,314.0h0.7 M65.8,307.1h0.7 M60.6,312.6h0.7 M51.6,310.3h0.7 M46.5,306.1h0.7 M58.1,313.7h0.7 M55.8,315.6h0.7 M66.2,305.6h0.7 M55.1,307.5h0.7 M61.6,312.4h0.7 M50.2,313.2h0.7 M46.6,314.2h0.7 M38.7,308.8h0.7 M50.8,312.2h0.7 M57.6,300.7h0.7 M46.4,307.2h0.7 M64.1,316.0h0.7 M60.6,315.2h0.7 M50.5,311.2h0.7 M56.7,305.2h0.7 M53.3,308.1h0.7 M59.0,311.5h0.7 M52.0,307.4h0.7 M42.5,311.5h0.7 M55.1,309.4h0.7 M59.6,307.5h0.7 M49.1,307.1h0.7 M53.4,310.4h0.7 M51.6,307.7h0.7 M46.5,307.9h0.7 M43.6,306.9h0.7 M59.6,310.2h0.7 M54.7,308.6h0.7 M62.1,304.8h0.7 M58.9,306.6h0.7 M57.7,308.9h0.7 M52.0,310.7h0.7 M51.3,304.6h0.7 M52.4,304.5h0.7 M56.8,307.1h0.7 M47.0,311.0h0.7" stroke="#a0a0a0" stroke-width="0.70" fill="none"/>
<ellipse cx="58.00" cy="309.00" rx="12.90" ry="9.40" fill="none" stroke="#7a7a7a" stroke-width="0.6" transform="rotate(-8 58.00 309.00)"/>
<ellipse cx="64.00" cy="325.90" rx="5.80" ry="8.30" fill="none" stroke="#7a7a7a" stroke-width="0.6" transform="rotate(10 64.00 325.90)"/>
<rect x="31.8" y="294.5" width="51" height="41.5" fill="none" stroke="#1e1e1e" stroke-width="1.05"/>
<path d="M29.8,297.5H31.3 M29.8,302.1H31.3 M29.8,306.6H31.3 M29.8,311.2H31.3 M29.8,315.8H31.3 M29.8,320.3H31.3 M29.8,324.9H31.3 M29.8,329.4H31.3 M29.8,334.0H31.3" stroke="#231f20" stroke-width="0.6" fill="none"/>
<path d="M33.8,336.5V338.0 M37.7,336.5V338.0 M41.6,336.5V338.0 M45.5,336.5V338.0 M49.5,336.5V338.0 M53.4,336.5V338.0 M57.3,336.5V338.0 M61.2,336.5V338.0 M65.1,336.5V338.0 M69.0,336.5V338.0 M73.0,336.5V338.0 M76.9,336.5V338.0 M80.8,336.5V338.0" stroke="#231f20" stroke-width="0.6" fill="none"/>
<text x="80.2" y="302.3" font-size="7.0" text-anchor="end" fill="#231f20" textLength="12.3" lengthAdjust="spacingAndGlyphs">73.4</text>
<text x="80.8" y="334.2" font-size="7.0" text-anchor="end" fill="#231f20" textLength="12.0" lengthAdjust="spacingAndGlyphs">8.37</text>
<ellipse cx="117.20" cy="255.00" rx="6.00" ry="11.00" fill="#f0f0f0" stroke="none" stroke-width="0.6"/>
<ellipse cx="117.20" cy="266.00" rx="8.00" ry="4.50" fill="#e6e6e6" stroke="none" stroke-width="0.6"/>
<path d="M119.0,245.5h0.7 M115.9,254.3h0.7 M116.0,249.1h0.7 M112.1,251.5h0.7 M116.6,251.1h0.7 M116.0,241.0h0.7 M111.8,245.3h0.7 M115.1,236.6h0.7 M122.8,255.2h0.7 M110.4,248.3h0.7 M115.8,257.7h0.7 M115.0,255.9h0.7 M121.4,246.8h0.7 M121.2,254.5h0.7 M110.9,245.6h0.7 M114.4,247.2h0.7 M111.7,239.0h0.7 M117.5,246.9h0.7 M123.4,248.7h0.7 M123.6,257.5h0.7 M113.7,250.7h0.7 M111.2,242.8h0.7 M120.2,247.4h0.7 M115.6,260.9h0.7 M115.3,255.9h0.7 M117.0,247.8h0.7 M115.6,240.3h0.7 M116.2,236.1h0.7 M120.0,247.9h0.7 M115.2,253.4h0.7 M119.1,236.0h0.7 M110.9,248.3h0.7 M121.5,240.8h0.7 M113.2,259.1h0.7 M110.8,253.8h0.7 M119.1,241.2h0.7 M116.6,240.1h0.7 M114.2,245.8h0.7 M120.4,242.2h0.7 M120.8,245.8h0.7 M111.1,236.0h0.7 M113.2,243.6h0.7 M116.8,248.9h0.7 M112.7,251.8h0.7 M117.6,255.7h0.7 M120.2,245.3h0.7 M116.5,250.7h0.7 M121.4,242.5h0.7 M122.3,248.4h0.7 M114.3,247.0h0.7 M123.7,241.0h0.7 M122.9,259.7h0.7 M116.1,243.2h0.7 M116.4,238.2h0.7 M116.0,237.5h0.7 M127.6,247.5h0.7 M114.9,237.1h0.7 M121.5,251.7h0.7 M122.4,249.8h0.7 M115.1,241.2h0.7 M113.8,243.8h0.7 M120.3,242.6h0.7 M118.5,253.0h0.7 M115.2,254.8h0.7 M119.1,250.1h0.7 M117.1,248.4h0.7 M113.3,240.3h0.7 M118.3,254.2h0.7 M116.2,251.0h0.7" stroke="#bcbcbc" stroke-width="0.70" fill="none"/>
<path d="M116.3,254.9h0.7 M117.2,259.5h0.7 M114.4,255.6h0.7 M115.2,258.7h0.7 M111.3,259.1h0.7 M118.2,258.8h0.7 M115.0,259.1h0.7 M112.8,255.0h0.7 M120.4,252.7h0.7 M114.6,255.7h0.7 M119.8,252.2h0.7 M114.8,253.7h0.7 M123.8,256.9h0.7 M115.1,258.5h0.7 M120.7,249.7h0.7 M112.9,258.9h0.7 M114.7,252.2h0.7 M114.4,258.6h0.7 M118.5,265.8h0.7 M110.6,252.1h0.7 M112.4,261.9h0.7 M113.6,251.9h0.7 M120.4,255.0h0.7 M121.7,258.9h0.7 M114.6,261.6h0.7 M120.5,264.0h0.7 M115.5,256.7h0.7 M123.1,262.4h0.7 M118.2,254.6h0.7 M113.0,252.3h0.7 M113.2,257.2h0.7 M112.4,260.9h0.7 M106.9,254.8h0.7 M114.5,260.4h0.7 M119.3,253.1h0.7 M118.1,253.8h0.7 M118.4,253.1h0.7 M117.7,263.9h0.7 M125.4,262.3h0.7 M113.1,255.9h0.7 M113.5,255.6h0.7 M110.2,255.5h0.7 M121.7,266.9h0.7 M118.9,258.8h0.7 M119.9,251.7h0.7 M113.8,261.2h0.7 M116.3,256.5h0.7 M120.6,250.4h0.7 M121.9,254.8h0.7 M119.5,258.0h0.7" stroke="#a8a8a8" stroke-width="0.70" fill="none"/>
<path d="M120.8,268.2h0.7 M112.1,267.8h0.7 M119.7,269.1h0.7 M114.6,268.6h0.7 M120.8,265.0h0.7 M122.2,265.2h0.7 M121.8,265.8h0.7 M117.7,266.1h0.7 M122.3,265.8h0.7 M120.1,267.3h0.7 M112.9,268.0h0.7 M124.6,267.1h0.7 M119.2,264.1h0.7 M123.6,262.6h0.7 M117.9,269.4h0.7 M113.8,267.2h0.7 M113.6,267.4h0.7 M110.1,265.1h0.7 M114.0,266.2h0.7 M108.7,269.3h0.7 M118.8,264.9h0.7 M124.6,265.9h0.7 M118.5,266.6h0.7 M125.2,266.3h0.7 M111.9,266.2h0.7 M119.3,265.9h0.7 M114.0,264.2h0.7 M108.7,267.1h0.7 M113.0,264.6h0.7 M119.7,268.4h0.7 M112.0,265.2h0.7 M115.2,267.1h0.7 M112.0,264.2h0.7 M119.3,264.7h0.7 M112.1,266.0h0.7 M112.6,265.4h0.7 M123.6,265.6h0.7 M116.5,265.0h0.7 M109.6,266.4h0.7 M122.3,268.8h0.7 M131.5,265.4h0.7 M118.2,263.6h0.7 M126.5,268.2h0.7 M122.0,267.3h0.7 M116.5,260.4h0.7 M123.5,267.5h0.7 M118.5,264.2h0.7 M121.5,266.7h0.7 M118.2,263.6h0.7 M111.6,265.8h0.7 M116.7,263.7h0.7 M125.9,265.0h0.7 M116.9,266.6h0.7 M124.6,264.3h0.7 M116.3,263.2h0.7 M122.4,266.9h0.7 M118.0,266.6h0.7 M126.3,265.8h0.7 M114.3,264.7h0.7 M122.4,267.3h0.7" stroke="#9a9a9a" stroke-width="0.70" fill="none"/>
<path d="M112.60,263.00 C112.60,249.00 114.44,247.00 117.20,247.00 C119.96,247.00 121.80,249.00 121.80,263.00" fill="none" stroke="#a0a0a0" stroke-width="0.6"/>
<path d="M113.80,263.00 C113.80,252.50 115.16,250.50 117.20,250.50 C119.24,250.50 120.60,252.50 120.60,263.00" fill="none" stroke="#8a8a8a" stroke-width="0.6"/>
<path d="M115.00,263.00 C115.00,256.00 115.88,254.00 117.20,254.00 C118.52,254.00 119.40,256.00 119.40,263.00" fill="none" stroke="#7a7a7a" stroke-width="0.6"/>
<ellipse cx="117.20" cy="266.40" rx="6.20" ry="3.40" fill="none" stroke="#8e8e8e" stroke-width="0.65"/>
<ellipse cx="117.36" cy="266.40" rx="4.59" ry="2.52" fill="none" stroke="#6e6e6e" stroke-width="0.65"/>
<ellipse cx="117.50" cy="266.40" rx="3.10" ry="1.70" fill="none" stroke="#555555" stroke-width="0.65"/>
<ellipse cx="117.63" cy="266.40" rx="1.74" ry="0.95" fill="none" stroke="#444444" stroke-width="0.65"/>
<rect x="109.3" y="234.4" width="18.6" height="27.8" fill="none" stroke="#858585" stroke-width="0.6"/>
<rect x="108.5" y="262.2" width="20.3" height="7.9" fill="none" stroke="#858585" stroke-width="0.6"/>
<rect x="88" y="230" width="50.5" height="42" fill="none" stroke="#1e1e1e" stroke-width="1.05"/>
<path d="M86.0,233.0H87.5 M86.0,237.6H87.5 M86.0,242.2H87.5 M86.0,246.9H87.5 M86.0,251.5H87.5 M86.0,256.1H87.5 M86.0,260.8H87.5 M86.0,265.4H87.5 M86.0,270.0H87.5" stroke="#231f20" stroke-width="0.6" fill="none"/>
<path d="M90.0,272.5V274.0 M93.9,272.5V274.0 M97.8,272.5V274.0 M101.6,272.5V274.0 M105.5,272.5V274.0 M109.4,272.5V274.0 M113.2,272.5V274.0 M117.1,272.5V274.0 M121.0,272.5V274.0 M124.9,272.5V274.0 M128.8,272.5V274.0 M132.6,272.5V274.0 M136.5,272.5V274.0" stroke="#231f20" stroke-width="0.6" fill="none"/>
<text x="91.8" y="255.2" font-size="7.0" text-anchor="start" fill="#231f20" textLength="12.3" lengthAdjust="spacingAndGlyphs">42.1</text>
<text x="91.8" y="269.2" font-size="7.0" text-anchor="start" fill="#231f20" textLength="12.3" lengthAdjust="spacingAndGlyphs">58.9</text>
<g filter="url(#blB)">
<path d="M91,334.5 L111,334.5 L112,325.5 L107,316.5 L100,309.5 L95,313.5 L92,322.5 Z" fill="#dadada"/>
<path d="M92,334.5 L109,334.5 L110,329.5 L99,329.5 Z" fill="#c8c8c8"/>
<ellipse cx="111.00" cy="310.00" rx="11.50" ry="7.50" fill="#cdcdcd" stroke="none" stroke-width="0.6" transform="rotate(-8 111.00 310.00)"/>
<ellipse cx="109.00" cy="309.00" rx="9.00" ry="5.20" fill="#a9a9a9" stroke="none" stroke-width="0.6" transform="rotate(-8 109.00 309.00)"/>
<ellipse cx="107.50" cy="311.00" rx="2.50" ry="1.60" fill="#d6d6d6" stroke="none" stroke-width="0.6"/>
<ellipse cx="118.50" cy="326.00" rx="3.80" ry="6.50" fill="#c4c4c4" stroke="none" stroke-width="0.6" transform="rotate(10 118.50 326.00)"/>
<ellipse cx="118.50" cy="325.00" rx="2.00" ry="4.50" fill="#acacac" stroke="none" stroke-width="0.6" transform="rotate(10 118.50 325.00)"/>
</g>
<path d="M102.9,318.6h0.7 M103.3,326.1h0.7 M100.6,321.7h0.7 M102.8,324.9h0.7 M97.1,320.6h0.7 M89.7,326.1h0.7 M99.3,331.8h0.7 M89.3,323.5h0.7 M103.6,318.3h0.7 M102.9,324.2h0.7 M103.2,321.1h0.7 M100.6,318.1h0.7 M92.0,325.6h0.7 M102.4,332.0h0.7 M95.2,329.6h0.7 M100.1,319.5h0.7 M103.0,327.8h0.7 M96.8,331.9h0.7 M100.1,315.1h0.7 M93.2,328.9h0.7 M96.7,323.0h0.7 M100.6,321.8h0.7 M105.9,319.6h0.7 M93.3,308.7h0.7 M99.3,320.9h0.7 M107.4,318.3h0.7 M106.1,320.8h0.7 M110.3,316.7h0.7 M97.6,326.6h0.7 M107.1,327.6h0.7 M92.0,329.0h0.7 M99.9,312.7h0.7 M96.6,320.4h0.7 M95.2,330.3h0.7 M103.2,329.3h0.7 M94.7,312.5h0.7 M102.7,322.7h0.7 M105.2,326.5h0.7 M100.9,327.3h0.7 M100.5,323.7h0.7 M111.9,330.2h0.7 M93.7,313.0h0.7 M108.1,319.9h0.7 M99.2,319.6h0.7 M102.0,320.0h0.7 M92.9,311.8h0.7 M107.3,316.9h0.7 M99.9,329.2h0.7 M107.9,319.2h0.7 M104.3,320.2h0.7 M88.4,328.2h0.7 M100.7,317.2h0.7 M101.2,324.5h0.7 M101.0,316.7h0.7 M99.0,324.3h0.7 M104.5,321.2h0.7 M93.5,325.0h0.7 M107.4,318.9h0.7 M103.0,328.8h0.7 M106.4,330.6h0.7 M101.7,330.9h0.7 M108.1,317.5h0.7 M101.9,323.9h0.7 M95.9,320.5h0.7 M88.0,326.8h0.7 M105.1,329.4h0.7 M108.1,318.9h0.7 M99.0,331.8h0.7 M106.5,318.1h0.7 M93.6,322.9h0.7 M105.8,313.8h0.7 M101.6,315.2h0.7 M114.9,322.8h0.7 M102.9,316.2h0.7 M94.3,329.5h0.7 M93.1,327.5h0.7 M102.5,321.8h0.7 M105.8,325.7h0.7 M100.9,313.9h0.7 M100.8,324.0h0.7 M97.1,325.1h0.7 M95.7,310.5h0.7 M96.1,318.4h0.7 M107.3,326.8h0.7 M99.7,319.2h0.7 M103.3,331.5h0.7 M94.2,318.7h0.7 M106.9,325.4h0.7 M97.4,329.4h0.7 M103.3,316.8h0.7 M101.6,322.5h0.7 M109.9,326.1h0.7 M102.9,323.3h0.7 M103.1,314.2h0.7 M91.3,324.8h0.7 M102.4,320.1h0.7 M88.0,316.0h0.7 M103.2,323.3h0.7 M96.2,316.9h0.7 M101.6,321.6h0.7 M99.0,319.5h0.7 M100.9,324.2h0.7 M96.2,332.5h0.7 M96.5,323.5h0.7 M90.7,316.5h0.7 M105.5,326.9h0.7 M101.3,318.5h0.7 M102.1,316.5h0.7 M106.4,306.7h0.7 M97.7,317.7h0.7 M107.8,321.3h0.7 M107.4,331.2h0.7 M102.7,312.7h0.7 M95.5,319.5h0.7 M102.4,324.8h0.7" stroke="#bdbdbd" stroke-width="0.70" fill="none"/>
<path d="M101.7,312.6h0.7 M103.9,308.1h0.7 M112.8,309.0h0.7 M122.0,314.1h0.7 M101.8,305.0h0.7 M119.0,310.0h0.7 M115.4,309.6h0.7 M119.6,312.6h0.7 M116.5,306.8h0.7 M115.3,303.1h0.7 M109.3,307.0h0.7 M105.6,305.8h0.7 M96.9,314.5h0.7 M109.5,308.8h0.7 M114.5,313.8h0.7 M120.4,307.8h0.7 M112.3,305.9h0.7 M116.1,309.6h0.7 M117.4,312.8h0.7 M116.5,311.6h0.7 M111.6,304.5h0.7 M113.3,316.2h0.7 M108.0,306.8h0.7 M115.3,316.2h0.7 M103.7,299.8h0.7 M106.7,309.9h0.7 M110.0,308.5h0.7 M107.5,306.9h0.7 M105.2,310.9h0.7 M115.0,303.2h0.7 M122.1,311.3h0.7 M114.9,308.4h0.7 M112.8,305.0h0.7 M122.1,315.2h0.7 M109.3,304.2h0.7 M108.9,311.9h0.7 M108.2,306.3h0.7 M112.1,306.0h0.7 M120.3,313.3h0.7 M115.6,306.7h0.7 M112.4,313.9h0.7 M96.3,310.3h0.7 M120.8,316.7h0.7 M104.3,310.6h0.7 M118.3,314.3h0.7 M98.1,301.5h0.7 M112.1,311.5h0.7 M110.1,308.2h0.7 M119.9,315.4h0.7 M106.9,310.1h0.7 M102.9,316.4h0.7 M101.2,305.2h0.7 M104.8,305.3h0.7 M119.9,318.8h0.7 M112.8,308.2h0.7 M116.1,305.9h0.7 M120.4,309.4h0.7 M113.9,306.7h0.7 M109.6,303.0h0.7 M111.1,313.1h0.7" stroke="#a0a0a0" stroke-width="0.70" fill="none"/>
<ellipse cx="113.20" cy="309.00" rx="12.90" ry="9.40" fill="none" stroke="#7a7a7a" stroke-width="0.6" transform="rotate(-8 113.20 309.00)"/>
<ellipse cx="119.20" cy="325.90" rx="5.80" ry="8.30" fill="none" stroke="#7a7a7a" stroke-width="0.6" transform="rotate(10 119.20 325.90)"/>
<rect x="87" y="294.5" width="51" height="41.5" fill="none" stroke="#1e1e1e" stroke-width="1.05"/>
<path d="M85.0,297.5H86.5 M85.0,302.1H86.5 M85.0,306.6H86.5 M85.0,311.2H86.5 M85.0,315.8H86.5 M85.0,320.3H86.5 M85.0,324.9H86.5 M85.0,329.4H86.5 M85.0,334.0H86.5" stroke="#231f20" stroke-width="0.6" fill="none"/>
<path d="M89.0,336.5V338.0 M92.9,336.5V338.0 M96.8,336.5V338.0 M100.8,336.5V338.0 M104.7,336.5V338.0 M108.6,336.5V338.0 M112.5,336.5V338.0 M116.4,336.5V338.0 M120.3,336.5V338.0 M124.2,336.5V338.0 M128.2,336.5V338.0 M132.1,336.5V338.0 M136.0,336.5V338.0" stroke="#231f20" stroke-width="0.6" fill="none"/>
<text x="135.4" y="302.3" font-size="7.0" text-anchor="end" fill="#231f20" textLength="12.3" lengthAdjust="spacingAndGlyphs">59.8</text>
<text x="136.0" y="334.2" font-size="7.0" text-anchor="end" fill="#231f20" textLength="12.0" lengthAdjust="spacingAndGlyphs">6.69</text>
<ellipse cx="171.90" cy="255.00" rx="6.00" ry="11.00" fill="#f0f0f0" stroke="none" stroke-width="0.6"/>
<ellipse cx="171.90" cy="266.00" rx="8.00" ry="4.50" fill="#e6e6e6" stroke="none" stroke-width="0.6"/>
<path d="M169.8,244.5h0.7 M171.5,246.6h0.7 M173.2,246.7h0.7 M177.3,249.1h0.7 M174.0,239.1h0.7 M172.2,257.2h0.7 M179.2,248.0h0.7 M174.2,245.7h0.7 M170.1,258.1h0.7 M176.2,251.9h0.7 M169.5,258.7h0.7 M176.6,236.7h0.7 M176.8,248.3h0.7 M165.3,254.9h0.7 M168.4,253.5h0.7 M165.9,235.2h0.7 M180.5,254.3h0.7 M171.3,248.8h0.7 M168.7,249.8h0.7 M177.2,243.7h0.7 M180.0,255.0h0.7 M171.8,244.3h0.7 M178.2,243.0h0.7 M173.6,244.5h0.7 M167.7,255.3h0.7 M170.0,250.7h0.7 M170.3,245.9h0.7 M171.1,241.8h0.7 M175.2,246.3h0.7 M175.8,253.0h0.7 M177.4,243.1h0.7 M174.9,245.6h0.7 M171.8,241.3h0.7 M169.8,252.0h0.7 M170.4,241.2h0.7 M175.7,249.9h0.7 M166.4,247.8h0.7 M177.0,255.8h0.7 M169.5,238.1h0.7 M170.3,257.8h0.7 M180.6,253.8h0.7 M170.1,247.9h0.7 M174.9,243.1h0.7 M174.0,246.0h0.7 M170.8,259.2h0.7 M165.6,245.5h0.7 M169.6,245.9h0.7 M169.1,254.1h0.7 M169.6,241.8h0.7 M180.3,253.2h0.7 M169.1,240.5h0.7 M168.3,256.6h0.7 M169.1,256.5h0.7 M168.3,249.3h0.7 M177.3,257.4h0.7 M173.5,252.5h0.7 M172.1,244.5h0.7 M168.9,254.0h0.7 M171.0,240.6h0.7 M180.4,244.4h0.7 M169.6,235.9h0.7 M173.8,251.8h0.7 M175.7,248.8h0.7 M174.3,251.4h0.7 M174.2,256.4h0.7 M175.7,248.5h0.7 M169.5,253.4h0.7" stroke="#bcbcbc" stroke-width="0.70" fill="none"/>
<path d="M169.6,257.4h0.7 M169.0,266.5h0.7 M168.0,260.7h0.7 M174.6,261.5h0.7 M171.7,258.3h0.7 M171.1,247.1h0.7 M168.8,263.5h0.7 M168.6,258.5h0.7 M182.5,254.1h0.7 M169.9,257.0h0.7 M163.9,254.5h0.7 M166.2,260.2h0.7 M170.9,249.5h0.7 M175.1,261.9h0.7 M170.5,261.8h0.7 M174.2,254.3h0.7 M173.0,258.7h0.7 M168.6,253.9h0.7 M173.5,267.2h0.7 M171.8,258.8h0.7 M167.7,257.0h0.7 M171.1,256.5h0.7 M169.3,257.8h0.7 M169.6,263.0h0.7 M180.1,255.0h0.7 M170.4,259.7h0.7 M174.2,254.9h0.7 M169.6,260.3h0.7 M165.3,266.9h0.7 M173.1,256.8h0.7 M171.3,253.7h0.7 M179.1,257.7h0.7 M170.2,265.0h0.7 M176.0,257.2h0.7 M173.6,256.7h0.7 M170.5,257.1h0.7 M173.1,262.4h0.7 M179.8,249.3h0.7 M181.2,262.1h0.7 M172.0,256.3h0.7 M164.4,262.8h0.7 M167.5,260.6h0.7 M170.2,251.5h0.7 M173.6,259.9h0.7 M168.2,261.4h0.7 M179.1,260.0h0.7 M173.6,255.1h0.7 M167.7,256.4h0.7 M172.2,258.0h0.7 M171.1,268.0h0.7" stroke="#a8a8a8" stroke-width="0.70" fill="none"/>
<path d="M174.8,263.9h0.7 M165.9,262.2h0.7 M166.9,267.3h0.7 M170.5,264.5h0.7 M174.8,267.2h0.7 M173.8,266.0h0.7 M171.7,263.1h0.7 M162.7,264.2h0.7 M168.0,264.2h0.7 M171.0,265.0h0.7 M165.4,265.8h0.7 M173.6,264.9h0.7 M176.0,266.7h0.7 M173.8,265.2h0.7 M174.0,267.5h0.7 M162.3,268.4h0.7 M169.3,267.4h0.7 M160.4,265.0h0.7 M163.4,265.7h0.7 M172.8,266.9h0.7 M172.0,263.2h0.7 M178.4,263.0h0.7 M170.2,264.3h0.7 M168.9,262.9h0.7 M177.3,267.6h0.7 M172.3,265.7h0.7 M167.1,265.8h0.7 M167.4,266.2h0.7 M173.9,265.5h0.7 M173.9,267.3h0.7 M175.9,270.3h0.7 M164.8,263.3h0.7 M165.8,265.6h0.7 M163.9,264.8h0.7 M176.1,267.6h0.7 M180.1,267.9h0.7 M177.0,264.8h0.7 M170.1,267.9h0.7 M176.2,261.8h0.7 M165.0,263.8h0.7 M167.6,268.9h0.7 M180.9,266.7h0.7 M173.6,270.3h0.7 M174.1,267.2h0.7 M173.8,266.8h0.7 M178.6,267.6h0.7 M172.3,265.1h0.7 M173.2,262.3h0.7 M174.2,266.3h0.7 M173.5,263.5h0.7 M174.2,266.4h0.7 M171.9,266.8h0.7 M167.8,262.8h0.7 M174.2,261.2h0.7 M174.9,270.5h0.7 M173.8,267.9h0.7 M180.0,268.3h0.7 M183.3,264.1h0.7 M170.2,267.1h0.7 M163.8,266.0h0.7" stroke="#9a9a9a" stroke-width="0.70" fill="none"/>
<path d="M167.30,263.00 C167.30,249.00 169.14,247.00 171.90,247.00 C174.66,247.00 176.50,249.00 176.50,263.00" fill="none" stroke="#a0a0a0" stroke-width="0.6"/>
<path d="M168.50,263.00 C168.50,252.50 169.86,250.50 171.90,250.50 C173.94,250.50 175.30,252.50 175.30,263.00" fill="none" stroke="#8a8a8a" stroke-width="0.6"/>
<path d="M169.70,263.00 C169.70,256.00 170.58,254.00 171.90,254.00 C173.22,254.00 174.10,256.00 174.10,263.00" fill="none" stroke="#7a7a7a" stroke-width="0.6"/>
<ellipse cx="171.90" cy="266.40" rx="6.20" ry="3.40" fill="none" stroke="#8e8e8e" stroke-width="0.65"/>
<ellipse cx="172.06" cy="266.40" rx="4.59" ry="2.52" fill="none" stroke="#6e6e6e" stroke-width="0.65"/>
<ellipse cx="172.20" cy="266.40" rx="3.10" ry="1.70" fill="none" stroke="#555555" stroke-width="0.65"/>
<ellipse cx="172.33" cy="266.40" rx="1.74" ry="0.95" fill="none" stroke="#444444" stroke-width="0.65"/>
<rect x="164.0" y="234.4" width="18.6" height="27.8" fill="none" stroke="#858585" stroke-width="0.6"/>
<rect x="163.2" y="262.2" width="20.3" height="7.9" fill="none" stroke="#858585" stroke-width="0.6"/>
<rect x="142.7" y="230" width="50.5" height="42" fill="none" stroke="#1e1e1e" stroke-width="1.05"/>
<path d="M140.7,233.0H142.2 M140.7,237.6H142.2 M140.7,242.2H142.2 M140.7,246.9H142.2 M140.7,251.5H142.2 M140.7,256.1H142.2 M140.7,260.8H142.2 M140.7,265.4H142.2 M140.7,270.0H142.2" stroke="#231f20" stroke-width="0.6" fill="none"/>
<path d="M144.7,272.5V274.0 M148.6,272.5V274.0 M152.4,272.5V274.0 M156.3,272.5V274.0 M160.2,272.5V274.0 M164.1,272.5V274.0 M167.9,272.5V274.0 M171.8,272.5V274.0 M175.7,272.5V274.0 M179.6,272.5V274.0 M183.4,272.5V274.0 M187.3,272.5V274.0 M191.2,272.5V274.0" stroke="#231f20" stroke-width="0.6" fill="none"/>
<text x="146.5" y="255.2" font-size="7.0" text-anchor="start" fill="#231f20" textLength="12.3" lengthAdjust="spacingAndGlyphs">26.8</text>
<text x="146.5" y="269.2" font-size="7.0" text-anchor="start" fill="#231f20" textLength="12.3" lengthAdjust="spacingAndGlyphs">72.8</text>
<g filter="url(#blB)">
<path d="M145.8,334.5 L165.8,334.5 L166.8,325.5 L161.8,316.5 L154.8,309.5 L149.8,313.5 L146.8,322.5 Z" fill="#dadada"/>
<path d="M146.8,334.5 L163.8,334.5 L164.8,329.5 L153.8,329.5 Z" fill="#c8c8c8"/>
<ellipse cx="165.80" cy="310.00" rx="11.50" ry="7.50" fill="#cdcdcd" stroke="none" stroke-width="0.6" transform="rotate(-8 165.80 310.00)"/>
<ellipse cx="163.80" cy="309.00" rx="9.00" ry="5.20" fill="#a9a9a9" stroke="none" stroke-width="0.6" transform="rotate(-8 163.80 309.00)"/>
<ellipse cx="162.30" cy="311.00" rx="2.50" ry="1.60" fill="#d6d6d6" stroke="none" stroke-width="0.6"/>
<ellipse cx="173.30" cy="326.00" rx="3.80" ry="6.50" fill="#c4c4c4" stroke="none" stroke-width="0.6" transform="rotate(10 173.30 326.00)"/>
<ellipse cx="173.30" cy="325.00" rx="2.00" ry="4.50" fill="#acacac" stroke="none" stroke-width="0.6" transform="rotate(10 173.30 325.00)"/>
</g>
<path d="M155.2,330.3h0.7 M161.2,327.1h0.7 M159.0,322.9h0.7 M156.6,327.1h0.7 M160.9,318.2h0.7 M157.5,322.0h0.7 M156.4,329.4h0.7 M153.3,317.0h0.7 M149.3,319.1h0.7 M158.5,321.5h0.7 M151.2,327.1h0.7 M155.8,326.7h0.7 M168.0,333.8h0.7 M156.9,324.5h0.7 M161.5,330.2h0.7 M152.7,315.1h0.7 M160.0,323.9h0.7 M158.5,325.8h0.7 M150.6,319.4h0.7 M161.2,321.5h0.7 M150.1,320.8h0.7 M157.2,319.4h0.7 M165.2,327.4h0.7 M145.9,323.9h0.7 M152.0,322.6h0.7 M146.7,325.8h0.7 M157.7,324.2h0.7 M148.3,327.2h0.7 M165.8,330.7h0.7 M157.0,322.2h0.7 M160.2,321.7h0.7 M163.0,330.5h0.7 M154.0,317.7h0.7 M153.0,314.8h0.7 M153.3,333.0h0.7 M151.0,317.7h0.7 M146.7,323.7h0.7 M149.1,326.4h0.7 M152.9,332.6h0.7 M158.3,325.4h0.7 M146.4,322.6h0.7 M156.6,324.6h0.7 M156.9,323.2h0.7 M147.8,308.1h0.7 M148.1,328.6h0.7 M159.6,329.4h0.7 M156.8,323.9h0.7 M154.9,312.3h0.7 M155.9,318.6h0.7 M151.1,316.6h0.7 M154.4,328.0h0.7 M159.6,316.7h0.7 M156.3,322.1h0.7 M142.7,328.1h0.7 M150.9,326.0h0.7 M150.1,327.2h0.7 M162.3,324.1h0.7 M158.1,318.6h0.7 M152.9,315.8h0.7 M161.1,329.6h0.7 M151.9,322.7h0.7 M150.8,314.6h0.7 M151.7,315.3h0.7 M143.2,324.3h0.7 M148.8,322.2h0.7 M150.6,318.7h0.7 M160.0,321.8h0.7 M156.6,322.8h0.7 M157.7,317.8h0.7 M154.7,321.1h0.7 M159.1,319.0h0.7 M159.3,325.7h0.7 M151.3,326.9h0.7 M152.4,318.7h0.7 M150.0,316.1h0.7 M156.7,321.3h0.7 M153.0,327.6h0.7 M160.1,323.2h0.7 M143.2,325.4h0.7 M143.0,317.1h0.7 M153.8,331.7h0.7 M150.5,326.6h0.7 M145.0,317.7h0.7 M162.1,327.8h0.7 M151.2,328.6h0.7 M155.3,317.1h0.7 M150.5,318.7h0.7 M148.3,325.3h0.7 M160.9,313.9h0.7 M158.8,316.2h0.7 M154.4,324.3h0.7 M160.9,322.4h0.7 M156.3,332.3h0.7 M164.5,328.8h0.7 M159.3,325.5h0.7 M164.6,326.9h0.7 M150.7,323.1h0.7 M157.3,314.1h0.7 M151.3,332.8h0.7 M148.0,325.6h0.7 M156.7,328.3h0.7 M150.1,317.8h0.7 M155.1,318.7h0.7 M164.1,323.6h0.7 M159.9,316.5h0.7 M154.5,315.8h0.7 M161.6,319.7h0.7 M147.1,315.7h0.7 M147.7,325.6h0.7 M149.7,317.3h0.7 M152.6,325.1h0.7 M160.1,329.9h0.7 M152.8,328.6h0.7 M150.1,332.8h0.7 M158.5,324.1h0.7" stroke="#bdbdbd" stroke-width="0.70" fill="none"/>
<path d="M154.7,313.4h0.7 M162.5,307.1h0.7 M160.1,307.1h0.7 M169.3,311.2h0.7 M166.2,317.0h0.7 M157.1,310.6h0.7 M156.5,311.8h0.7 M169.8,310.0h0.7 M169.3,311.8h0.7 M169.2,304.0h0.7 M171.9,316.5h0.7 M173.7,308.5h0.7 M179.6,310.5h0.7 M174.0,312.2h0.7 M175.9,303.1h0.7 M160.3,311.6h0.7 M164.1,308.0h0.7 M176.3,307.3h0.7 M168.0,311.0h0.7 M164.2,300.2h0.7 M152.8,308.5h0.7 M181.2,306.6h0.7 M165.6,317.8h0.7 M166.1,311.5h0.7 M168.0,306.1h0.7 M159.8,307.5h0.7 M165.7,306.6h0.7 M162.3,310.5h0.7 M174.2,318.9h0.7 M160.8,310.6h0.7 M158.9,307.0h0.7 M153.8,316.4h0.7 M162.8,313.3h0.7 M158.4,300.1h0.7 M177.8,303.0h0.7 M158.6,314.3h0.7 M166.4,308.8h0.7 M175.1,308.4h0.7 M171.4,304.6h0.7 M175.8,307.3h0.7 M167.1,306.6h0.7 M160.1,308.4h0.7 M172.2,308.5h0.7 M167.2,307.6h0.7 M175.1,303.6h0.7 M154.1,315.2h0.7 M150.7,316.4h0.7 M165.7,311.2h0.7 M168.1,306.9h0.7 M169.4,317.6h0.7 M174.3,306.7h0.7 M174.5,304.8h0.7 M164.3,310.1h0.7 M174.5,304.0h0.7 M173.2,307.9h0.7 M154.3,313.5h0.7 M162.9,301.5h0.7 M171.4,302.8h0.7 M163.2,305.0h0.7 M160.1,313.9h0.7" stroke="#a0a0a0" stroke-width="0.70" fill="none"/>
<ellipse cx="168.00" cy="309.00" rx="12.90" ry="9.40" fill="none" stroke="#7a7a7a" stroke-width="0.6" transform="rotate(-8 168.00 309.00)"/>
<ellipse cx="174.00" cy="325.90" rx="5.80" ry="8.30" fill="none" stroke="#7a7a7a" stroke-width="0.6" transform="rotate(10 174.00 325.90)"/>
<rect x="141.8" y="294.5" width="51" height="41.5" fill="none" stroke="#1e1e1e" stroke-width="1.05"/>
<path d="M139.8,297.5H141.3 M139.8,302.1H141.3 M139.8,306.6H141.3 M139.8,311.2H141.3 M139.8,315.8H141.3 M139.8,320.3H141.3 M139.8,324.9H141.3 M139.8,329.4H141.3 M139.8,334.0H141.3" stroke="#231f20" stroke-width="0.6" fill="none"/>
<path d="M143.8,336.5V338.0 M147.7,336.5V338.0 M151.6,336.5V338.0 M155.6,336.5V338.0 M159.5,336.5V338.0 M163.4,336.5V338.0 M167.3,336.5V338.0 M171.2,336.5V338.0 M175.1,336.5V338.0 M179.1,336.5V338.0 M183.0,336.5V338.0 M186.9,336.5V338.0 M190.8,336.5V338.0" stroke="#231f20" stroke-width="0.6" fill="none"/>
<text x="190.20000000000002" y="302.3" font-size="7.0" text-anchor="end" fill="#231f20" textLength="12.3" lengthAdjust="spacingAndGlyphs">63.9</text>
<text x="190.8" y="334.2" font-size="7.0" text-anchor="end" fill="#231f20" textLength="12.0" lengthAdjust="spacingAndGlyphs">16.8</text>
<text x="57.2" y="227.6" font-size="8.0" text-anchor="middle" fill="#231f20" textLength="12.0" lengthAdjust="spacingAndGlyphs">WT</text>
<text x="94.2" y="227.3" font-size="8.0" text-anchor="start" fill="#231f20" textLength="36.8" lengthAdjust="spacingAndGlyphs"><tspan font-style="italic">Dyrk1a</tspan><tspan font-size="6.08" dy="-2.88" font-style="normal">BKO</tspan></text>
<text x="147" y="216.5" font-size="8.0" text-anchor="start" fill="#231f20" textLength="42.5" lengthAdjust="spacingAndGlyphs"><tspan font-style="italic">Map3k14</tspan><tspan font-size="6.08" dy="-2.88" font-style="normal">Btg</tspan></text>
<text x="149.5" y="227.3" font-size="8.0" text-anchor="start" fill="#231f20" textLength="36.8" lengthAdjust="spacingAndGlyphs"><tspan font-style="italic">Dyrk1a</tspan><tspan font-size="6.08" dy="-2.88" font-style="normal">BKO</tspan></text>
<text x="30.2" y="235.5" font-size="6.9" text-anchor="end" fill="#231f20">10<tspan font-size="4.69" dy="-2.62">5</tspan></text>
<text x="30.2" y="245.5" font-size="6.9" text-anchor="end" fill="#231f20">10<tspan font-size="4.69" dy="-2.62">4</tspan></text>
<text x="30.2" y="255.5" font-size="6.9" text-anchor="end" fill="#231f20">10<tspan font-size="4.69" dy="-2.62">3</tspan></text>
<text x="29.0" y="268.6" font-size="7.0" text-anchor="end" fill="#231f20">0</text>
<text x="39" y="281.2" font-size="7.0" text-anchor="middle" fill="#231f20">0</text>
<text x="56.8" y="281.2" font-size="6.6" text-anchor="middle" fill="#231f20">10<tspan font-size="4.49" dy="-2.51">3</tspan></text>
<text x="67.1" y="281.2" font-size="6.6" text-anchor="middle" fill="#231f20">10<tspan font-size="4.49" dy="-2.51">4</tspan></text>
<text x="78.2" y="281.2" font-size="6.6" text-anchor="middle" fill="#231f20">10<tspan font-size="4.49" dy="-2.51">5</tspan></text>
<line x1="15.5" y1="253" x2="15.5" y2="235" stroke="#231f20" stroke-width="1.0"/>
<path d="M14.0,236 L15.5,231 L17.0,236 Z" fill="#231f20"/>
<text x="17.5" y="266" font-size="6.6" text-anchor="middle" fill="#231f20" transform="rotate(-90 17.5 266)">CD93</text>
<text x="42.5" y="291" font-size="6.6" text-anchor="middle" fill="#231f20">B220</text>
<line x1="52" y1="290.5" x2="182.8" y2="290.5" stroke="#231f20" stroke-width="1.0"/>
<path d="M181.8,289.0 L186.8,290.5 L181.8,292.0 Z" fill="#231f20"/>
<text x="28.8" y="300.8" font-size="6.9" text-anchor="end" fill="#231f20">10<tspan font-size="4.69" dy="-2.62">5</tspan></text>
<text x="28.8" y="311" font-size="6.9" text-anchor="end" fill="#231f20">10<tspan font-size="4.69" dy="-2.62">4</tspan></text>
<text x="28.8" y="321" font-size="6.9" text-anchor="end" fill="#231f20">10<tspan font-size="4.69" dy="-2.62">3</tspan></text>
<text x="27.6" y="334" font-size="7.0" text-anchor="end" fill="#231f20">0</text>
<text x="37.5" y="346.2" font-size="7.0" text-anchor="middle" fill="#231f20">0</text>
<text x="54" y="346.2" font-size="6.6" text-anchor="middle" fill="#231f20">10<tspan font-size="4.49" dy="-2.51">3</tspan></text>
<text x="65.3" y="346.2" font-size="6.6" text-anchor="middle" fill="#231f20">10<tspan font-size="4.49" dy="-2.51">4</tspan></text>
<text x="76.8" y="346.2" font-size="6.6" text-anchor="middle" fill="#231f20">10<tspan font-size="4.49" dy="-2.51">5</tspan></text>
<line x1="13.5" y1="318.5" x2="13.5" y2="299.5" stroke="#231f20" stroke-width="1.0"/>
<path d="M12.0,300.5 L13.5,295.5 L15.0,300.5 Z" fill="#231f20"/>
<text x="16" y="330" font-size="6.6" text-anchor="middle" fill="#231f20" transform="rotate(-90 16 330)">CD23</text>
<text x="43.5" y="353" font-size="6.6" text-anchor="middle" fill="#231f20" textLength="24.5" lengthAdjust="spacingAndGlyphs">CD21/35</text>
<line x1="58.5" y1="350.5" x2="183" y2="350.5" stroke="#231f20" stroke-width="1.0"/>
<path d="M182,349.0 L187,350.5 L182,352.0 Z" fill="#231f20"/>
<line x1="225.5" y1="240.79999999999998" x2="225.5" y2="282.0" stroke="#231f20" stroke-width="1.1"/>
<line x1="225.0" y1="281.5" x2="279.8" y2="281.5" stroke="#231f20" stroke-width="1.1"/>
<line x1="222.7" y1="281.5" x2="225.5" y2="281.5" stroke="#231f20" stroke-width="0.95"/>
<text x="221.1" y="284.05" font-size="7.0" text-anchor="end" fill="#231f20">0</text>
<line x1="222.7" y1="271.5" x2="225.5" y2="271.5" stroke="#231f20" stroke-width="0.95"/>
<text x="221.1" y="273.95" font-size="7.0" text-anchor="end" fill="#231f20">20</text>
<line x1="222.7" y1="261.5" x2="225.5" y2="261.5" stroke="#231f20" stroke-width="0.95"/>
<text x="221.1" y="263.84999999999997" font-size="7.0" text-anchor="end" fill="#231f20">40</text>
<line x1="222.7" y1="251.5" x2="225.5" y2="251.5" stroke="#231f20" stroke-width="0.95"/>
<text x="221.1" y="253.75" font-size="7.0" text-anchor="end" fill="#231f20">60</text>
<line x1="222.7" y1="241.5" x2="225.5" y2="241.5" stroke="#231f20" stroke-width="0.95"/>
<text x="221.1" y="243.64999999999998" font-size="7.0" text-anchor="end" fill="#231f20">80</text>
<text x="241.3" y="289.7" font-size="6.8" text-anchor="middle" fill="#231f20" textLength="20.7" lengthAdjust="spacingAndGlyphs">Mature</text>
<text x="267" y="289.7" font-size="6.8" text-anchor="middle" fill="#231f20">Imm</text>
<circle cx="233.10" cy="251.30" r="1.75" fill="#c8102e"/>
<circle cx="229.30" cy="250.29" r="1.75" fill="#c8102e"/>
<circle cx="235.70" cy="249.78" r="1.75" fill="#c8102e"/>
<circle cx="231.10" cy="249.28" r="1.75" fill="#c8102e"/>
<circle cx="234.10" cy="248.77" r="1.75" fill="#c8102e"/>
<line x1="228.5" y1="249.886" x2="236.5" y2="249.886" stroke="#111" stroke-width="1.0"/>
<line x1="232.5" y1="248.91461310488558" x2="232.5" y2="250.8573868951144" stroke="#111" stroke-width="0.6"/>
<line x1="230.9" y1="248.91461310488558" x2="234.1" y2="248.91461310488558" stroke="#111" stroke-width="0.6"/>
<line x1="230.9" y1="250.8573868951144" x2="234.1" y2="250.8573868951144" stroke="#111" stroke-width="0.6"/>
<rect x="238.45" y="253.59" width="3.50" height="3.50" fill="#1a4a8a"/>
<rect x="235.25" y="253.09" width="3.50" height="3.50" fill="#1a4a8a"/>
<rect x="241.45" y="252.07" width="3.50" height="3.50" fill="#1a4a8a"/>
<rect x="236.85" y="251.06" width="3.50" height="3.50" fill="#1a4a8a"/>
<line x1="236.0" y1="254.20375" x2="244.0" y2="254.20375" stroke="#111" stroke-width="1.0"/>
<line x1="240" y1="253.0839853297828" x2="240" y2="255.3235146702172" stroke="#111" stroke-width="0.6"/>
<line x1="238.4" y1="253.0839853297828" x2="241.6" y2="253.0839853297828" stroke="#111" stroke-width="0.6"/>
<line x1="238.4" y1="255.3235146702172" x2="241.6" y2="255.3235146702172" stroke="#111" stroke-width="0.6"/>
<path d="M245.77,244.85 L249.62,244.85 L247.70,248.18 Z" fill="#2db34a"/>
<path d="M242.57,243.84 L246.43,243.84 L244.50,247.16 Z" fill="#2db34a"/>
<path d="M248.77,243.84 L252.62,243.84 L250.70,247.16 Z" fill="#2db34a"/>
<path d="M244.17,243.33 L248.03,243.33 L246.10,246.66 Z" fill="#2db34a"/>
<line x1="243.5" y1="245.36624999999998" x2="251.5" y2="245.36624999999998" stroke="#111" stroke-width="1.0"/>
<line x1="247.5" y1="244.73080560169802" x2="247.5" y2="246.00169439830194" stroke="#111" stroke-width="0.6"/>
<line x1="245.9" y1="244.73080560169802" x2="249.1" y2="244.73080560169802" stroke="#111" stroke-width="0.6"/>
<line x1="245.9" y1="246.00169439830194" x2="249.1" y2="246.00169439830194" stroke="#111" stroke-width="0.6"/>
<circle cx="258.70" cy="265.44" r="1.75" fill="#c8102e"/>
<circle cx="255.50" cy="264.43" r="1.75" fill="#c8102e"/>
<circle cx="261.70" cy="263.93" r="1.75" fill="#c8102e"/>
<circle cx="257.10" cy="262.92" r="1.75" fill="#c8102e"/>
<line x1="254.5" y1="264.1775" x2="262.5" y2="264.1775" stroke="#111" stroke-width="1.0"/>
<line x1="258.5" y1="263.12625867026964" x2="258.5" y2="265.2287413297304" stroke="#111" stroke-width="0.6"/>
<line x1="256.9" y1="263.12625867026964" x2="260.1" y2="263.12625867026964" stroke="#111" stroke-width="0.6"/>
<line x1="256.9" y1="265.2287413297304" x2="260.1" y2="265.2287413297304" stroke="#111" stroke-width="0.6"/>
<rect x="263.95" y="258.13" width="3.50" height="3.50" fill="#1a4a8a"/>
<rect x="260.75" y="257.63" width="3.50" height="3.50" fill="#1a4a8a"/>
<rect x="266.95" y="256.62" width="3.50" height="3.50" fill="#1a4a8a"/>
<rect x="262.35" y="257.12" width="3.50" height="3.50" fill="#1a4a8a"/>
<line x1="261.5" y1="259.1275" x2="269.5" y2="259.1275" stroke="#111" stroke-width="1.0"/>
<line x1="265.5" y1="258.4755478033884" x2="265.5" y2="259.7794521966116" stroke="#111" stroke-width="0.6"/>
<line x1="263.9" y1="258.4755478033884" x2="267.1" y2="258.4755478033884" stroke="#111" stroke-width="0.6"/>
<line x1="263.9" y1="259.7794521966116" x2="267.1" y2="259.7794521966116" stroke="#111" stroke-width="0.6"/>
<path d="M270.27,267.07 L274.12,267.07 L272.20,270.40 Z" fill="#2db34a"/>
<path d="M267.07,266.57 L270.93,266.57 L269.00,269.89 Z" fill="#2db34a"/>
<path d="M273.27,266.06 L277.12,266.06 L275.20,269.39 Z" fill="#2db34a"/>
<path d="M268.68,266.57 L272.53,266.57 L270.60,269.89 Z" fill="#2db34a"/>
<line x1="268.0" y1="267.96500000000003" x2="276.0" y2="267.96500000000003" stroke="#111" stroke-width="1.0"/>
<line x1="272" y1="267.5526692266315" x2="272" y2="268.3773307733685" stroke="#111" stroke-width="0.6"/>
<line x1="270.4" y1="267.5526692266315" x2="273.6" y2="267.5526692266315" stroke="#111" stroke-width="0.6"/>
<line x1="270.4" y1="268.3773307733685" x2="273.6" y2="268.3773307733685" stroke="#111" stroke-width="0.6"/>
<path d="M240,241.8 L240,239 L247.5,239 L247.5,241.8" fill="none" stroke="#231f20" stroke-width="0.85"/>
<text x="243.75" y="239.9" font-size="6.8" text-anchor="middle" fill="#231f20" letter-spacing="-0.2">***</text>
<path d="M265.5,255.8 L265.5,253 L272,253 L272,255.8" fill="none" stroke="#231f20" stroke-width="0.85"/>
<text x="268.75" y="253.9" font-size="6.8" text-anchor="middle" fill="#231f20" letter-spacing="-0.2">***</text>
<text x="207.2" y="261.5" font-size="7.2" text-anchor="middle" fill="#231f20" transform="rotate(-90 207.2 261.5)" textLength="39" lengthAdjust="spacingAndGlyphs"><tspan>% B220</tspan><tspan font-size="5.47" dy="-2.59" font-style="normal">+</tspan><tspan dy="2.59"> cells</tspan></text>
<line x1="311.5" y1="237.7" x2="311.5" y2="281.0" stroke="#231f20" stroke-width="1.1"/>
<line x1="311.0" y1="280.5" x2="368.7" y2="280.5" stroke="#231f20" stroke-width="1.1"/>
<line x1="308.7" y1="280.5" x2="311.5" y2="280.5" stroke="#231f20" stroke-width="0.95"/>
<text x="307.09999999999997" y="283.05" font-size="7.0" text-anchor="end" fill="#231f20">0</text>
<line x1="308.7" y1="272.5" x2="311.5" y2="272.5" stroke="#231f20" stroke-width="0.95"/>
<text x="307.09999999999997" y="274.55" font-size="7.0" text-anchor="end" fill="#231f20">20</text>
<line x1="308.7" y1="263.5" x2="311.5" y2="263.5" stroke="#231f20" stroke-width="0.95"/>
<text x="307.09999999999997" y="266.05" font-size="7.0" text-anchor="end" fill="#231f20">40</text>
<line x1="308.7" y1="255.5" x2="311.5" y2="255.5" stroke="#231f20" stroke-width="0.95"/>
<text x="307.09999999999997" y="257.55" font-size="7.0" text-anchor="end" fill="#231f20">60</text>
<line x1="308.7" y1="246.5" x2="311.5" y2="246.5" stroke="#231f20" stroke-width="0.95"/>
<text x="307.09999999999997" y="249.04999999999998" font-size="7.0" text-anchor="end" fill="#231f20">80</text>
<line x1="308.7" y1="238.5" x2="311.5" y2="238.5" stroke="#231f20" stroke-width="0.95"/>
<text x="307.09999999999997" y="240.54999999999998" font-size="7.0" text-anchor="end" fill="#231f20">100</text>
<text x="325.4" y="287.5" font-size="6.8" text-anchor="middle" fill="#231f20">FO</text>
<text x="352.3" y="287.5" font-size="6.8" text-anchor="middle" fill="#231f20">MZ</text>
<circle cx="317.80" cy="249.57" r="1.75" fill="#c8102e"/>
<circle cx="314.60" cy="249.15" r="1.75" fill="#c8102e"/>
<circle cx="320.80" cy="248.72" r="1.75" fill="#c8102e"/>
<circle cx="316.20" cy="249.15" r="1.75" fill="#c8102e"/>
<line x1="313.6" y1="249.15" x2="321.6" y2="249.15" stroke="#111" stroke-width="1.0"/>
<line x1="317.6" y1="248.8029889531057" x2="317.6" y2="249.49701104689427" stroke="#111" stroke-width="0.6"/>
<line x1="316.0" y1="248.8029889531057" x2="319.20000000000005" y2="248.8029889531057" stroke="#111" stroke-width="0.6"/>
<line x1="316.0" y1="249.49701104689427" x2="319.20000000000005" y2="249.49701104689427" stroke="#111" stroke-width="0.6"/>
<rect x="323.75" y="254.20" width="3.50" height="3.50" fill="#1a4a8a"/>
<rect x="320.55" y="253.35" width="3.50" height="3.50" fill="#1a4a8a"/>
<rect x="326.75" y="252.93" width="3.50" height="3.50" fill="#1a4a8a"/>
<rect x="322.15" y="252.50" width="3.50" height="3.50" fill="#1a4a8a"/>
<line x1="321.3" y1="254.99375" x2="329.3" y2="254.99375" stroke="#111" stroke-width="1.0"/>
<line x1="325.3" y1="254.26792432074453" x2="325.3" y2="255.71957567925548" stroke="#111" stroke-width="0.6"/>
<line x1="323.7" y1="254.26792432074453" x2="326.90000000000003" y2="254.26792432074453" stroke="#111" stroke-width="0.6"/>
<line x1="323.7" y1="255.71957567925548" x2="326.90000000000003" y2="255.71957567925548" stroke="#111" stroke-width="0.6"/>
<path d="M330.88,252.00 L334.73,252.00 L332.80,255.33 Z" fill="#2db34a"/>
<path d="M327.68,251.15 L331.53,251.15 L329.60,254.48 Z" fill="#2db34a"/>
<path d="M333.88,250.72 L337.73,250.72 L335.80,254.05 Z" fill="#2db34a"/>
<path d="M329.28,251.15 L333.13,251.15 L331.20,254.48 Z" fill="#2db34a"/>
<line x1="328.6" y1="252.65625" x2="336.6" y2="252.65625" stroke="#111" stroke-width="1.0"/>
<line x1="332.6" y1="252.12147006083498" x2="332.6" y2="253.19102993916502" stroke="#111" stroke-width="0.6"/>
<line x1="331.0" y1="252.12147006083498" x2="334.20000000000005" y2="252.12147006083498" stroke="#111" stroke-width="0.6"/>
<line x1="331.0" y1="253.19102993916502" x2="334.20000000000005" y2="253.19102993916502" stroke="#111" stroke-width="0.6"/>
<circle cx="343.80" cy="277.62" r="1.75" fill="#c8102e"/>
<circle cx="340.60" cy="277.20" r="1.75" fill="#c8102e"/>
<circle cx="346.80" cy="276.78" r="1.75" fill="#c8102e"/>
<circle cx="342.20" cy="277.20" r="1.75" fill="#c8102e"/>
<line x1="339.6" y1="277.20000000000005" x2="347.6" y2="277.20000000000005" stroke="#111" stroke-width="1.0"/>
<line x1="343.6" y1="276.85298895310575" x2="343.6" y2="277.5470110468943" stroke="#111" stroke-width="0.6"/>
<line x1="342.0" y1="276.85298895310575" x2="345.20000000000005" y2="276.85298895310575" stroke="#111" stroke-width="0.6"/>
<line x1="342.0" y1="277.5470110468943" x2="345.20000000000005" y2="277.5470110468943" stroke="#111" stroke-width="0.6"/>
<rect x="349.75" y="276.73" width="3.50" height="3.50" fill="#1a4a8a"/>
<rect x="346.55" y="276.30" width="3.50" height="3.50" fill="#1a4a8a"/>
<rect x="352.75" y="275.88" width="3.50" height="3.50" fill="#1a4a8a"/>
<rect x="348.15" y="276.30" width="3.50" height="3.50" fill="#1a4a8a"/>
<line x1="347.3" y1="278.05" x2="355.3" y2="278.05" stroke="#111" stroke-width="1.0"/>
<line x1="351.3" y1="277.7029889531057" x2="351.3" y2="278.3970110468943" stroke="#111" stroke-width="0.6"/>
<line x1="349.7" y1="277.7029889531057" x2="352.90000000000003" y2="277.7029889531057" stroke="#111" stroke-width="0.6"/>
<line x1="349.7" y1="278.3970110468943" x2="352.90000000000003" y2="278.3970110468943" stroke="#111" stroke-width="0.6"/>
<path d="M356.57,271.98 L360.43,271.98 L358.50,275.30 Z" fill="#2db34a"/>
<path d="M353.38,271.55 L357.23,271.55 L355.30,274.88 Z" fill="#2db34a"/>
<path d="M359.57,271.13 L363.43,271.13 L361.50,274.45 Z" fill="#2db34a"/>
<path d="M354.98,271.55 L358.83,271.55 L356.90,274.88 Z" fill="#2db34a"/>
<line x1="354.3" y1="272.95000000000005" x2="362.3" y2="272.95000000000005" stroke="#111" stroke-width="1.0"/>
<line x1="358.3" y1="272.60298895310575" x2="358.3" y2="273.2970110468943" stroke="#111" stroke-width="0.6"/>
<line x1="356.7" y1="272.60298895310575" x2="359.90000000000003" y2="272.60298895310575" stroke="#111" stroke-width="0.6"/>
<line x1="356.7" y1="273.2970110468943" x2="359.90000000000003" y2="273.2970110468943" stroke="#111" stroke-width="0.6"/>
<path d="M325.3,248.8 L325.3,246 L332.6,246 L332.6,248.8" fill="none" stroke="#231f20" stroke-width="0.85"/>
<text x="328.95000000000005" y="246.9" font-size="6.8" text-anchor="middle" fill="#231f20" letter-spacing="-0.2">**</text>
<path d="M351.3,268.8 L351.3,266 L358.3,266 L358.3,268.8" fill="none" stroke="#231f20" stroke-width="0.85"/>
<text x="354.8" y="266.9" font-size="6.8" text-anchor="middle" fill="#231f20" letter-spacing="-0.2">***</text>
<text x="294.2" y="260" font-size="7.2" text-anchor="middle" fill="#231f20" transform="rotate(-90 294.2 260)" textLength="38.4" lengthAdjust="spacingAndGlyphs"><tspan>% B220</tspan><tspan font-size="5.47" dy="-2.59" font-style="normal">+</tspan><tspan dy="2.59"> cells</tspan></text>
<line x1="226.5" y1="296.0" x2="226.5" y2="339.0" stroke="#231f20" stroke-width="1.1"/>
<line x1="226.0" y1="338.5" x2="279.8" y2="338.5" stroke="#231f20" stroke-width="1.1"/>
<line x1="223.7" y1="338.5" x2="226.5" y2="338.5" stroke="#231f20" stroke-width="0.95"/>
<text x="222.1" y="340.84999999999997" font-size="7.0" text-anchor="end" fill="#231f20">0</text>
<line x1="223.7" y1="324.5" x2="226.5" y2="324.5" stroke="#231f20" stroke-width="0.95"/>
<text x="222.1" y="326.84999999999997" font-size="7.0" text-anchor="end" fill="#231f20">20</text>
<line x1="223.7" y1="310.5" x2="226.5" y2="310.5" stroke="#231f20" stroke-width="0.95"/>
<text x="222.1" y="312.84999999999997" font-size="7.0" text-anchor="end" fill="#231f20">40</text>
<line x1="223.7" y1="296.5" x2="226.5" y2="296.5" stroke="#231f20" stroke-width="0.95"/>
<text x="222.1" y="298.84999999999997" font-size="7.0" text-anchor="end" fill="#231f20">60</text>
<text x="242" y="346.5" font-size="6.8" text-anchor="middle" fill="#231f20" textLength="20.7" lengthAdjust="spacingAndGlyphs">Mature</text>
<text x="268.7" y="346.5" font-size="6.8" text-anchor="middle" fill="#231f20">Imm</text>
<circle cx="234.20" cy="318.10" r="1.75" fill="#c8102e"/>
<circle cx="230.40" cy="316.70" r="1.75" fill="#c8102e"/>
<circle cx="236.80" cy="316.00" r="1.75" fill="#c8102e"/>
<circle cx="232.20" cy="314.60" r="1.75" fill="#c8102e"/>
<circle cx="235.20" cy="311.80" r="1.75" fill="#c8102e"/>
<line x1="229.6" y1="315.44" x2="237.6" y2="315.44" stroke="#111" stroke-width="1.0"/>
<line x1="233.6" y1="313.0456316072918" x2="233.6" y2="317.83436839270814" stroke="#111" stroke-width="0.6"/>
<line x1="232.0" y1="313.0456316072918" x2="235.2" y2="313.0456316072918" stroke="#111" stroke-width="0.6"/>
<line x1="232.0" y1="317.83436839270814" x2="235.2" y2="317.83436839270814" stroke="#111" stroke-width="0.6"/>
<rect x="239.75" y="326.85" width="3.50" height="3.50" fill="#1a4a8a"/>
<rect x="236.55" y="326.50" width="3.50" height="3.50" fill="#1a4a8a"/>
<rect x="242.75" y="326.15" width="3.50" height="3.50" fill="#1a4a8a"/>
<rect x="238.15" y="326.15" width="3.50" height="3.50" fill="#1a4a8a"/>
<line x1="237.3" y1="328.16249999999997" x2="245.3" y2="328.16249999999997" stroke="#111" stroke-width="1.0"/>
<line x1="241.3" y1="327.82740051228524" x2="241.3" y2="328.4975994877147" stroke="#111" stroke-width="0.6"/>
<line x1="239.70000000000002" y1="327.82740051228524" x2="242.9" y2="327.82740051228524" stroke="#111" stroke-width="0.6"/>
<line x1="239.70000000000002" y1="328.4975994877147" x2="242.9" y2="328.4975994877147" stroke="#111" stroke-width="0.6"/>
<path d="M246.77,302.70 L250.62,302.70 L248.70,306.02 Z" fill="#2db34a"/>
<path d="M243.57,302.00 L247.43,302.00 L245.50,305.32 Z" fill="#2db34a"/>
<path d="M249.77,301.30 L253.62,301.30 L251.70,304.62 Z" fill="#2db34a"/>
<path d="M245.17,302.00 L249.03,302.00 L247.10,305.32 Z" fill="#2db34a"/>
<line x1="244.5" y1="303.4" x2="252.5" y2="303.4" stroke="#111" stroke-width="1.0"/>
<line x1="248.5" y1="302.8284523933506" x2="248.5" y2="303.9715476066494" stroke="#111" stroke-width="0.6"/>
<line x1="246.9" y1="302.8284523933506" x2="250.1" y2="302.8284523933506" stroke="#111" stroke-width="0.6"/>
<line x1="246.9" y1="303.9715476066494" x2="250.1" y2="303.9715476066494" stroke="#111" stroke-width="0.6"/>
<circle cx="259.80" cy="326.50" r="1.75" fill="#c8102e"/>
<circle cx="256.60" cy="325.80" r="1.75" fill="#c8102e"/>
<circle cx="262.80" cy="325.10" r="1.75" fill="#c8102e"/>
<circle cx="258.20" cy="325.10" r="1.75" fill="#c8102e"/>
<line x1="255.60000000000002" y1="325.625" x2="263.6" y2="325.625" stroke="#111" stroke-width="1.0"/>
<line x1="259.6" y1="324.95480102457054" x2="259.6" y2="326.2951989754294" stroke="#111" stroke-width="0.6"/>
<line x1="258.0" y1="324.95480102457054" x2="261.20000000000005" y2="324.95480102457054" stroke="#111" stroke-width="0.6"/>
<line x1="258.0" y1="326.2951989754294" x2="261.20000000000005" y2="326.2951989754294" stroke="#111" stroke-width="0.6"/>
<rect x="265.75" y="329.65" width="3.50" height="3.50" fill="#1a4a8a"/>
<rect x="262.55" y="328.25" width="3.50" height="3.50" fill="#1a4a8a"/>
<rect x="268.75" y="327.55" width="3.50" height="3.50" fill="#1a4a8a"/>
<rect x="264.15" y="326.85" width="3.50" height="3.50" fill="#1a4a8a"/>
<line x1="263.3" y1="329.825" x2="271.3" y2="329.825" stroke="#111" stroke-width="1.0"/>
<line x1="267.3" y1="328.629522410638" x2="267.3" y2="331.0204775893619" stroke="#111" stroke-width="0.6"/>
<line x1="265.7" y1="328.629522410638" x2="268.90000000000003" y2="328.629522410638" stroke="#111" stroke-width="0.6"/>
<line x1="265.7" y1="331.0204775893619" x2="268.90000000000003" y2="331.0204775893619" stroke="#111" stroke-width="0.6"/>
<path d="M273.27,325.10 L277.12,325.10 L275.20,328.43 Z" fill="#2db34a"/>
<path d="M270.07,324.40 L273.93,324.40 L272.00,327.72 Z" fill="#2db34a"/>
<path d="M276.27,323.00 L280.12,323.00 L278.20,326.32 Z" fill="#2db34a"/>
<path d="M271.68,322.30 L275.53,322.30 L273.60,325.62 Z" fill="#2db34a"/>
<line x1="271.0" y1="325.09999999999997" x2="279.0" y2="325.09999999999997" stroke="#111" stroke-width="1.0"/>
<line x1="275" y1="323.8219806991546" x2="275" y2="326.3780193008454" stroke="#111" stroke-width="0.6"/>
<line x1="273.4" y1="323.8219806991546" x2="276.6" y2="323.8219806991546" stroke="#111" stroke-width="0.6"/>
<line x1="273.4" y1="326.3780193008454" x2="276.6" y2="326.3780193008454" stroke="#111" stroke-width="0.6"/>
<path d="M241.3,299.8 L241.3,297 L248.5,297 L248.5,299.8" fill="none" stroke="#231f20" stroke-width="0.85"/>
<text x="244.9" y="297.9" font-size="6.8" text-anchor="middle" fill="#231f20" letter-spacing="-0.2">***</text>
<path d="M267.3,320.8 L267.3,318 L275,318 L275,320.8" fill="none" stroke="#231f20" stroke-width="0.85"/>
<text x="271.15" y="318.9" font-size="6.8" text-anchor="middle" fill="#231f20" letter-spacing="-0.2">**</text>
<text x="207.3" y="317" font-size="7.2" text-anchor="middle" fill="#231f20" transform="rotate(-90 207.3 317)" textLength="50" lengthAdjust="spacingAndGlyphs"><tspan>Cell number (10</tspan><tspan font-size="5.47" dy="-2.59" font-style="normal">6</tspan><tspan dy="2.59">)</tspan></text>
<line x1="311.5" y1="293.3" x2="311.5" y2="339.0" stroke="#231f20" stroke-width="1.1"/>
<line x1="311.0" y1="338.5" x2="365.4" y2="338.5" stroke="#231f20" stroke-width="1.1"/>
<line x1="308.7" y1="338.5" x2="311.5" y2="338.5" stroke="#231f20" stroke-width="0.95"/>
<text x="307.09999999999997" y="340.84999999999997" font-size="7.0" text-anchor="end" fill="#231f20">0</text>
<line x1="308.7" y1="323.5" x2="311.5" y2="323.5" stroke="#231f20" stroke-width="0.95"/>
<text x="307.09999999999997" y="325.95" font-size="7.0" text-anchor="end" fill="#231f20">20</text>
<line x1="308.7" y1="308.5" x2="311.5" y2="308.5" stroke="#231f20" stroke-width="0.95"/>
<text x="307.09999999999997" y="311.04999999999995" font-size="7.0" text-anchor="end" fill="#231f20">40</text>
<line x1="308.7" y1="293.5" x2="311.5" y2="293.5" stroke="#231f20" stroke-width="0.95"/>
<text x="307.09999999999997" y="296.15" font-size="7.0" text-anchor="end" fill="#231f20">60</text>
<text x="326.3" y="345.5" font-size="6.8" text-anchor="middle" fill="#231f20">FO</text>
<text x="353.3" y="345.5" font-size="6.8" text-anchor="middle" fill="#231f20">MZ</text>
<circle cx="319.20" cy="311.58" r="1.75" fill="#c8102e"/>
<circle cx="315.40" cy="310.83" r="1.75" fill="#c8102e"/>
<circle cx="321.80" cy="310.09" r="1.75" fill="#c8102e"/>
<circle cx="317.20" cy="309.34" r="1.75" fill="#c8102e"/>
<circle cx="320.20" cy="307.11" r="1.75" fill="#c8102e"/>
<line x1="314.6" y1="309.792" x2="322.6" y2="309.792" stroke="#111" stroke-width="1.0"/>
<line x1="318.6" y1="308.07688119945" x2="318.6" y2="311.50711880054996" stroke="#111" stroke-width="0.6"/>
<line x1="317.0" y1="308.07688119945" x2="320.20000000000005" y2="308.07688119945" stroke="#111" stroke-width="0.6"/>
<line x1="317.0" y1="311.50711880054996" x2="320.20000000000005" y2="311.50711880054996" stroke="#111" stroke-width="0.6"/>
<rect x="324.75" y="327.71" width="3.50" height="3.50" fill="#1a4a8a"/>
<rect x="321.55" y="326.22" width="3.50" height="3.50" fill="#1a4a8a"/>
<rect x="327.75" y="325.47" width="3.50" height="3.50" fill="#1a4a8a"/>
<rect x="323.15" y="323.98" width="3.50" height="3.50" fill="#1a4a8a"/>
<line x1="322.3" y1="327.59749999999997" x2="330.3" y2="327.59749999999997" stroke="#111" stroke-width="1.0"/>
<line x1="326.3" y1="326.0466588303977" x2="326.3" y2="329.14834116960225" stroke="#111" stroke-width="0.6"/>
<line x1="324.7" y1="326.0466588303977" x2="327.90000000000003" y2="326.0466588303977" stroke="#111" stroke-width="0.6"/>
<line x1="324.7" y1="329.14834116960225" x2="327.90000000000003" y2="329.14834116960225" stroke="#111" stroke-width="0.6"/>
<path d="M332.18,304.97 L336.03,304.97 L334.10,308.29 Z" fill="#2db34a"/>
<path d="M328.38,304.22 L332.23,304.22 L330.30,307.55 Z" fill="#2db34a"/>
<path d="M334.77,303.48 L338.62,303.48 L336.70,306.80 Z" fill="#2db34a"/>
<path d="M330.18,302.73 L334.03,302.73 L332.10,306.06 Z" fill="#2db34a"/>
<path d="M333.18,301.24 L337.03,301.24 L335.10,304.56 Z" fill="#2db34a"/>
<line x1="329.5" y1="304.726" x2="337.5" y2="304.726" stroke="#111" stroke-width="1.0"/>
<line x1="333.5" y1="303.29296388740545" x2="333.5" y2="306.1590361125945" stroke="#111" stroke-width="0.6"/>
<line x1="331.9" y1="303.29296388740545" x2="335.1" y2="303.29296388740545" stroke="#111" stroke-width="0.6"/>
<line x1="331.9" y1="306.1590361125945" x2="335.1" y2="306.1590361125945" stroke="#111" stroke-width="0.6"/>
<circle cx="343.80" cy="335.79" r="1.75" fill="#c8102e"/>
<circle cx="340.60" cy="335.42" r="1.75" fill="#c8102e"/>
<circle cx="346.80" cy="335.05" r="1.75" fill="#c8102e"/>
<circle cx="342.20" cy="335.42" r="1.75" fill="#c8102e"/>
<line x1="339.6" y1="335.41999999999996" x2="347.6" y2="335.41999999999996" stroke="#111" stroke-width="1.0"/>
<line x1="343.6" y1="335.1158550236044" x2="343.6" y2="335.72414497639556" stroke="#111" stroke-width="0.6"/>
<line x1="342.0" y1="335.1158550236044" x2="345.20000000000005" y2="335.1158550236044" stroke="#111" stroke-width="0.6"/>
<line x1="342.0" y1="335.72414497639556" x2="345.20000000000005" y2="335.72414497639556" stroke="#111" stroke-width="0.6"/>
<rect x="349.75" y="336.28" width="3.50" height="3.50" fill="#1a4a8a"/>
<rect x="346.55" y="335.90" width="3.50" height="3.50" fill="#1a4a8a"/>
<rect x="352.75" y="335.76" width="3.50" height="3.50" fill="#1a4a8a"/>
<rect x="348.15" y="335.90" width="3.50" height="3.50" fill="#1a4a8a"/>
<line x1="347.3" y1="337.710875" x2="355.3" y2="337.710875" stroke="#111" stroke-width="1.0"/>
<line x1="351.3" y1="337.488412128566" x2="351.3" y2="337.933337871434" stroke="#111" stroke-width="0.6"/>
<line x1="349.7" y1="337.488412128566" x2="352.90000000000003" y2="337.488412128566" stroke="#111" stroke-width="0.6"/>
<line x1="349.7" y1="337.933337871434" x2="352.90000000000003" y2="337.933337871434" stroke="#111" stroke-width="0.6"/>
<path d="M356.57,328.43 L360.43,328.43 L358.50,331.76 Z" fill="#2db34a"/>
<path d="M353.38,328.06 L357.23,328.06 L355.30,331.38 Z" fill="#2db34a"/>
<path d="M359.57,327.69 L363.43,327.69 L361.50,331.01 Z" fill="#2db34a"/>
<path d="M354.98,328.06 L358.83,328.06 L356.90,331.38 Z" fill="#2db34a"/>
<line x1="354.3" y1="329.46" x2="362.3" y2="329.46" stroke="#111" stroke-width="1.0"/>
<line x1="358.3" y1="329.1558550236044" x2="358.3" y2="329.7641449763956" stroke="#111" stroke-width="0.6"/>
<line x1="356.7" y1="329.1558550236044" x2="359.90000000000003" y2="329.1558550236044" stroke="#111" stroke-width="0.6"/>
<line x1="356.7" y1="329.7641449763956" x2="359.90000000000003" y2="329.7641449763956" stroke="#111" stroke-width="0.6"/>
<path d="M326.3,298.3 L326.3,295.5 L333.5,295.5 L333.5,298.3" fill="none" stroke="#231f20" stroke-width="0.85"/>
<text x="329.9" y="296.4" font-size="6.8" text-anchor="middle" fill="#231f20" letter-spacing="-0.2">***</text>
<path d="M351.3,326.8 L351.3,324 L358.3,324 L358.3,326.8" fill="none" stroke="#231f20" stroke-width="0.85"/>
<text x="354.8" y="324.9" font-size="6.8" text-anchor="middle" fill="#231f20" letter-spacing="-0.2">***</text>
<text x="294.2" y="317" font-size="7.2" text-anchor="middle" fill="#231f20" transform="rotate(-90 294.2 317)" textLength="50" lengthAdjust="spacingAndGlyphs"><tspan>Cell number (10</tspan><tspan font-size="5.47" dy="-2.59" font-style="normal">6</tspan><tspan dy="2.59">)</tspan></text>
<defs><filter id="bl" x="-30%" y="-100%" width="160%" height="300%"><feGaussianBlur stdDeviation="0.45"/></filter><filter id="bl2" x="-5%" y="-20%" width="110%" height="140%"><feGaussianBlur stdDeviation="0.35"/></filter></defs>
<rect x="383" y="61.5" width="129.79999999999995" height="10.099999999999994" fill="#8f8f8f" stroke="none" stroke-width="1"/>
<g filter="url(#bl2)">
<rect x="383.3" y="61.8" width="129.19999999999996" height="1.3" fill="#a2a2a2" stroke="none" stroke-width="1"/>
<rect x="383.3" y="70.6" width="129.19999999999996" height="0.8" fill="#7a7a7a" stroke="none" stroke-width="1"/>
</g>
<g filter="url(#bl)">
<rect x="384.30" y="65.00" width="11.8" height="2.81" rx="1.5" fill="#434343"/>
<rect x="398.55" y="65.07" width="11.8" height="2.65" rx="1.5" fill="#505050"/>
<rect x="412.80" y="65.10" width="11.8" height="2.60" rx="1.5" fill="#545454"/>
<rect x="427.05" y="65.02" width="11.8" height="2.76" rx="1.5" fill="#474747"/>
<rect x="441.30" y="65.03" width="11.8" height="2.74" rx="1.5" fill="#494949"/>
<rect x="455.55" y="65.08" width="11.8" height="2.63" rx="1.5" fill="#515151"/>
<rect x="469.80" y="65.18" width="11.8" height="2.44" rx="1.5" fill="#606060"/>
<rect x="484.05" y="65.20" width="11.8" height="2.39" rx="1.5" fill="#646464"/>
<rect x="498.30" y="65.18" width="11.8" height="2.44" rx="1.5" fill="#606060"/>
</g>
<rect x="383" y="74.0" width="129.79999999999995" height="10.799999999999997" fill="#8b8b8b" stroke="none" stroke-width="1"/>
<g filter="url(#bl2)">
<rect x="383.3" y="74.3" width="129.19999999999996" height="1.3" fill="#a2a2a2" stroke="none" stroke-width="1"/>
<rect x="383.3" y="83.8" width="129.19999999999996" height="0.8" fill="#7a7a7a" stroke="none" stroke-width="1"/>
</g>
<g filter="url(#bl)">
<rect x="384.30" y="78.07" width="11.8" height="3.26" rx="1.5" fill="#494949"/>
<rect x="398.55" y="78.06" width="11.8" height="3.29" rx="1.5" fill="#474747"/>
<rect x="412.80" y="78.07" width="11.8" height="3.26" rx="1.5" fill="#494949"/>
<rect x="427.05" y="78.04" width="11.8" height="3.31" rx="1.5" fill="#464646"/>
<rect x="441.30" y="78.04" width="11.8" height="3.31" rx="1.5" fill="#464646"/>
<rect x="455.55" y="78.06" width="11.8" height="3.29" rx="1.5" fill="#474747"/>
<rect x="469.80" y="78.06" width="11.8" height="3.29" rx="1.5" fill="#474747"/>
<rect x="484.05" y="78.07" width="11.8" height="3.26" rx="1.5" fill="#494949"/>
<rect x="498.30" y="78.07" width="11.8" height="3.26" rx="1.5" fill="#494949"/>
</g>
<rect x="383" y="94.5" width="129.79999999999995" height="9.700000000000003" fill="#919191" stroke="none" stroke-width="1"/>
<g filter="url(#bl2)">
<rect x="383.3" y="94.8" width="129.19999999999996" height="1.3" fill="#a2a2a2" stroke="none" stroke-width="1"/>
<rect x="383.3" y="103.2" width="129.19999999999996" height="0.8" fill="#7a7a7a" stroke="none" stroke-width="1"/>
</g>
<g filter="url(#bl)">
<rect x="384.30" y="98.60" width="11.8" height="2.00" rx="1.5" fill="#7c7c7c"/>
<rect x="398.55" y="98.45" width="11.8" height="2.30" rx="1.5" fill="#646464"/>
<rect x="412.80" y="98.32" width="11.8" height="2.55" rx="1.5" fill="#505050"/>
<rect x="427.05" y="98.57" width="11.8" height="2.05" rx="1.5" fill="#787878"/>
<rect x="441.30" y="98.55" width="11.8" height="2.10" rx="1.5" fill="#747474"/>
<rect x="455.55" y="98.47" width="11.8" height="2.25" rx="1.5" fill="#686868"/>
<rect x="469.80" y="98.32" width="11.8" height="2.55" rx="1.5" fill="#505050"/>
<rect x="484.05" y="98.32" width="11.8" height="2.55" rx="1.5" fill="#505050"/>
<rect x="498.30" y="98.35" width="11.8" height="2.50" rx="1.5" fill="#545454"/>
</g>
<rect x="383" y="107.0" width="129.79999999999995" height="10.799999999999997" fill="#7f7f7f" stroke="none" stroke-width="1"/>
<g filter="url(#bl2)">
<rect x="383.3" y="107.3" width="129.19999999999996" height="1.3" fill="#a2a2a2" stroke="none" stroke-width="1"/>
<rect x="383.3" y="116.8" width="129.19999999999996" height="0.8" fill="#7a7a7a" stroke="none" stroke-width="1"/>
</g>
<g filter="url(#bl)">
<rect x="384.30" y="111.26" width="11.8" height="2.08" rx="1.5" fill="#7c7c7c"/>
<rect x="398.55" y="111.10" width="11.8" height="2.39" rx="1.5" fill="#646464"/>
<rect x="412.80" y="111.03" width="11.8" height="2.55" rx="1.5" fill="#585858"/>
<rect x="427.05" y="111.10" width="11.8" height="2.39" rx="1.5" fill="#646464"/>
<rect x="441.30" y="111.13" width="11.8" height="2.34" rx="1.5" fill="#686868"/>
<rect x="455.55" y="111.08" width="11.8" height="2.44" rx="1.5" fill="#606060"/>
<rect x="469.80" y="111.05" width="11.8" height="2.50" rx="1.5" fill="#5c5c5c"/>
<rect x="484.05" y="111.05" width="11.8" height="2.50" rx="1.5" fill="#5c5c5c"/>
<rect x="498.30" y="111.08" width="11.8" height="2.44" rx="1.5" fill="#606060"/>
</g>
<rect x="383" y="120.0" width="129.79999999999995" height="11.199999999999989" fill="#8d8d8d" stroke="none" stroke-width="1"/>
<g filter="url(#bl2)">
<rect x="383.3" y="120.3" width="129.19999999999996" height="1.3" fill="#a2a2a2" stroke="none" stroke-width="1"/>
<rect x="383.3" y="130.2" width="129.19999999999996" height="0.8" fill="#7a7a7a" stroke="none" stroke-width="1"/>
</g>
<g filter="url(#bl)">
<rect x="384.30" y="123.84" width="11.8" height="3.52" rx="1.5" fill="#464646"/>
<rect x="398.55" y="123.85" width="11.8" height="3.50" rx="1.5" fill="#474747"/>
<rect x="412.80" y="123.85" width="11.8" height="3.50" rx="1.5" fill="#474747"/>
<rect x="427.05" y="123.86" width="11.8" height="3.47" rx="1.5" fill="#494949"/>
<rect x="441.30" y="123.85" width="11.8" height="3.50" rx="1.5" fill="#474747"/>
<rect x="455.55" y="123.84" width="11.8" height="3.52" rx="1.5" fill="#464646"/>
<rect x="469.80" y="123.84" width="11.8" height="3.52" rx="1.5" fill="#464646"/>
<rect x="484.05" y="123.84" width="11.8" height="3.52" rx="1.5" fill="#464646"/>
<rect x="498.30" y="123.84" width="11.8" height="3.52" rx="1.5" fill="#464646"/>
</g>
<text x="401.5" y="46.3" font-size="8.0" text-anchor="middle" fill="#231f20" textLength="11.7" lengthAdjust="spacingAndGlyphs">WT</text>
<text x="427.8" y="46.5" font-size="8.0" text-anchor="start" fill="#231f20" textLength="36.8" lengthAdjust="spacingAndGlyphs"><tspan font-style="italic">Dyrk1a</tspan><tspan font-size="6.08" dy="-2.88" font-style="normal">BKO</tspan></text>
<text x="469.2" y="37" font-size="8.0" text-anchor="start" fill="#231f20" textLength="41.5" lengthAdjust="spacingAndGlyphs"><tspan font-style="italic">Map3k14</tspan><tspan font-size="6.08" dy="-2.88" font-style="normal">Btg</tspan></text>
<text x="471.6" y="46.5" font-size="8.0" text-anchor="start" fill="#231f20" textLength="36.8" lengthAdjust="spacingAndGlyphs"><tspan font-style="italic">Dyrk1a</tspan><tspan font-size="6.08" dy="-2.88" font-style="normal">BKO</tspan></text>
<line x1="382.8" y1="49.6" x2="418.8" y2="49.6" stroke="#231f20" stroke-width="0.9"/>
<line x1="426.7" y1="49.6" x2="465.2" y2="49.6" stroke="#231f20" stroke-width="0.9"/>
<line x1="470.4" y1="49.6" x2="509" y2="49.6" stroke="#231f20" stroke-width="0.9"/>
<text x="348" y="57.8" font-size="8.0" text-anchor="start" fill="#231f20" textLength="29.7" lengthAdjust="spacingAndGlyphs">BAFF (h)</text>
<text x="387" y="57.8" font-size="8.0" text-anchor="middle" fill="#231f20">0</text>
<text x="402" y="57.8" font-size="8.0" text-anchor="middle" fill="#231f20">6</text>
<text x="416.4" y="57.8" font-size="8.0" text-anchor="middle" fill="#231f20">12</text>
<text x="431" y="57.8" font-size="8.0" text-anchor="middle" fill="#231f20">0</text>
<text x="446" y="57.8" font-size="8.0" text-anchor="middle" fill="#231f20">6</text>
<text x="460.6" y="57.8" font-size="8.0" text-anchor="middle" fill="#231f20">12</text>
<text x="474.8" y="57.8" font-size="8.0" text-anchor="middle" fill="#231f20">0</text>
<text x="490" y="57.8" font-size="8.0" text-anchor="middle" fill="#231f20">6</text>
<text x="504.4" y="57.8" font-size="8.0" text-anchor="middle" fill="#231f20">12</text>
<text x="334.6" y="70.6" font-size="8.0" text-anchor="start" fill="#231f20" textLength="12.1" lengthAdjust="spacingAndGlyphs">Cyt</text>
<text x="335.2" y="80.2" font-size="8.0" text-anchor="start" fill="#231f20" textLength="11" lengthAdjust="spacingAndGlyphs">Ext</text>
<line x1="349.5" y1="62.8" x2="349.5" y2="85.9" stroke="#231f20" stroke-width="1.1"/>
<text x="330.6" y="110.3" font-size="8.0" text-anchor="start" fill="#231f20" textLength="15.8" lengthAdjust="spacingAndGlyphs">Nucl</text>
<text x="335.2" y="120.2" font-size="8.0" text-anchor="start" fill="#231f20" textLength="11" lengthAdjust="spacingAndGlyphs">Ext</text>
<line x1="349.5" y1="95" x2="349.5" y2="129.5" stroke="#231f20" stroke-width="1.1"/>
<text x="361.6" y="68.8" font-size="8.0" text-anchor="start" fill="#231f20" textLength="18.6" lengthAdjust="spacingAndGlyphs">p100</text>
<text x="354.8" y="81.8" font-size="8.0" text-anchor="start" fill="#231f20" textLength="25.4" lengthAdjust="spacingAndGlyphs">β-Actin</text>
<text x="380.2" y="102.3" font-size="8.0" text-anchor="end" fill="#231f20">p52</text>
<text x="380.2" y="114.4" font-size="8.0" text-anchor="end" fill="#231f20">RelB</text>
<text x="351.5" y="128.7" font-size="8.0" text-anchor="start" fill="#231f20" textLength="28.7" lengthAdjust="spacingAndGlyphs">Lamin B</text>
<line x1="441.5" y1="223.2" x2="441.5" y2="279.0" stroke="#231f20" stroke-width="1.1"/>
<line x1="441.0" y1="278.5" x2="494.2" y2="278.5" stroke="#231f20" stroke-width="1.1"/>
<line x1="438.9" y1="278.5" x2="441.5" y2="278.5" stroke="#231f20" stroke-width="0.8"/>
<text x="436.6" y="280.95" font-size="7.0" text-anchor="end" fill="#231f20">0</text>
<line x1="438.9" y1="260.23333333333335" x2="441.5" y2="260.23333333333335" stroke="#231f20" stroke-width="0.8"/>
<text x="436.6" y="262.68333333333334" font-size="7.0" text-anchor="end" fill="#231f20">0.5</text>
<line x1="438.9" y1="241.96666666666667" x2="441.5" y2="241.96666666666667" stroke="#231f20" stroke-width="0.8"/>
<text x="436.6" y="244.41666666666666" font-size="7.0" text-anchor="end" fill="#231f20">1.0</text>
<line x1="438.9" y1="223.7" x2="441.5" y2="223.7" stroke="#231f20" stroke-width="0.8"/>
<text x="436.6" y="226.14999999999998" font-size="7.0" text-anchor="end" fill="#231f20">1.5</text>
<line x1="451.5" y1="278.5" x2="451.5" y2="280.3" stroke="#231f20" stroke-width="0.8"/>
<line x1="467.2" y1="278.5" x2="467.2" y2="280.3" stroke="#231f20" stroke-width="0.8"/>
<line x1="483.4" y1="278.5" x2="483.4" y2="280.3" stroke="#231f20" stroke-width="0.8"/>
<polyline points="451.5,240.5 467.2,247.1 483.4,250.7" fill="none" stroke="#1a4a8a" stroke-width="1.5"/>
<line x1="451.5" y1="236.12133333333333" x2="451.5" y2="244.88933333333335" stroke="#231f20" stroke-width="0.7"/>
<line x1="449.9" y1="236.12133333333333" x2="453.1" y2="236.12133333333333" stroke="#231f20" stroke-width="0.7"/>
<line x1="449.9" y1="244.88933333333335" x2="453.1" y2="244.88933333333335" stroke="#231f20" stroke-width="0.7"/>
<rect x="449.70" y="238.71" width="3.60" height="3.60" fill="#1a4a8a"/>
<line x1="467.2" y1="244.15866666666668" x2="467.2" y2="250.004" stroke="#231f20" stroke-width="0.7"/>
<line x1="465.59999999999997" y1="244.15866666666668" x2="468.8" y2="244.15866666666668" stroke="#231f20" stroke-width="0.7"/>
<line x1="465.59999999999997" y1="250.004" x2="468.8" y2="250.004" stroke="#231f20" stroke-width="0.7"/>
<rect x="465.40" y="245.28" width="3.60" height="3.60" fill="#1a4a8a"/>
<line x1="483.4" y1="248.90800000000002" x2="483.4" y2="252.56133333333332" stroke="#231f20" stroke-width="0.7"/>
<line x1="481.79999999999995" y1="248.90800000000002" x2="485.0" y2="248.90800000000002" stroke="#231f20" stroke-width="0.7"/>
<line x1="481.79999999999995" y1="252.56133333333332" x2="485.0" y2="252.56133333333332" stroke="#231f20" stroke-width="0.7"/>
<rect x="481.60" y="248.93" width="3.60" height="3.60" fill="#1a4a8a"/>
<polyline points="451.5,242.0 467.2,251.8 483.4,260.2" fill="none" stroke="#c8102e" stroke-width="1.5"/>
<line x1="451.5" y1="239.77466666666666" x2="451.5" y2="244.15866666666668" stroke="#231f20" stroke-width="0.7"/>
<line x1="449.9" y1="239.77466666666666" x2="453.1" y2="239.77466666666666" stroke="#231f20" stroke-width="0.7"/>
<line x1="449.9" y1="244.15866666666668" x2="453.1" y2="244.15866666666668" stroke="#231f20" stroke-width="0.7"/>
<circle cx="451.50" cy="241.97" r="1.80" fill="#c8102e"/>
<line x1="467.2" y1="250.73466666666667" x2="467.2" y2="252.92666666666668" stroke="#231f20" stroke-width="0.7"/>
<line x1="465.59999999999997" y1="250.73466666666667" x2="468.8" y2="250.73466666666667" stroke="#231f20" stroke-width="0.7"/>
<line x1="465.59999999999997" y1="252.92666666666668" x2="468.8" y2="252.92666666666668" stroke="#231f20" stroke-width="0.7"/>
<circle cx="467.20" cy="251.83" r="1.80" fill="#c8102e"/>
<line x1="483.4" y1="259.13733333333334" x2="483.4" y2="261.32933333333335" stroke="#231f20" stroke-width="0.7"/>
<line x1="481.79999999999995" y1="259.13733333333334" x2="485.0" y2="259.13733333333334" stroke="#231f20" stroke-width="0.7"/>
<line x1="481.79999999999995" y1="261.32933333333335" x2="485.0" y2="261.32933333333335" stroke="#231f20" stroke-width="0.7"/>
<circle cx="483.40" cy="260.23" r="1.80" fill="#c8102e"/>
<polyline points="451.5,263.2 467.2,263.5 483.4,262.4" fill="none" stroke="#2db34a" stroke-width="1.5"/>
<line x1="451.5" y1="260.59866666666665" x2="451.5" y2="265.71333333333337" stroke="#231f20" stroke-width="0.7"/>
<line x1="449.9" y1="260.59866666666665" x2="453.1" y2="260.59866666666665" stroke="#231f20" stroke-width="0.7"/>
<line x1="449.9" y1="265.71333333333337" x2="453.1" y2="265.71333333333337" stroke="#231f20" stroke-width="0.7"/>
<path d="M449.52,264.60 L453.48,264.60 L451.50,261.18 Z" fill="#2db34a"/>
<line x1="467.2" y1="262.7906666666667" x2="467.2" y2="264.252" stroke="#231f20" stroke-width="0.7"/>
<line x1="465.59999999999997" y1="262.7906666666667" x2="468.8" y2="262.7906666666667" stroke="#231f20" stroke-width="0.7"/>
<line x1="465.59999999999997" y1="264.252" x2="468.8" y2="264.252" stroke="#231f20" stroke-width="0.7"/>
<path d="M465.22,264.96 L469.18,264.96 L467.20,261.54 Z" fill="#2db34a"/>
<line x1="483.4" y1="261.32933333333335" x2="483.4" y2="263.52133333333336" stroke="#231f20" stroke-width="0.7"/>
<line x1="481.79999999999995" y1="261.32933333333335" x2="485.0" y2="261.32933333333335" stroke="#231f20" stroke-width="0.7"/>
<line x1="481.79999999999995" y1="263.52133333333336" x2="485.0" y2="263.52133333333336" stroke="#231f20" stroke-width="0.7"/>
<path d="M481.42,263.87 L485.38,263.87 L483.40,260.45 Z" fill="#2db34a"/>
<path d="M487.3,249.2 L490.3,249.2 L490.3,259.5 L487.3,259.5" fill="none" stroke="#231f20" stroke-width="1.0"/>
<circle cx="493.90000000000003" cy="252.85" r="0.95" fill="#231f20"/>
<circle cx="493.90000000000003" cy="255.85" r="0.95" fill="#231f20"/>
<text x="419.5" y="287.8" font-size="6.6" text-anchor="start" fill="#231f20" textLength="24.0" lengthAdjust="spacingAndGlyphs">BAFF (h)</text>
<text x="451.5" y="287.8" font-size="7.0" text-anchor="middle" fill="#231f20">0</text>
<text x="467.2" y="287.8" font-size="7.0" text-anchor="middle" fill="#231f20">6</text>
<text x="483.4" y="287.8" font-size="7.0" text-anchor="middle" fill="#231f20">12</text>
<text x="414.8" y="246.9" font-size="7.6" text-anchor="middle" fill="#231f20" transform="rotate(-90 414.8 246.9)" textLength="48.4" lengthAdjust="spacingAndGlyphs">p100 protein level</text>
<text x="423.4" y="246.9" font-size="7.6" text-anchor="middle" fill="#231f20" transform="rotate(-90 423.4 246.9)" textLength="34.4" lengthAdjust="spacingAndGlyphs">fold changes</text>
<line x1="441.5" y1="299.2" x2="441.5" y2="357.0" stroke="#231f20" stroke-width="1.1"/>
<line x1="441.0" y1="356.5" x2="495.6" y2="356.5" stroke="#231f20" stroke-width="1.1"/>
<line x1="439.2" y1="356.5" x2="441.8" y2="356.5" stroke="#231f20" stroke-width="0.8"/>
<text x="436.90000000000003" y="358.95" font-size="7.0" text-anchor="end" fill="#231f20">0</text>
<line x1="439.2" y1="345.14" x2="441.8" y2="345.14" stroke="#231f20" stroke-width="0.8"/>
<text x="436.90000000000003" y="347.59" font-size="7.0" text-anchor="end" fill="#231f20">2</text>
<line x1="439.2" y1="333.78" x2="441.8" y2="333.78" stroke="#231f20" stroke-width="0.8"/>
<text x="436.90000000000003" y="336.22999999999996" font-size="7.0" text-anchor="end" fill="#231f20">4</text>
<line x1="439.2" y1="322.42" x2="441.8" y2="322.42" stroke="#231f20" stroke-width="0.8"/>
<text x="436.90000000000003" y="324.87" font-size="7.0" text-anchor="end" fill="#231f20">6</text>
<line x1="439.2" y1="311.06" x2="441.8" y2="311.06" stroke="#231f20" stroke-width="0.8"/>
<text x="436.90000000000003" y="313.51" font-size="7.0" text-anchor="end" fill="#231f20">8</text>
<line x1="439.2" y1="299.7" x2="441.8" y2="299.7" stroke="#231f20" stroke-width="0.8"/>
<text x="436.90000000000003" y="302.15" font-size="7.0" text-anchor="end" fill="#231f20">10</text>
<line x1="452.4" y1="356.5" x2="452.4" y2="358.3" stroke="#231f20" stroke-width="0.8"/>
<line x1="468.8" y1="356.5" x2="468.8" y2="358.3" stroke="#231f20" stroke-width="0.8"/>
<line x1="485.2" y1="356.5" x2="485.2" y2="358.3" stroke="#231f20" stroke-width="0.8"/>
<polyline points="452.4,315.6 468.8,314.8 485.2,315.6" fill="none" stroke="#2db34a" stroke-width="1.5"/>
<line x1="452.4" y1="309.072" x2="452.4" y2="322.13599999999997" stroke="#231f20" stroke-width="0.7"/>
<line x1="450.79999999999995" y1="309.072" x2="454.0" y2="309.072" stroke="#231f20" stroke-width="0.7"/>
<line x1="450.79999999999995" y1="322.13599999999997" x2="454.0" y2="322.13599999999997" stroke="#231f20" stroke-width="0.7"/>
<path d="M450.42,317.04 L454.38,317.04 L452.40,313.62 Z" fill="#2db34a"/>
<line x1="468.8" y1="308.788" x2="468.8" y2="320.716" stroke="#231f20" stroke-width="0.7"/>
<line x1="467.2" y1="308.788" x2="470.40000000000003" y2="308.788" stroke="#231f20" stroke-width="0.7"/>
<line x1="467.2" y1="320.716" x2="470.40000000000003" y2="320.716" stroke="#231f20" stroke-width="0.7"/>
<path d="M466.82,316.19 L470.78,316.19 L468.80,312.77 Z" fill="#2db34a"/>
<line x1="485.2" y1="308.50399999999996" x2="485.2" y2="322.704" stroke="#231f20" stroke-width="0.7"/>
<line x1="483.59999999999997" y1="308.50399999999996" x2="486.8" y2="308.50399999999996" stroke="#231f20" stroke-width="0.7"/>
<line x1="483.59999999999997" y1="322.704" x2="486.8" y2="322.704" stroke="#231f20" stroke-width="0.7"/>
<path d="M483.22,317.04 L487.18,317.04 L485.20,313.62 Z" fill="#2db34a"/>
<polyline points="452.4,350.8 468.8,337.8 485.2,324.7" fill="none" stroke="#c8102e" stroke-width="1.5"/>
<line x1="452.4" y1="349.968" x2="452.4" y2="351.67199999999997" stroke="#231f20" stroke-width="0.7"/>
<line x1="450.79999999999995" y1="349.968" x2="454.0" y2="349.968" stroke="#231f20" stroke-width="0.7"/>
<line x1="450.79999999999995" y1="351.67199999999997" x2="454.0" y2="351.67199999999997" stroke="#231f20" stroke-width="0.7"/>
<circle cx="452.40" cy="350.82" r="1.80" fill="#c8102e"/>
<line x1="468.8" y1="335.768" x2="468.8" y2="339.74399999999997" stroke="#231f20" stroke-width="0.7"/>
<line x1="467.2" y1="335.768" x2="470.40000000000003" y2="335.768" stroke="#231f20" stroke-width="0.7"/>
<line x1="467.2" y1="339.74399999999997" x2="470.40000000000003" y2="339.74399999999997" stroke="#231f20" stroke-width="0.7"/>
<circle cx="468.80" cy="337.76" r="1.80" fill="#c8102e"/>
<line x1="485.2" y1="319.296" x2="485.2" y2="330.088" stroke="#231f20" stroke-width="0.7"/>
<line x1="483.59999999999997" y1="319.296" x2="486.8" y2="319.296" stroke="#231f20" stroke-width="0.7"/>
<line x1="483.59999999999997" y1="330.088" x2="486.8" y2="330.088" stroke="#231f20" stroke-width="0.7"/>
<circle cx="485.20" cy="324.69" r="1.80" fill="#c8102e"/>
<polyline points="452.4,351.4 468.8,348.0 485.2,344.6" fill="none" stroke="#1a4a8a" stroke-width="1.5"/>
<line x1="452.4" y1="350.82" x2="452.4" y2="351.95599999999996" stroke="#231f20" stroke-width="0.7"/>
<line x1="450.79999999999995" y1="350.82" x2="454.0" y2="350.82" stroke="#231f20" stroke-width="0.7"/>
<line x1="450.79999999999995" y1="351.95599999999996" x2="454.0" y2="351.95599999999996" stroke="#231f20" stroke-width="0.7"/>
<rect x="450.60" y="349.59" width="3.60" height="3.60" fill="#1a4a8a"/>
<line x1="468.8" y1="347.12800000000004" x2="468.8" y2="348.832" stroke="#231f20" stroke-width="0.7"/>
<line x1="467.2" y1="347.12800000000004" x2="470.40000000000003" y2="347.12800000000004" stroke="#231f20" stroke-width="0.7"/>
<line x1="467.2" y1="348.832" x2="470.40000000000003" y2="348.832" stroke="#231f20" stroke-width="0.7"/>
<rect x="467.00" y="346.18" width="3.60" height="3.60" fill="#1a4a8a"/>
<line x1="485.2" y1="342.584" x2="485.2" y2="346.56" stroke="#231f20" stroke-width="0.7"/>
<line x1="483.59999999999997" y1="342.584" x2="486.8" y2="342.584" stroke="#231f20" stroke-width="0.7"/>
<line x1="483.59999999999997" y1="346.56" x2="486.8" y2="346.56" stroke="#231f20" stroke-width="0.7"/>
<rect x="483.40" y="342.77" width="3.60" height="3.60" fill="#1a4a8a"/>
<path d="M488.5,327.2 L491.5,327.2 L491.5,344.7 L488.5,344.7" fill="none" stroke="#231f20" stroke-width="1.0"/>
<circle cx="495.1" cy="334.45" r="0.95" fill="#231f20"/>
<circle cx="495.1" cy="337.45" r="0.95" fill="#231f20"/>
<text x="419.5" y="366.8" font-size="6.6" text-anchor="start" fill="#231f20" textLength="24.0" lengthAdjust="spacingAndGlyphs">BAFF (h)</text>
<text x="452.4" y="366.8" font-size="7.0" text-anchor="middle" fill="#231f20">0</text>
<text x="468.8" y="366.8" font-size="7.0" text-anchor="middle" fill="#231f20">6</text>
<text x="485.2" y="366.8" font-size="7.0" text-anchor="middle" fill="#231f20">12</text>
<text x="417.0" y="325.3" font-size="7.6" text-anchor="middle" fill="#231f20" transform="rotate(-90 417.0 325.3)" textLength="45.6" lengthAdjust="spacingAndGlyphs">p52 protein level</text>
<text x="425.8" y="325.6" font-size="7.6" text-anchor="middle" fill="#231f20" transform="rotate(-90 425.8 325.6)" textLength="35.1" lengthAdjust="spacingAndGlyphs">fold changes</text>
<path d="M39.5,404.3 L39.50,404.05 L39.84,404.05 L40.19,404.05 L40.53,404.05 L40.88,404.05 L41.22,404.05 L41.57,404.05 L41.91,404.05 L42.26,404.05 L42.60,404.05 L42.95,404.05 L43.29,404.05 L43.64,404.05 L43.98,404.05 L44.33,404.05 L44.67,404.05 L45.01,404.05 L45.36,404.05 L45.70,404.05 L46.05,404.05 L46.39,404.05 L46.74,404.05 L47.08,404.05 L47.43,403.95 L47.77,403.68 L48.12,403.26 L48.46,402.61 L48.81,401.68 L49.15,400.41 L49.50,398.78 L49.84,396.78 L50.18,394.51 L50.53,392.08 L50.87,389.70 L51.22,387.60 L51.56,386.00 L51.91,385.11 L52.25,385.00 L52.60,385.48 L52.94,386.44 L53.29,387.83 L53.63,389.52 L53.98,391.40 L54.32,393.35 L54.67,394.67 L55.01,394.91 L55.35,395.35 L55.70,395.94 L56.04,396.67 L56.39,397.49 L56.73,398.35 L57.08,399.21 L57.42,400.04 L57.77,400.82 L58.11,401.51 L58.46,401.98 L58.80,402.00 L59.15,402.04 L59.49,402.10 L59.84,402.17 L60.18,402.27 L60.52,402.37 L60.87,402.49 L61.21,402.61 L61.56,402.75 L61.90,402.88 L62.25,403.01 L62.59,403.14 L62.94,403.27 L63.28,403.39 L63.63,403.51 L63.97,403.61 L64.32,403.71 L64.66,403.80 L65.01,403.88 L65.35,403.95 L65.69,404.01 L66.04,404.05 L66.38,404.05 L66.73,404.05 L67.07,404.05 L67.42,404.05 L67.76,404.05 L68.11,404.05 L68.45,404.05 L68.80,404.05 L69.14,404.05 L69.49,404.05 L69.83,403.98 L70.18,403.90 L70.52,403.81 L70.86,403.70 L71.21,403.57 L71.55,403.41 L71.90,403.23 L72.24,403.03 L72.59,402.79 L72.93,402.52 L73.28,402.22 L73.62,401.89 L73.97,401.52 L74.31,401.11 L74.66,400.68 L75.00,400.21 L75.35,399.71 L75.69,399.19 L76.03,398.65 L76.38,398.09 L76.72,397.53 L77.07,396.97 L77.41,396.41 L77.76,395.88 L78.10,395.36 L78.45,394.89 L78.79,394.45 L79.14,394.07 L79.48,393.74 L79.83,393.48 L80.17,393.29 L80.52,393.18 L80.86,393.14 L81.20,392.32 L81.55,389.81 L81.89,387.39 L82.24,385.27 L82.58,383.66 L82.93,382.70 L83.27,382.51 L83.62,383.30 L83.96,385.04 L84.31,387.49 L84.65,390.33 L85.00,393.25 L85.34,395.98 L85.69,398.34 L86.03,400.23 L86.37,401.66 L86.72,402.67 L87.06,403.34 L87.41,403.76 L87.75,404.01 L88.10,404.05 L88.44,404.05 L88.79,404.05 L89.13,404.05 L89.48,404.05 L89.82,404.05 L90.17,404.05 L90.51,404.05 L90.86,404.05 L91.20,404.05 L91.2,404.3 Z" fill="#c8102e" stroke="#b00c26" stroke-width="0.3"/>
<rect x="38.9" y="379.2" width="52.9" height="25.600000000000023" fill="none" stroke="#1e1e1e" stroke-width="1.05"/>
<path d="M37.0,381.2H38.4 M37.0,383.8H38.4 M37.0,386.3H38.4 M37.0,388.9H38.4 M37.0,391.5H38.4 M37.0,394.0H38.4 M37.0,396.6H38.4 M37.0,399.2H38.4 M37.0,401.7H38.4 M37.0,404.3H38.4" stroke="#231f20" stroke-width="0.6" fill="none"/>
<path d="M40.9,405.3V406.6 M45.0,405.3V406.6 M49.0,405.3V406.6 M53.1,405.3V406.6 M57.2,405.3V406.6 M61.3,405.3V406.6 M65.3,405.3V406.6 M69.4,405.3V406.6 M73.5,405.3V406.6 M77.6,405.3V406.6 M81.7,405.3V406.6 M85.7,405.3V406.6 M89.8,405.3V406.6" stroke="#231f20" stroke-width="0.6" fill="none"/>
<line x1="71.169" y1="400.7" x2="91.8" y2="400.7" stroke="#231f20" stroke-width="1.0"/>
<line x1="71.169" y1="399.7" x2="71.169" y2="401.7" stroke="#231f20" stroke-width="0.8"/>
<text x="69.9" y="393.9" font-size="7.2" text-anchor="middle" fill="#231f20" textLength="12.2" lengthAdjust="spacingAndGlyphs">50.8</text>
<path d="M97.9,404.3 L97.90,404.05 L98.25,404.05 L98.59,404.05 L98.94,404.05 L99.28,404.05 L99.63,404.05 L99.98,404.05 L100.32,404.05 L100.67,404.05 L101.01,404.05 L101.36,404.05 L101.71,404.05 L102.05,404.05 L102.40,404.05 L102.74,404.05 L103.09,404.05 L103.44,404.05 L103.78,404.05 L104.13,404.05 L104.47,404.05 L104.82,404.05 L105.17,404.05 L105.51,404.05 L105.86,404.05 L106.20,403.95 L106.55,403.68 L106.90,403.24 L107.24,402.57 L107.59,401.60 L107.93,400.26 L108.28,398.50 L108.63,396.34 L108.97,393.84 L109.32,391.14 L109.66,388.44 L110.01,386.00 L110.36,384.07 L110.70,382.90 L111.05,382.61 L111.39,383.03 L111.74,384.01 L112.09,385.48 L112.43,387.32 L112.78,389.39 L113.12,391.58 L113.47,393.47 L113.82,393.70 L114.16,394.14 L114.51,394.78 L114.85,395.57 L115.20,396.47 L115.55,397.43 L115.89,398.40 L116.24,399.34 L116.58,400.23 L116.93,401.03 L117.28,401.70 L117.62,401.71 L117.97,401.75 L118.31,401.81 L118.66,401.90 L119.01,402.00 L119.35,402.11 L119.70,402.24 L120.04,402.38 L120.39,402.53 L120.74,402.68 L121.08,402.83 L121.43,402.97 L121.77,403.12 L122.12,403.26 L122.47,403.39 L122.81,403.51 L123.16,403.62 L123.50,403.72 L123.85,403.81 L124.20,403.89 L124.54,403.96 L124.89,404.02 L125.23,404.05 L125.58,404.05 L125.93,404.05 L126.27,404.05 L126.62,404.05 L126.96,404.05 L127.31,404.05 L127.66,404.05 L128.00,404.05 L128.35,404.05 L128.69,404.05 L129.04,404.05 L129.39,404.05 L129.73,404.05 L130.08,404.05 L130.42,404.05 L130.77,404.05 L131.12,404.05 L131.46,404.05 L131.81,404.05 L132.15,404.05 L132.50,404.05 L132.85,404.05 L133.19,404.05 L133.54,404.05 L133.88,404.05 L134.23,404.05 L134.58,404.05 L134.92,404.05 L135.27,404.05 L135.61,404.05 L135.96,404.05 L136.31,404.05 L136.65,404.05 L137.00,404.05 L137.34,404.05 L137.69,404.05 L138.04,404.05 L138.38,404.05 L138.73,404.05 L139.07,403.95 L139.42,403.70 L139.77,403.31 L140.11,402.76 L140.46,402.01 L140.80,401.07 L141.15,399.95 L141.50,398.73 L141.84,397.52 L142.19,396.44 L142.53,395.62 L142.88,395.18 L143.23,395.25 L143.57,396.20 L143.92,397.82 L144.26,399.65 L144.61,401.32 L144.96,402.59 L145.30,403.42 L145.65,403.90 L145.99,404.05 L146.34,404.05 L146.69,404.05 L147.03,404.05 L147.38,404.05 L147.72,404.05 L148.07,404.05 L148.42,404.05 L148.76,404.05 L149.11,404.05 L149.45,404.05 L149.80,404.05 L149.8,404.3 Z" fill="#c8102e" stroke="#b00c26" stroke-width="0.3"/>
<rect x="97.3" y="379.2" width="53.1" height="25.600000000000023" fill="none" stroke="#1e1e1e" stroke-width="1.05"/>
<path d="M95.4,381.2H96.8 M95.4,383.8H96.8 M95.4,386.3H96.8 M95.4,388.9H96.8 M95.4,391.5H96.8 M95.4,394.0H96.8 M95.4,396.6H96.8 M95.4,399.2H96.8 M95.4,401.7H96.8 M95.4,404.3H96.8" stroke="#231f20" stroke-width="0.6" fill="none"/>
<path d="M99.3,405.3V406.6 M103.4,405.3V406.6 M107.5,405.3V406.6 M111.6,405.3V406.6 M115.7,405.3V406.6 M119.8,405.3V406.6 M123.8,405.3V406.6 M127.9,405.3V406.6 M132.0,405.3V406.6 M136.1,405.3V406.6 M140.2,405.3V406.6 M144.3,405.3V406.6 M148.4,405.3V406.6" stroke="#231f20" stroke-width="0.6" fill="none"/>
<line x1="129.691" y1="400.7" x2="150.4" y2="400.7" stroke="#231f20" stroke-width="1.0"/>
<line x1="129.691" y1="399.7" x2="129.691" y2="401.7" stroke="#231f20" stroke-width="0.8"/>
<text x="128.3" y="393.9" font-size="7.2" text-anchor="middle" fill="#231f20" textLength="12.2" lengthAdjust="spacingAndGlyphs">23.0</text>
<path d="M157.2,404.3 L157.20,404.05 L157.54,404.05 L157.88,404.05 L158.22,404.05 L158.56,404.05 L158.90,404.05 L159.24,404.05 L159.58,404.05 L159.91,404.05 L160.25,404.05 L160.59,404.05 L160.93,404.05 L161.27,404.05 L161.61,404.05 L161.95,404.05 L162.29,404.05 L162.63,404.05 L162.97,404.05 L163.31,404.05 L163.65,404.05 L163.99,404.05 L164.33,404.05 L164.67,404.05 L165.00,403.85 L165.34,403.51 L165.68,402.98 L166.02,402.19 L166.36,401.07 L166.70,399.57 L167.04,397.67 L167.38,395.39 L167.72,392.84 L168.06,390.19 L168.40,387.66 L168.74,385.51 L169.08,383.98 L169.42,383.26 L169.76,383.36 L170.09,384.05 L170.43,385.25 L170.77,386.87 L171.11,388.79 L171.45,390.88 L171.79,393.00 L172.13,393.86 L172.47,394.19 L172.81,394.72 L173.15,395.42 L173.49,396.25 L173.83,397.15 L174.17,398.10 L174.51,399.03 L174.85,399.92 L175.18,400.74 L175.52,401.47 L175.86,401.78 L176.20,401.80 L176.54,401.85 L176.88,401.92 L177.22,402.01 L177.56,402.12 L177.90,402.24 L178.24,402.37 L178.58,402.51 L178.92,402.65 L179.26,402.79 L179.60,402.94 L179.94,403.08 L180.27,403.22 L180.61,403.35 L180.95,403.47 L181.29,403.59 L181.63,403.69 L181.97,403.78 L182.31,403.86 L182.65,403.94 L182.99,404.00 L183.33,404.05 L183.67,404.05 L184.01,404.05 L184.35,404.05 L184.69,404.05 L185.03,404.05 L185.36,404.05 L185.70,404.05 L186.04,404.05 L186.38,404.05 L186.72,404.05 L187.06,404.05 L187.40,404.05 L187.74,404.05 L188.08,404.05 L188.42,404.05 L188.76,404.05 L189.10,404.05 L189.44,404.05 L189.78,404.05 L190.12,404.05 L190.45,404.05 L190.79,404.05 L191.13,404.05 L191.47,404.05 L191.81,404.05 L192.15,404.05 L192.49,404.05 L192.83,404.05 L193.17,404.05 L193.51,404.05 L193.85,404.05 L194.19,404.05 L194.53,404.05 L194.87,404.05 L195.21,404.05 L195.54,404.05 L195.88,404.05 L196.22,404.05 L196.56,404.05 L196.90,404.05 L197.24,404.05 L197.58,404.05 L197.92,404.05 L198.26,404.05 L198.60,403.78 L198.94,403.26 L199.28,402.41 L199.62,401.15 L199.96,399.51 L200.30,397.67 L200.63,395.92 L200.97,394.63 L201.31,394.13 L201.65,394.90 L201.99,396.99 L202.33,399.52 L202.67,401.68 L203.01,403.09 L203.35,403.83 L203.69,404.05 L204.03,404.05 L204.37,404.05 L204.71,404.05 L205.05,404.05 L205.39,404.05 L205.72,404.05 L206.06,404.05 L206.40,404.05 L206.74,404.05 L207.08,404.05 L207.42,404.05 L207.76,404.05 L208.10,404.05 L208.1,404.3 Z" fill="#c8102e" stroke="#b00c26" stroke-width="0.3"/>
<rect x="156.6" y="379.2" width="52.1" height="25.600000000000023" fill="none" stroke="#1e1e1e" stroke-width="1.05"/>
<path d="M154.7,381.2H156.1 M154.7,383.8H156.1 M154.7,386.3H156.1 M154.7,388.9H156.1 M154.7,391.5H156.1 M154.7,394.0H156.1 M154.7,396.6H156.1 M154.7,399.2H156.1 M154.7,401.7H156.1 M154.7,404.3H156.1" stroke="#231f20" stroke-width="0.6" fill="none"/>
<path d="M158.6,405.3V406.6 M162.6,405.3V406.6 M166.6,405.3V406.6 M170.6,405.3V406.6 M174.6,405.3V406.6 M178.6,405.3V406.6 M182.6,405.3V406.6 M186.7,405.3V406.6 M190.7,405.3V406.6 M194.7,405.3V406.6 M198.7,405.3V406.6 M202.7,405.3V406.6 M206.7,405.3V406.6" stroke="#231f20" stroke-width="0.6" fill="none"/>
<line x1="188.381" y1="400.7" x2="208.7" y2="400.7" stroke="#231f20" stroke-width="1.0"/>
<line x1="188.381" y1="399.7" x2="188.381" y2="401.7" stroke="#231f20" stroke-width="0.8"/>
<text x="187.6" y="393.9" font-size="7.2" text-anchor="middle" fill="#231f20" textLength="12.2" lengthAdjust="spacingAndGlyphs">22.3</text>
<path d="M39.5,438.3 L39.50,438.05 L39.84,438.05 L40.19,438.05 L40.53,438.05 L40.88,438.05 L41.22,438.05 L41.57,438.05 L41.91,438.05 L42.26,438.05 L42.60,438.05 L42.95,438.05 L43.29,438.05 L43.64,438.05 L43.98,438.05 L44.33,438.05 L44.67,438.05 L45.01,438.05 L45.36,438.05 L45.70,438.05 L46.05,438.05 L46.39,438.05 L46.74,438.05 L47.08,438.05 L47.43,438.05 L47.77,438.05 L48.12,437.97 L48.46,437.73 L48.81,437.33 L49.15,436.74 L49.50,435.88 L49.84,434.72 L50.18,433.22 L50.53,431.40 L50.87,429.33 L51.22,427.13 L51.56,424.99 L51.91,423.10 L52.25,421.69 L52.60,420.91 L52.94,420.85 L53.29,421.30 L53.63,422.20 L53.98,423.47 L54.32,425.01 L54.67,426.72 L55.01,428.48 L55.35,429.60 L55.70,429.82 L56.04,430.22 L56.39,430.77 L56.73,431.43 L57.08,432.17 L57.42,432.95 L57.77,433.74 L58.11,434.49 L58.46,435.18 L58.80,435.81 L59.15,436.20 L59.49,436.22 L59.84,436.26 L60.18,436.31 L60.52,436.38 L60.87,436.46 L61.21,436.56 L61.56,436.67 L61.90,436.78 L62.25,436.90 L62.59,437.02 L62.94,437.14 L63.28,437.26 L63.63,437.38 L63.97,437.49 L64.32,437.59 L64.66,437.68 L65.01,437.77 L65.35,437.85 L65.69,437.92 L66.04,437.98 L66.38,438.04 L66.73,438.05 L67.07,438.05 L67.42,438.05 L67.76,438.05 L68.11,438.05 L68.45,438.05 L68.80,438.05 L69.14,438.01 L69.49,437.94 L69.83,437.85 L70.18,437.75 L70.52,437.63 L70.86,437.49 L71.21,437.32 L71.55,437.12 L71.90,436.90 L72.24,436.65 L72.59,436.36 L72.93,436.04 L73.28,435.69 L73.62,435.30 L73.97,434.87 L74.31,434.42 L74.66,433.93 L75.00,433.42 L75.35,432.88 L75.69,432.33 L76.03,431.76 L76.38,431.19 L76.72,430.63 L77.07,430.08 L77.41,429.55 L77.76,429.05 L78.10,428.59 L78.45,428.17 L78.79,427.81 L79.14,427.52 L79.48,427.29 L79.83,427.14 L80.17,427.06 L80.52,425.88 L80.86,423.41 L81.20,421.08 L81.55,419.10 L81.89,417.66 L82.24,416.90 L82.58,416.93 L82.93,417.96 L83.27,419.87 L83.62,422.41 L83.96,425.26 L84.31,428.11 L84.65,430.73 L85.00,432.94 L85.34,434.69 L85.69,435.98 L86.03,436.89 L86.37,437.48 L86.72,437.85 L87.06,438.05 L87.41,438.05 L87.75,438.05 L88.10,438.05 L88.44,438.05 L88.79,438.05 L89.13,438.05 L89.48,438.05 L89.82,438.05 L90.17,438.05 L90.51,438.05 L90.86,438.05 L91.20,438.05 L91.2,438.3 Z" fill="#c8102e" stroke="#b00c26" stroke-width="0.3"/>
<rect x="38.9" y="413.0" width="52.9" height="25.80000000000001" fill="none" stroke="#1e1e1e" stroke-width="1.05"/>
<path d="M37.0,415.0H38.4 M37.0,417.6H38.4 M37.0,420.2H38.4 M37.0,422.8H38.4 M37.0,425.4H38.4 M37.0,427.9H38.4 M37.0,430.5H38.4 M37.0,433.1H38.4 M37.0,435.7H38.4 M37.0,438.3H38.4" stroke="#231f20" stroke-width="0.6" fill="none"/>
<path d="M40.9,439.3V440.6 M45.0,439.3V440.6 M49.0,439.3V440.6 M53.1,439.3V440.6 M57.2,439.3V440.6 M61.3,439.3V440.6 M65.3,439.3V440.6 M69.4,439.3V440.6 M73.5,439.3V440.6 M77.6,439.3V440.6 M81.7,439.3V440.6 M85.7,439.3V440.6 M89.8,439.3V440.6" stroke="#231f20" stroke-width="0.6" fill="none"/>
<line x1="71.169" y1="435.0" x2="91.8" y2="435.0" stroke="#231f20" stroke-width="1.0"/>
<line x1="71.169" y1="434.0" x2="71.169" y2="436.0" stroke="#231f20" stroke-width="0.8"/>
<text x="69.9" y="428.9" font-size="7.2" text-anchor="middle" fill="#231f20" textLength="12.2" lengthAdjust="spacingAndGlyphs">54.9</text>
<path d="M97.9,438.3 L97.90,438.05 L98.25,438.05 L98.59,438.05 L98.94,438.05 L99.28,438.05 L99.63,438.05 L99.98,438.05 L100.32,438.05 L100.67,438.05 L101.01,438.05 L101.36,438.05 L101.71,438.05 L102.05,438.05 L102.40,438.05 L102.74,438.05 L103.09,438.05 L103.44,438.05 L103.78,438.05 L104.13,438.05 L104.47,438.05 L104.82,438.05 L105.17,438.05 L105.51,438.05 L105.86,438.05 L106.20,438.05 L106.55,438.01 L106.90,437.78 L107.24,437.40 L107.59,436.82 L107.93,435.96 L108.28,434.77 L108.63,433.19 L108.97,431.22 L109.32,428.91 L109.66,426.38 L110.01,423.81 L110.36,421.44 L110.70,419.50 L111.05,418.24 L111.39,417.80 L111.74,418.08 L112.09,418.91 L112.43,420.21 L112.78,421.88 L113.12,423.81 L113.47,425.87 L113.82,427.92 L114.16,428.22 L114.51,428.60 L114.85,429.17 L115.20,429.89 L115.55,430.73 L115.89,431.62 L116.24,432.54 L116.58,433.44 L116.93,434.29 L117.28,435.06 L117.62,435.74 L117.97,435.85 L118.31,435.88 L118.66,435.94 L119.01,436.01 L119.35,436.10 L119.70,436.21 L120.04,436.33 L120.39,436.46 L120.74,436.60 L121.08,436.74 L121.43,436.88 L121.77,437.02 L122.12,437.16 L122.47,437.29 L122.81,437.41 L123.16,437.53 L123.50,437.64 L123.85,437.73 L124.20,437.82 L124.54,437.90 L124.89,437.97 L125.23,438.03 L125.58,438.05 L125.93,438.05 L126.27,438.05 L126.62,438.05 L126.96,438.05 L127.31,438.05 L127.66,438.05 L128.00,438.05 L128.35,438.05 L128.69,438.05 L129.04,438.05 L129.39,438.05 L129.73,438.05 L130.08,438.05 L130.42,438.05 L130.77,438.05 L131.12,438.05 L131.46,438.05 L131.81,438.05 L132.15,438.05 L132.50,438.05 L132.85,438.05 L133.19,438.05 L133.54,438.05 L133.88,438.05 L134.23,438.05 L134.58,438.05 L134.92,438.05 L135.27,438.05 L135.61,438.05 L135.96,438.05 L136.31,438.05 L136.65,438.05 L137.00,438.05 L137.34,438.05 L137.69,438.05 L138.04,438.05 L138.38,438.05 L138.73,438.05 L139.07,438.05 L139.42,438.05 L139.77,438.05 L140.11,438.05 L140.46,437.95 L140.80,437.73 L141.15,437.40 L141.50,436.92 L141.84,436.26 L142.19,435.39 L142.53,434.30 L142.88,433.00 L143.23,431.53 L143.57,429.96 L143.92,428.39 L144.26,426.95 L144.61,425.76 L144.96,424.93 L145.30,424.57 L145.65,424.90 L145.99,426.35 L146.34,428.58 L146.69,431.09 L147.03,433.42 L147.38,435.29 L147.72,436.60 L148.07,437.43 L148.42,437.89 L148.76,438.05 L149.11,438.05 L149.45,438.05 L149.80,438.05 L149.8,438.3 Z" fill="#c8102e" stroke="#b00c26" stroke-width="0.3"/>
<rect x="97.3" y="413.0" width="53.1" height="25.80000000000001" fill="none" stroke="#1e1e1e" stroke-width="1.05"/>
<path d="M95.4,415.0H96.8 M95.4,417.6H96.8 M95.4,420.2H96.8 M95.4,422.8H96.8 M95.4,425.4H96.8 M95.4,427.9H96.8 M95.4,430.5H96.8 M95.4,433.1H96.8 M95.4,435.7H96.8 M95.4,438.3H96.8" stroke="#231f20" stroke-width="0.6" fill="none"/>
<path d="M99.3,439.3V440.6 M103.4,439.3V440.6 M107.5,439.3V440.6 M111.6,439.3V440.6 M115.7,439.3V440.6 M119.8,439.3V440.6 M123.8,439.3V440.6 M127.9,439.3V440.6 M132.0,439.3V440.6 M136.1,439.3V440.6 M140.2,439.3V440.6 M144.3,439.3V440.6 M148.4,439.3V440.6" stroke="#231f20" stroke-width="0.6" fill="none"/>
<line x1="129.691" y1="435.0" x2="150.4" y2="435.0" stroke="#231f20" stroke-width="1.0"/>
<line x1="129.691" y1="434.0" x2="129.691" y2="436.0" stroke="#231f20" stroke-width="0.8"/>
<text x="128.3" y="428.9" font-size="7.2" text-anchor="middle" fill="#231f20" textLength="12.2" lengthAdjust="spacingAndGlyphs">34.4</text>
<path d="M157.2,438.3 L157.20,438.05 L157.54,438.05 L157.88,438.05 L158.22,438.05 L158.56,438.05 L158.90,438.05 L159.24,438.05 L159.58,438.05 L159.91,438.05 L160.25,438.05 L160.59,438.05 L160.93,438.05 L161.27,438.05 L161.61,438.05 L161.95,438.05 L162.29,438.05 L162.63,438.05 L162.97,438.05 L163.31,438.05 L163.65,438.05 L163.99,438.05 L164.33,438.05 L164.67,438.05 L165.00,437.91 L165.34,437.62 L165.68,437.16 L166.02,436.47 L166.36,435.51 L166.70,434.21 L167.04,432.56 L167.38,430.59 L167.72,428.38 L168.06,426.08 L168.40,423.89 L168.74,422.03 L169.08,420.71 L169.42,420.09 L169.76,420.17 L170.09,420.77 L170.43,421.81 L170.77,423.21 L171.11,424.87 L171.45,426.68 L171.79,428.52 L172.13,429.26 L172.47,429.55 L172.81,430.01 L173.15,430.61 L173.49,431.33 L173.83,432.11 L174.17,432.93 L174.51,433.74 L174.85,434.51 L175.18,435.22 L175.52,435.85 L175.86,436.11 L176.20,436.14 L176.54,436.18 L176.88,436.24 L177.22,436.32 L177.56,436.41 L177.90,436.51 L178.24,436.63 L178.58,436.75 L178.92,436.87 L179.26,437.00 L179.60,437.12 L179.94,437.25 L180.27,437.37 L180.61,437.48 L180.95,437.58 L181.29,437.68 L181.63,437.77 L181.97,437.85 L182.31,437.92 L182.65,437.99 L182.99,438.04 L183.33,438.05 L183.67,437.89 L184.01,437.67 L184.35,437.42 L184.69,437.20 L185.03,437.07 L185.36,437.07 L185.70,437.20 L186.04,437.42 L186.38,437.67 L186.72,437.89 L187.06,438.05 L187.40,438.05 L187.74,438.05 L188.08,438.00 L188.42,437.94 L188.76,437.86 L189.10,437.77 L189.44,437.67 L189.78,437.56 L190.12,437.42 L190.45,437.28 L190.79,437.11 L191.13,436.93 L191.47,436.73 L191.81,436.51 L192.15,436.28 L192.49,436.04 L192.83,435.78 L193.17,435.52 L193.51,435.24 L193.85,434.96 L194.19,434.69 L194.53,434.41 L194.87,434.15 L195.21,433.90 L195.54,433.66 L195.88,433.45 L196.22,433.26 L196.56,433.10 L196.90,432.97 L197.24,432.88 L197.58,432.82 L197.92,432.80 L198.26,432.85 L198.60,432.99 L198.94,433.22 L199.28,433.53 L199.62,433.90 L199.96,433.79 L200.30,433.13 L200.63,432.47 L200.97,431.84 L201.31,431.27 L201.65,430.79 L201.99,430.41 L202.33,430.16 L202.67,430.05 L203.01,430.16 L203.35,430.65 L203.69,431.46 L204.03,432.47 L204.37,433.57 L204.71,434.65 L205.05,435.62 L205.39,436.43 L205.72,437.05 L206.06,437.51 L206.40,437.82 L206.74,438.03 L207.08,438.05 L207.42,438.05 L207.76,438.05 L208.10,438.05 L208.1,438.3 Z" fill="#c8102e" stroke="#b00c26" stroke-width="0.3"/>
<rect x="156.6" y="413.0" width="52.1" height="25.80000000000001" fill="none" stroke="#1e1e1e" stroke-width="1.05"/>
<path d="M154.7,415.0H156.1 M154.7,417.6H156.1 M154.7,420.2H156.1 M154.7,422.8H156.1 M154.7,425.4H156.1 M154.7,427.9H156.1 M154.7,430.5H156.1 M154.7,433.1H156.1 M154.7,435.7H156.1 M154.7,438.3H156.1" stroke="#231f20" stroke-width="0.6" fill="none"/>
<path d="M158.6,439.3V440.6 M162.6,439.3V440.6 M166.6,439.3V440.6 M170.6,439.3V440.6 M174.6,439.3V440.6 M178.6,439.3V440.6 M182.6,439.3V440.6 M186.7,439.3V440.6 M190.7,439.3V440.6 M194.7,439.3V440.6 M198.7,439.3V440.6 M202.7,439.3V440.6 M206.7,439.3V440.6" stroke="#231f20" stroke-width="0.6" fill="none"/>
<line x1="188.381" y1="435.0" x2="208.7" y2="435.0" stroke="#231f20" stroke-width="1.0"/>
<line x1="188.381" y1="434.0" x2="188.381" y2="436.0" stroke="#231f20" stroke-width="0.8"/>
<text x="187.6" y="428.9" font-size="7.2" text-anchor="middle" fill="#231f20" textLength="12.2" lengthAdjust="spacingAndGlyphs">33.8</text>
<path d="M39.5,473.2 L39.50,472.95 L39.84,472.95 L40.19,472.95 L40.53,472.95 L40.88,472.95 L41.22,472.95 L41.57,472.95 L41.91,472.95 L42.26,472.95 L42.60,472.95 L42.95,472.95 L43.29,472.95 L43.64,472.95 L43.98,472.95 L44.33,472.95 L44.67,472.95 L45.01,472.95 L45.36,472.95 L45.70,472.95 L46.05,472.95 L46.39,472.95 L46.74,472.95 L47.08,472.86 L47.43,472.59 L47.77,472.17 L48.12,471.53 L48.46,470.59 L48.81,469.31 L49.15,467.65 L49.50,465.62 L49.84,463.28 L50.18,460.77 L50.53,458.28 L50.87,456.06 L51.22,454.34 L51.56,453.33 L51.91,453.15 L52.25,453.59 L52.60,454.54 L52.94,455.94 L53.29,457.67 L53.63,459.61 L53.98,461.63 L54.32,463.19 L54.67,463.42 L55.01,463.85 L55.35,464.46 L55.70,465.20 L56.04,466.04 L56.39,466.93 L56.73,467.83 L57.08,468.70 L57.42,469.51 L57.77,470.24 L58.11,470.79 L58.46,470.81 L58.80,470.85 L59.15,470.91 L59.49,470.98 L59.84,471.08 L60.18,471.19 L60.52,471.31 L60.87,471.44 L61.21,471.57 L61.56,471.71 L61.90,471.85 L62.25,471.99 L62.59,472.12 L62.94,472.25 L63.28,472.37 L63.63,472.48 L63.97,472.58 L64.32,472.67 L64.66,472.76 L65.01,472.83 L65.35,472.89 L65.69,472.95 L66.04,472.95 L66.38,472.95 L66.73,472.95 L67.07,472.95 L67.42,472.95 L67.76,472.95 L68.11,472.95 L68.45,472.95 L68.80,472.95 L69.14,472.95 L69.49,472.95 L69.83,472.95 L70.18,472.95 L70.52,472.95 L70.86,472.95 L71.21,472.95 L71.55,472.95 L71.90,472.95 L72.24,472.95 L72.59,472.95 L72.93,472.95 L73.28,472.95 L73.62,472.95 L73.97,472.95 L74.31,472.95 L74.66,472.95 L75.00,472.95 L75.35,472.95 L75.69,472.95 L76.03,472.95 L76.38,472.91 L76.72,472.79 L77.07,472.64 L77.41,472.43 L77.76,472.18 L78.10,471.86 L78.45,471.47 L78.79,471.01 L79.14,470.48 L79.48,469.88 L79.83,469.21 L80.17,468.50 L80.52,467.75 L80.86,467.01 L81.20,466.28 L81.55,465.60 L81.89,465.00 L82.24,464.52 L82.58,464.16 L82.93,463.96 L83.27,463.93 L83.62,464.26 L83.96,465.00 L84.31,466.04 L84.65,467.25 L85.00,468.50 L85.34,469.66 L85.69,470.66 L86.03,471.47 L86.37,472.08 L86.72,472.51 L87.06,472.79 L87.41,472.95 L87.75,472.95 L88.10,472.95 L88.44,472.95 L88.79,472.95 L89.13,472.95 L89.48,472.95 L89.82,472.95 L90.17,472.95 L90.51,472.95 L90.86,472.95 L91.20,472.95 L91.2,473.2 Z" fill="#c8102e" stroke="#b00c26" stroke-width="0.3"/>
<rect x="38.9" y="447.8" width="52.9" height="25.899999999999977" fill="none" stroke="#1e1e1e" stroke-width="1.05"/>
<path d="M37.0,449.8H38.4 M37.0,452.4H38.4 M37.0,455.0H38.4 M37.0,457.6H38.4 M37.0,460.2H38.4 M37.0,462.8H38.4 M37.0,465.4H38.4 M37.0,468.0H38.4 M37.0,470.6H38.4 M37.0,473.2H38.4" stroke="#231f20" stroke-width="0.6" fill="none"/>
<path d="M40.9,474.2V475.5 M45.0,474.2V475.5 M49.0,474.2V475.5 M53.1,474.2V475.5 M57.2,474.2V475.5 M61.3,474.2V475.5 M65.3,474.2V475.5 M69.4,474.2V475.5 M73.5,474.2V475.5 M77.6,474.2V475.5 M81.7,474.2V475.5 M85.7,474.2V475.5 M89.8,474.2V475.5" stroke="#231f20" stroke-width="0.6" fill="none"/>
<line x1="71.169" y1="469.40000000000003" x2="91.8" y2="469.40000000000003" stroke="#231f20" stroke-width="1.0"/>
<line x1="71.169" y1="468.40000000000003" x2="71.169" y2="470.40000000000003" stroke="#231f20" stroke-width="0.8"/>
<text x="69.9" y="464.40000000000003" font-size="7.2" text-anchor="middle" fill="#231f20" textLength="12.2" lengthAdjust="spacingAndGlyphs">22.8</text>
<path d="M97.9,473.2 L97.90,472.95 L98.25,472.95 L98.59,472.95 L98.94,472.95 L99.28,472.95 L99.63,472.95 L99.98,472.95 L100.32,472.95 L100.67,472.95 L101.01,472.95 L101.36,472.95 L101.71,472.95 L102.05,472.95 L102.40,472.95 L102.74,472.95 L103.09,472.95 L103.44,472.95 L103.78,472.95 L104.13,472.95 L104.47,472.95 L104.82,472.95 L105.17,472.95 L105.51,472.95 L105.86,472.95 L106.20,472.82 L106.55,472.52 L106.90,472.06 L107.24,471.36 L107.59,470.37 L107.93,469.01 L108.28,467.28 L108.63,465.17 L108.97,462.78 L109.32,460.26 L109.66,457.81 L110.01,455.67 L110.36,454.08 L110.70,453.23 L111.05,453.19 L111.39,453.74 L111.74,454.79 L112.09,456.26 L112.43,458.04 L112.78,460.01 L113.12,462.03 L113.47,463.22 L113.82,463.49 L114.16,463.96 L114.51,464.60 L114.85,465.36 L115.20,466.22 L115.55,467.11 L115.89,468.01 L116.24,468.87 L116.58,469.66 L116.93,470.38 L117.28,470.79 L117.62,470.81 L117.97,470.86 L118.31,470.92 L118.66,471.00 L119.01,471.10 L119.35,471.21 L119.70,471.33 L120.04,471.46 L120.39,471.60 L120.74,471.74 L121.08,471.88 L121.43,472.01 L121.77,472.15 L122.12,472.27 L122.47,472.39 L122.81,472.50 L123.16,472.60 L123.50,472.69 L123.85,472.77 L124.20,472.84 L124.54,472.90 L124.89,472.95 L125.23,472.95 L125.58,472.95 L125.93,472.95 L126.27,472.95 L126.62,472.95 L126.96,472.95 L127.31,472.95 L127.66,472.95 L128.00,472.95 L128.35,472.95 L128.69,472.95 L129.04,472.95 L129.39,472.95 L129.73,472.95 L130.08,472.95 L130.42,472.95 L130.77,472.95 L131.12,472.95 L131.46,472.95 L131.81,472.95 L132.15,472.95 L132.50,472.95 L132.85,472.95 L133.19,472.95 L133.54,472.95 L133.88,472.95 L134.23,472.95 L134.58,472.95 L134.92,472.95 L135.27,472.95 L135.61,472.95 L135.96,472.95 L136.31,472.95 L136.65,472.95 L137.00,472.95 L137.34,472.95 L137.69,472.95 L138.04,472.95 L138.38,472.95 L138.73,472.95 L139.07,472.95 L139.42,472.95 L139.77,472.95 L140.11,472.95 L140.46,472.95 L140.80,472.95 L141.15,472.95 L141.50,472.95 L141.84,472.95 L142.19,472.95 L142.53,472.95 L142.88,472.95 L143.23,472.94 L143.57,472.61 L143.92,472.00 L144.26,471.02 L144.61,469.64 L144.96,468.01 L145.30,466.42 L145.65,465.28 L145.99,464.93 L146.34,465.98 L146.69,468.18 L147.03,470.41 L147.38,471.97 L147.72,472.77 L148.07,472.95 L148.42,472.95 L148.76,472.95 L149.11,472.95 L149.45,472.95 L149.80,472.95 L149.8,473.2 Z" fill="#c8102e" stroke="#b00c26" stroke-width="0.3"/>
<rect x="97.3" y="447.8" width="53.1" height="25.899999999999977" fill="none" stroke="#1e1e1e" stroke-width="1.05"/>
<path d="M95.4,449.8H96.8 M95.4,452.4H96.8 M95.4,455.0H96.8 M95.4,457.6H96.8 M95.4,460.2H96.8 M95.4,462.8H96.8 M95.4,465.4H96.8 M95.4,468.0H96.8 M95.4,470.6H96.8 M95.4,473.2H96.8" stroke="#231f20" stroke-width="0.6" fill="none"/>
<path d="M99.3,474.2V475.5 M103.4,474.2V475.5 M107.5,474.2V475.5 M111.6,474.2V475.5 M115.7,474.2V475.5 M119.8,474.2V475.5 M123.8,474.2V475.5 M127.9,474.2V475.5 M132.0,474.2V475.5 M136.1,474.2V475.5 M140.2,474.2V475.5 M144.3,474.2V475.5 M148.4,474.2V475.5" stroke="#231f20" stroke-width="0.6" fill="none"/>
<line x1="129.691" y1="469.40000000000003" x2="150.4" y2="469.40000000000003" stroke="#231f20" stroke-width="1.0"/>
<line x1="129.691" y1="468.40000000000003" x2="129.691" y2="470.40000000000003" stroke="#231f20" stroke-width="0.8"/>
<text x="128.3" y="464.40000000000003" font-size="7.2" text-anchor="middle" fill="#231f20" textLength="12.2" lengthAdjust="spacingAndGlyphs">16.8</text>
<path d="M157.2,473.2 L157.20,472.95 L157.54,472.95 L157.88,472.95 L158.22,472.95 L158.56,472.95 L158.90,472.95 L159.24,472.95 L159.58,472.95 L159.91,472.95 L160.25,472.95 L160.59,472.95 L160.93,472.95 L161.27,472.95 L161.61,472.95 L161.95,472.95 L162.29,472.95 L162.63,472.95 L162.97,472.95 L163.31,472.95 L163.65,472.95 L163.99,472.77 L164.33,472.45 L164.67,471.94 L165.00,471.19 L165.34,470.13 L165.68,468.70 L166.02,466.88 L166.36,464.71 L166.70,462.29 L167.04,459.76 L167.38,457.35 L167.72,455.30 L168.06,453.84 L168.40,453.16 L168.74,453.26 L169.08,453.91 L169.42,455.05 L169.76,456.60 L170.09,458.43 L170.43,460.41 L170.77,462.44 L171.11,463.26 L171.45,463.57 L171.79,464.07 L172.13,464.74 L172.47,465.53 L172.81,466.39 L173.15,467.29 L173.49,468.18 L173.83,469.03 L174.17,469.81 L174.51,470.51 L174.85,470.80 L175.18,470.82 L175.52,470.87 L175.86,470.94 L176.20,471.02 L176.54,471.12 L176.88,471.23 L177.22,471.36 L177.56,471.49 L177.90,471.63 L178.24,471.77 L178.58,471.90 L178.92,472.04 L179.26,472.17 L179.60,472.30 L179.94,472.41 L180.27,472.52 L180.61,472.62 L180.95,472.71 L181.29,472.79 L181.63,472.85 L181.97,472.92 L182.31,472.95 L182.65,472.95 L182.99,472.95 L183.33,472.95 L183.67,472.95 L184.01,472.95 L184.35,472.95 L184.69,472.95 L185.03,472.95 L185.36,472.95 L185.70,472.95 L186.04,472.95 L186.38,472.95 L186.72,472.95 L187.06,472.95 L187.40,472.95 L187.74,472.95 L188.08,472.95 L188.42,472.95 L188.76,472.95 L189.10,472.95 L189.44,472.95 L189.78,472.95 L190.12,472.95 L190.45,472.95 L190.79,472.95 L191.13,472.95 L191.47,472.95 L191.81,472.95 L192.15,472.95 L192.49,472.95 L192.83,472.95 L193.17,472.95 L193.51,472.95 L193.85,472.95 L194.19,472.95 L194.53,472.95 L194.87,472.95 L195.21,472.95 L195.54,472.95 L195.88,472.95 L196.22,472.95 L196.56,472.95 L196.90,472.95 L197.24,472.95 L197.58,472.95 L197.92,472.95 L198.26,472.95 L198.60,472.95 L198.94,472.95 L199.28,472.95 L199.62,472.95 L199.96,472.95 L200.30,472.95 L200.63,472.95 L200.97,472.95 L201.31,472.95 L201.65,472.95 L201.99,472.95 L202.33,472.95 L202.67,472.95 L203.01,472.95 L203.35,472.95 L203.69,472.95 L204.03,472.95 L204.37,472.95 L204.71,472.36 L205.05,471.01 L205.39,468.62 L205.72,465.57 L206.06,463.07 L206.40,462.56 L206.74,465.57 L207.08,469.70 L207.42,472.17 L207.76,472.95 L208.10,472.95 L208.1,473.2 Z" fill="#c8102e" stroke="#b00c26" stroke-width="0.3"/>
<rect x="156.6" y="447.8" width="52.1" height="25.899999999999977" fill="none" stroke="#1e1e1e" stroke-width="1.05"/>
<path d="M154.7,449.8H156.1 M154.7,452.4H156.1 M154.7,455.0H156.1 M154.7,457.6H156.1 M154.7,460.2H156.1 M154.7,462.8H156.1 M154.7,465.4H156.1 M154.7,468.0H156.1 M154.7,470.6H156.1 M154.7,473.2H156.1" stroke="#231f20" stroke-width="0.6" fill="none"/>
<path d="M158.6,474.2V475.5 M162.6,474.2V475.5 M166.6,474.2V475.5 M170.6,474.2V475.5 M174.6,474.2V475.5 M178.6,474.2V475.5 M182.6,474.2V475.5 M186.7,474.2V475.5 M190.7,474.2V475.5 M194.7,474.2V475.5 M198.7,474.2V475.5 M202.7,474.2V475.5 M206.7,474.2V475.5" stroke="#231f20" stroke-width="0.6" fill="none"/>
<line x1="188.381" y1="469.40000000000003" x2="208.7" y2="469.40000000000003" stroke="#231f20" stroke-width="1.0"/>
<line x1="188.381" y1="468.40000000000003" x2="188.381" y2="470.40000000000003" stroke="#231f20" stroke-width="0.8"/>
<text x="187.6" y="464.40000000000003" font-size="7.2" text-anchor="middle" fill="#231f20" textLength="12.2" lengthAdjust="spacingAndGlyphs">16.2</text>
<text x="66.3" y="377" font-size="7.6" text-anchor="middle" fill="#231f20" textLength="9.6" lengthAdjust="spacingAndGlyphs">NT</text>
<text x="123.4" y="377" font-size="7.6" text-anchor="middle" fill="#231f20" textLength="18.8" lengthAdjust="spacingAndGlyphs">BAFF</text>
<text x="181.6" y="377" font-size="7.6" text-anchor="middle" fill="#231f20" textLength="22.5" lengthAdjust="spacingAndGlyphs">CD40L</text>
<text x="212.2" y="395.6" font-size="8.0" text-anchor="start" fill="#231f20" textLength="12.4" lengthAdjust="spacingAndGlyphs">WT</text>
<text x="212.2" y="432.3" font-size="8.0" text-anchor="start" fill="#231f20" textLength="37.2" lengthAdjust="spacingAndGlyphs"><tspan font-style="italic">Dyrk1a</tspan><tspan font-size="6.08" dy="-2.88" font-style="normal">BKO</tspan></text>
<text x="212.2" y="461.3" font-size="8.0" text-anchor="start" fill="#231f20" textLength="42.4" lengthAdjust="spacingAndGlyphs"><tspan font-style="italic">Map3k14</tspan><tspan font-size="6.08" dy="-2.88" font-style="normal">Btg</tspan></text>
<text x="212.2" y="470.6" font-size="8.0" text-anchor="start" fill="#231f20" textLength="37.2" lengthAdjust="spacingAndGlyphs"><tspan font-style="italic">Dyrk1a</tspan><tspan font-size="6.08" dy="-2.88" font-style="normal">BKO</tspan></text>
<line x1="17.5" y1="441" x2="17.5" y2="384" stroke="#231f20" stroke-width="1.0"/>
<path d="M16.0,385 L17.5,380 L19.0,385 Z" fill="#231f20"/>
<text x="20.2" y="464.6" font-size="7.0" text-anchor="middle" fill="#231f20" transform="rotate(-90 20.2 464.6)" textLength="16.5" lengthAdjust="spacingAndGlyphs">%Max</text>
<text x="34.0" y="450.7" font-size="5.6" text-anchor="end" fill="#231f20">100</text>
<text x="34.0" y="455.7" font-size="5.6" text-anchor="end" fill="#231f20">80</text>
<text x="34.0" y="460.7" font-size="5.6" text-anchor="end" fill="#231f20">60</text>
<text x="34.0" y="465.7" font-size="5.6" text-anchor="end" fill="#231f20">40</text>
<text x="34.0" y="470.7" font-size="5.6" text-anchor="end" fill="#231f20">20</text>
<text x="34.0" y="475.7" font-size="5.6" text-anchor="end" fill="#231f20">0</text>
<text x="45.5" y="482.4" font-size="6.8" text-anchor="middle" fill="#231f20">0</text>
<text x="60.2" y="482.4" font-size="6.6" text-anchor="middle" fill="#231f20">10<tspan font-size="4.49" dy="-2.51">3</tspan></text>
<text x="73.8" y="482.4" font-size="6.6" text-anchor="middle" fill="#231f20">10<tspan font-size="4.49" dy="-2.51">4</tspan></text>
<text x="86" y="482.4" font-size="6.6" text-anchor="middle" fill="#231f20">10<tspan font-size="4.49" dy="-2.51">5</tspan></text>
<text x="39.2" y="491.6" font-size="7.6" text-anchor="start" fill="#231f20" textLength="62.3" lengthAdjust="spacingAndGlyphs">Blue dead cell staining</text>
<line x1="106" y1="490.5" x2="204" y2="490.5" stroke="#231f20" stroke-width="1.0"/>
<path d="M203,489.0 L208,490.5 L203,492.0 Z" fill="#231f20"/>
<line x1="289.5" y1="409.5" x2="289.5" y2="470.0" stroke="#231f20" stroke-width="1.1"/>
<line x1="289.0" y1="469.5" x2="341.6" y2="469.5" stroke="#231f20" stroke-width="1.1"/>
<line x1="286.7" y1="469.5" x2="289.5" y2="469.5" stroke="#231f20" stroke-width="0.95"/>
<text x="285.09999999999997" y="471.65" font-size="7.0" text-anchor="end" fill="#231f20">0.8</text>
<line x1="286.7" y1="457.5" x2="289.5" y2="457.5" stroke="#231f20" stroke-width="0.95"/>
<text x="285.09999999999997" y="459.78999999999996" font-size="7.0" text-anchor="end" fill="#231f20">1.0</text>
<line x1="286.7" y1="445.5" x2="289.5" y2="445.5" stroke="#231f20" stroke-width="0.95"/>
<text x="285.09999999999997" y="447.93" font-size="7.0" text-anchor="end" fill="#231f20">1.2</text>
<line x1="286.7" y1="433.5" x2="289.5" y2="433.5" stroke="#231f20" stroke-width="0.95"/>
<text x="285.09999999999997" y="436.07" font-size="7.0" text-anchor="end" fill="#231f20">1.4</text>
<line x1="286.7" y1="421.5" x2="289.5" y2="421.5" stroke="#231f20" stroke-width="0.95"/>
<text x="285.09999999999997" y="424.21" font-size="7.0" text-anchor="end" fill="#231f20">1.6</text>
<line x1="286.7" y1="409.5" x2="289.5" y2="409.5" stroke="#231f20" stroke-width="0.95"/>
<text x="285.09999999999997" y="412.34999999999997" font-size="7.0" text-anchor="end" fill="#231f20">1.8</text>
<text x="315.4" y="476.2" font-size="6.8" text-anchor="middle" fill="#231f20" textLength="23.2" lengthAdjust="spacingAndGlyphs">Medium</text>
<circle cx="302.21" cy="454.97" r="1.75" fill="#c8102e"/>
<circle cx="297.08" cy="453.78" r="1.75" fill="#c8102e"/>
<circle cx="305.72" cy="451.41" r="1.75" fill="#c8102e"/>
<circle cx="299.51" cy="449.04" r="1.75" fill="#c8102e"/>
<circle cx="303.56" cy="447.26" r="1.75" fill="#c8102e"/>
<line x1="296.15" y1="451.2914" x2="306.65" y2="451.2914" stroke="#111" stroke-width="1.0"/>
<line x1="301.4" y1="448.0870044563756" x2="301.4" y2="454.4957955436244" stroke="#111" stroke-width="0.6"/>
<line x1="299.79999999999995" y1="448.0870044563756" x2="303.0" y2="448.0870044563756" stroke="#111" stroke-width="0.6"/>
<line x1="299.79999999999995" y1="454.4957955436244" x2="303.0" y2="454.4957955436244" stroke="#111" stroke-width="0.6"/>
<rect x="314.22" y="450.85" width="3.50" height="3.50" fill="#1a4a8a"/>
<rect x="309.90" y="449.66" width="3.50" height="3.50" fill="#1a4a8a"/>
<rect x="318.27" y="448.47" width="3.50" height="3.50" fill="#1a4a8a"/>
<rect x="312.06" y="446.10" width="3.50" height="3.50" fill="#1a4a8a"/>
<line x1="310.45" y1="450.52049999999997" x2="320.95" y2="450.52049999999997" stroke="#111" stroke-width="1.0"/>
<line x1="315.7" y1="448.49501939859533" x2="315.7" y2="452.54598060140466" stroke="#111" stroke-width="0.6"/>
<line x1="314.09999999999997" y1="448.49501939859533" x2="317.3" y2="448.49501939859533" stroke="#111" stroke-width="0.6"/>
<line x1="314.09999999999997" y1="452.54598060140466" x2="317.3" y2="452.54598060140466" stroke="#111" stroke-width="0.6"/>
<path d="M327.64,423.92 L331.50,423.92 L329.57,427.24 Z" fill="#2db34a"/>
<path d="M323.32,422.73 L327.18,422.73 L325.25,426.06 Z" fill="#2db34a"/>
<path d="M331.69,422.14 L335.55,422.14 L333.62,425.46 Z" fill="#2db34a"/>
<path d="M325.49,420.95 L329.34,420.95 L327.41,424.28 Z" fill="#2db34a"/>
<line x1="324.05" y1="423.83549999999997" x2="334.55" y2="423.83549999999997" stroke="#111" stroke-width="1.0"/>
<line x1="329.3" y1="422.6010720623166" x2="329.3" y2="425.0699279376834" stroke="#111" stroke-width="0.6"/>
<line x1="327.7" y1="422.6010720623166" x2="330.90000000000003" y2="422.6010720623166" stroke="#111" stroke-width="0.6"/>
<line x1="327.7" y1="425.0699279376834" x2="330.90000000000003" y2="425.0699279376834" stroke="#111" stroke-width="0.6"/>
<path d="M315.7,418.3 L315.7,415.5 L331.7,415.5 L331.7,418.3" fill="none" stroke="#231f20" stroke-width="0.85"/>
<text x="323.7" y="416.4" font-size="6.8" text-anchor="middle" fill="#231f20" letter-spacing="-0.2">***</text>
<text x="269.3" y="440.5" font-size="7.2" text-anchor="middle" fill="#231f20" transform="rotate(-90 269.3 440.5)" textLength="68" lengthAdjust="spacingAndGlyphs"><tspan>Viable cell number (10</tspan><tspan font-size="5.47" dy="-2.59" font-style="normal">7</tspan><tspan dy="2.59">)</tspan></text>
<line x1="375.5" y1="408.8" x2="375.5" y2="469.0" stroke="#231f20" stroke-width="1.1"/>
<line x1="375.0" y1="468.5" x2="425.6" y2="468.5" stroke="#231f20" stroke-width="1.1"/>
<line x1="372.7" y1="468.5" x2="375.5" y2="468.5" stroke="#231f20" stroke-width="0.95"/>
<text x="371.09999999999997" y="471.05" font-size="7.0" text-anchor="end" fill="#231f20">1.2</text>
<line x1="372.7" y1="456.5" x2="375.5" y2="456.5" stroke="#231f20" stroke-width="0.95"/>
<text x="371.09999999999997" y="459.17" font-size="7.0" text-anchor="end" fill="#231f20">1.3</text>
<line x1="372.7" y1="444.5" x2="375.5" y2="444.5" stroke="#231f20" stroke-width="0.95"/>
<text x="371.09999999999997" y="447.29" font-size="7.0" text-anchor="end" fill="#231f20">1.4</text>
<line x1="372.7" y1="432.5" x2="375.5" y2="432.5" stroke="#231f20" stroke-width="0.95"/>
<text x="371.09999999999997" y="435.40999999999997" font-size="7.0" text-anchor="end" fill="#231f20">1.5</text>
<line x1="372.7" y1="421.5" x2="375.5" y2="421.5" stroke="#231f20" stroke-width="0.95"/>
<text x="371.09999999999997" y="423.53" font-size="7.0" text-anchor="end" fill="#231f20">1.6</text>
<line x1="372.7" y1="409.5" x2="375.5" y2="409.5" stroke="#231f20" stroke-width="0.95"/>
<text x="371.09999999999997" y="411.65" font-size="7.0" text-anchor="end" fill="#231f20">1.7</text>
<text x="400.7" y="475.6" font-size="6.8" text-anchor="middle" fill="#231f20" textLength="15.3" lengthAdjust="spacingAndGlyphs">BAFF</text>
<circle cx="386.87" cy="435.34" r="1.75" fill="#c8102e"/>
<circle cx="382.55" cy="431.77" r="1.75" fill="#c8102e"/>
<circle cx="390.92" cy="429.40" r="1.75" fill="#c8102e"/>
<circle cx="384.71" cy="427.02" r="1.75" fill="#c8102e"/>
<line x1="381.35" y1="430.881" x2="391.85" y2="430.881" stroke="#111" stroke-width="1.0"/>
<line x1="386.6" y1="427.33353837230055" x2="386.6" y2="434.42846162769945" stroke="#111" stroke-width="0.6"/>
<line x1="385.0" y1="427.33353837230055" x2="388.20000000000005" y2="427.33353837230055" stroke="#111" stroke-width="0.6"/>
<line x1="385.0" y1="434.42846162769945" x2="388.20000000000005" y2="434.42846162769945" stroke="#111" stroke-width="0.6"/>
<rect x="399.22" y="457.35" width="3.50" height="3.50" fill="#1a4a8a"/>
<rect x="394.90" y="454.97" width="3.50" height="3.50" fill="#1a4a8a"/>
<rect x="403.27" y="453.78" width="3.50" height="3.50" fill="#1a4a8a"/>
<rect x="397.06" y="451.41" width="3.50" height="3.50" fill="#1a4a8a"/>
<line x1="395.45" y1="456.126" x2="405.95" y2="456.126" stroke="#111" stroke-width="1.0"/>
<line x1="400.7" y1="453.65298079263425" x2="400.7" y2="458.59901920736576" stroke="#111" stroke-width="0.6"/>
<line x1="399.09999999999997" y1="453.65298079263425" x2="402.3" y2="453.65298079263425" stroke="#111" stroke-width="0.6"/>
<line x1="399.09999999999997" y1="458.59901920736576" x2="402.3" y2="458.59901920736576" stroke="#111" stroke-width="0.6"/>
<path d="M412.44,422.06 L416.30,422.06 L414.37,425.38 Z" fill="#2db34a"/>
<path d="M408.12,420.87 L411.98,420.87 L410.05,424.19 Z" fill="#2db34a"/>
<path d="M416.50,418.49 L420.35,418.49 L418.42,421.82 Z" fill="#2db34a"/>
<path d="M410.29,416.12 L414.14,416.12 L412.21,419.44 Z" fill="#2db34a"/>
<line x1="408.85" y1="420.783" x2="419.35" y2="420.783" stroke="#111" stroke-width="1.0"/>
<line x1="414.1" y1="418.1487813302613" x2="414.1" y2="423.4172186697387" stroke="#111" stroke-width="0.6"/>
<line x1="412.5" y1="418.1487813302613" x2="415.70000000000005" y2="418.1487813302613" stroke="#111" stroke-width="0.6"/>
<line x1="412.5" y1="423.4172186697387" x2="415.70000000000005" y2="423.4172186697387" stroke="#111" stroke-width="0.6"/>
<path d="M399.5,413.8 L399.5,411 L415.5,411 L415.5,413.8" fill="none" stroke="#231f20" stroke-width="0.85"/>
<text x="407.5" y="411.9" font-size="6.8" text-anchor="middle" fill="#231f20" letter-spacing="-0.2">***</text>
<text x="356.4" y="439.3" font-size="7.2" text-anchor="middle" fill="#231f20" transform="rotate(-90 356.4 439.3)" textLength="67.3" lengthAdjust="spacingAndGlyphs"><tspan>Viable cell number (10</tspan><tspan font-size="5.47" dy="-2.59" font-style="normal">7</tspan><tspan dy="2.59">)</tspan></text>
<line x1="461.5" y1="409.0" x2="461.5" y2="469.0" stroke="#231f20" stroke-width="1.1"/>
<line x1="461.0" y1="468.5" x2="513.3" y2="468.5" stroke="#231f20" stroke-width="1.1"/>
<line x1="458.7" y1="468.5" x2="461.5" y2="468.5" stroke="#231f20" stroke-width="0.95"/>
<text x="457.09999999999997" y="471.05" font-size="7.0" text-anchor="end" fill="#231f20">1.2</text>
<line x1="458.7" y1="458.5" x2="461.5" y2="458.5" stroke="#231f20" stroke-width="0.95"/>
<text x="457.09999999999997" y="461.18333333333334" font-size="7.0" text-anchor="end" fill="#231f20">1.4</text>
<line x1="458.7" y1="448.5" x2="461.5" y2="448.5" stroke="#231f20" stroke-width="0.95"/>
<text x="457.09999999999997" y="451.31666666666666" font-size="7.0" text-anchor="end" fill="#231f20">1.6</text>
<line x1="458.7" y1="439.5" x2="461.5" y2="439.5" stroke="#231f20" stroke-width="0.95"/>
<text x="457.09999999999997" y="441.45" font-size="7.0" text-anchor="end" fill="#231f20">1.8</text>
<line x1="458.7" y1="429.5" x2="461.5" y2="429.5" stroke="#231f20" stroke-width="0.95"/>
<text x="457.09999999999997" y="431.5833333333333" font-size="7.0" text-anchor="end" fill="#231f20">2.0</text>
<line x1="458.7" y1="419.5" x2="461.5" y2="419.5" stroke="#231f20" stroke-width="0.95"/>
<text x="457.09999999999997" y="421.71666666666664" font-size="7.0" text-anchor="end" fill="#231f20">2.2</text>
<line x1="458.7" y1="409.5" x2="461.5" y2="409.5" stroke="#231f20" stroke-width="0.95"/>
<text x="457.09999999999997" y="411.84999999999997" font-size="7.0" text-anchor="end" fill="#231f20">2.4</text>
<text x="486.8" y="475.4" font-size="6.8" text-anchor="middle" fill="#231f20" textLength="18.7" lengthAdjust="spacingAndGlyphs">CD40L</text>
<circle cx="473.47" cy="430.61" r="1.75" fill="#c8102e"/>
<circle cx="469.15" cy="429.13" r="1.75" fill="#c8102e"/>
<circle cx="477.52" cy="428.15" r="1.75" fill="#c8102e"/>
<circle cx="471.31" cy="427.16" r="1.75" fill="#c8102e"/>
<line x1="467.95" y1="428.7633333333333" x2="478.45" y2="428.7633333333333" stroke="#111" stroke-width="1.0"/>
<line x1="473.2" y1="427.29020111981055" x2="473.2" y2="430.2364655468561" stroke="#111" stroke-width="0.6"/>
<line x1="471.59999999999997" y1="427.29020111981055" x2="474.8" y2="427.29020111981055" stroke="#111" stroke-width="0.6"/>
<line x1="471.59999999999997" y1="430.2364655468561" x2="474.8" y2="430.2364655468561" stroke="#111" stroke-width="0.6"/>
<rect x="485.82" y="455.50" width="3.50" height="3.50" fill="#1a4a8a"/>
<rect x="481.50" y="454.52" width="3.50" height="3.50" fill="#1a4a8a"/>
<rect x="489.87" y="454.02" width="3.50" height="3.50" fill="#1a4a8a"/>
<rect x="483.66" y="453.04" width="3.50" height="3.50" fill="#1a4a8a"/>
<line x1="482.05" y1="456.02" x2="492.55" y2="456.02" stroke="#111" stroke-width="1.0"/>
<line x1="487.3" y1="454.9930447735967" x2="487.3" y2="457.04695522640327" stroke="#111" stroke-width="0.6"/>
<line x1="485.7" y1="454.9930447735967" x2="488.90000000000003" y2="454.9930447735967" stroke="#111" stroke-width="0.6"/>
<line x1="485.7" y1="457.04695522640327" x2="488.90000000000003" y2="457.04695522640327" stroke="#111" stroke-width="0.6"/>
<path d="M499.24,420.83 L503.09,420.83 L501.17,424.15 Z" fill="#2db34a"/>
<path d="M494.92,419.84 L498.77,419.84 L496.85,423.17 Z" fill="#2db34a"/>
<path d="M503.29,418.85 L507.14,418.85 L505.22,422.18 Z" fill="#2db34a"/>
<path d="M497.08,417.87 L500.94,417.87 L499.01,421.19 Z" fill="#2db34a"/>
<line x1="495.65" y1="420.74666666666667" x2="506.15" y2="420.74666666666667" stroke="#111" stroke-width="1.0"/>
<line x1="500.9" y1="419.4728854772473" x2="500.9" y2="422.020447856086" stroke="#111" stroke-width="0.6"/>
<line x1="499.29999999999995" y1="419.4728854772473" x2="502.5" y2="419.4728854772473" stroke="#111" stroke-width="0.6"/>
<line x1="499.29999999999995" y1="422.020447856086" x2="502.5" y2="422.020447856086" stroke="#111" stroke-width="0.6"/>
<path d="M487.3,414.0 L487.3,411.2 L502.5,411.2 L502.5,414.0" fill="none" stroke="#231f20" stroke-width="0.85"/>
<text x="494.9" y="412.09999999999997" font-size="6.8" text-anchor="middle" fill="#231f20" letter-spacing="-0.2">***</text>
<text x="441.8" y="440.4" font-size="7.2" text-anchor="middle" fill="#231f20" transform="rotate(-90 441.8 440.4)" textLength="69.7" lengthAdjust="spacingAndGlyphs"><tspan>Viable cell number (10</tspan><tspan font-size="5.47" dy="-2.59" font-style="normal">7</tspan><tspan dy="2.59">)</tspan></text>
<rect x="0.5" y="0.5" width="519" height="498" fill="none" stroke="#1a1416" stroke-width="1"/>
</svg>
</body></html>
